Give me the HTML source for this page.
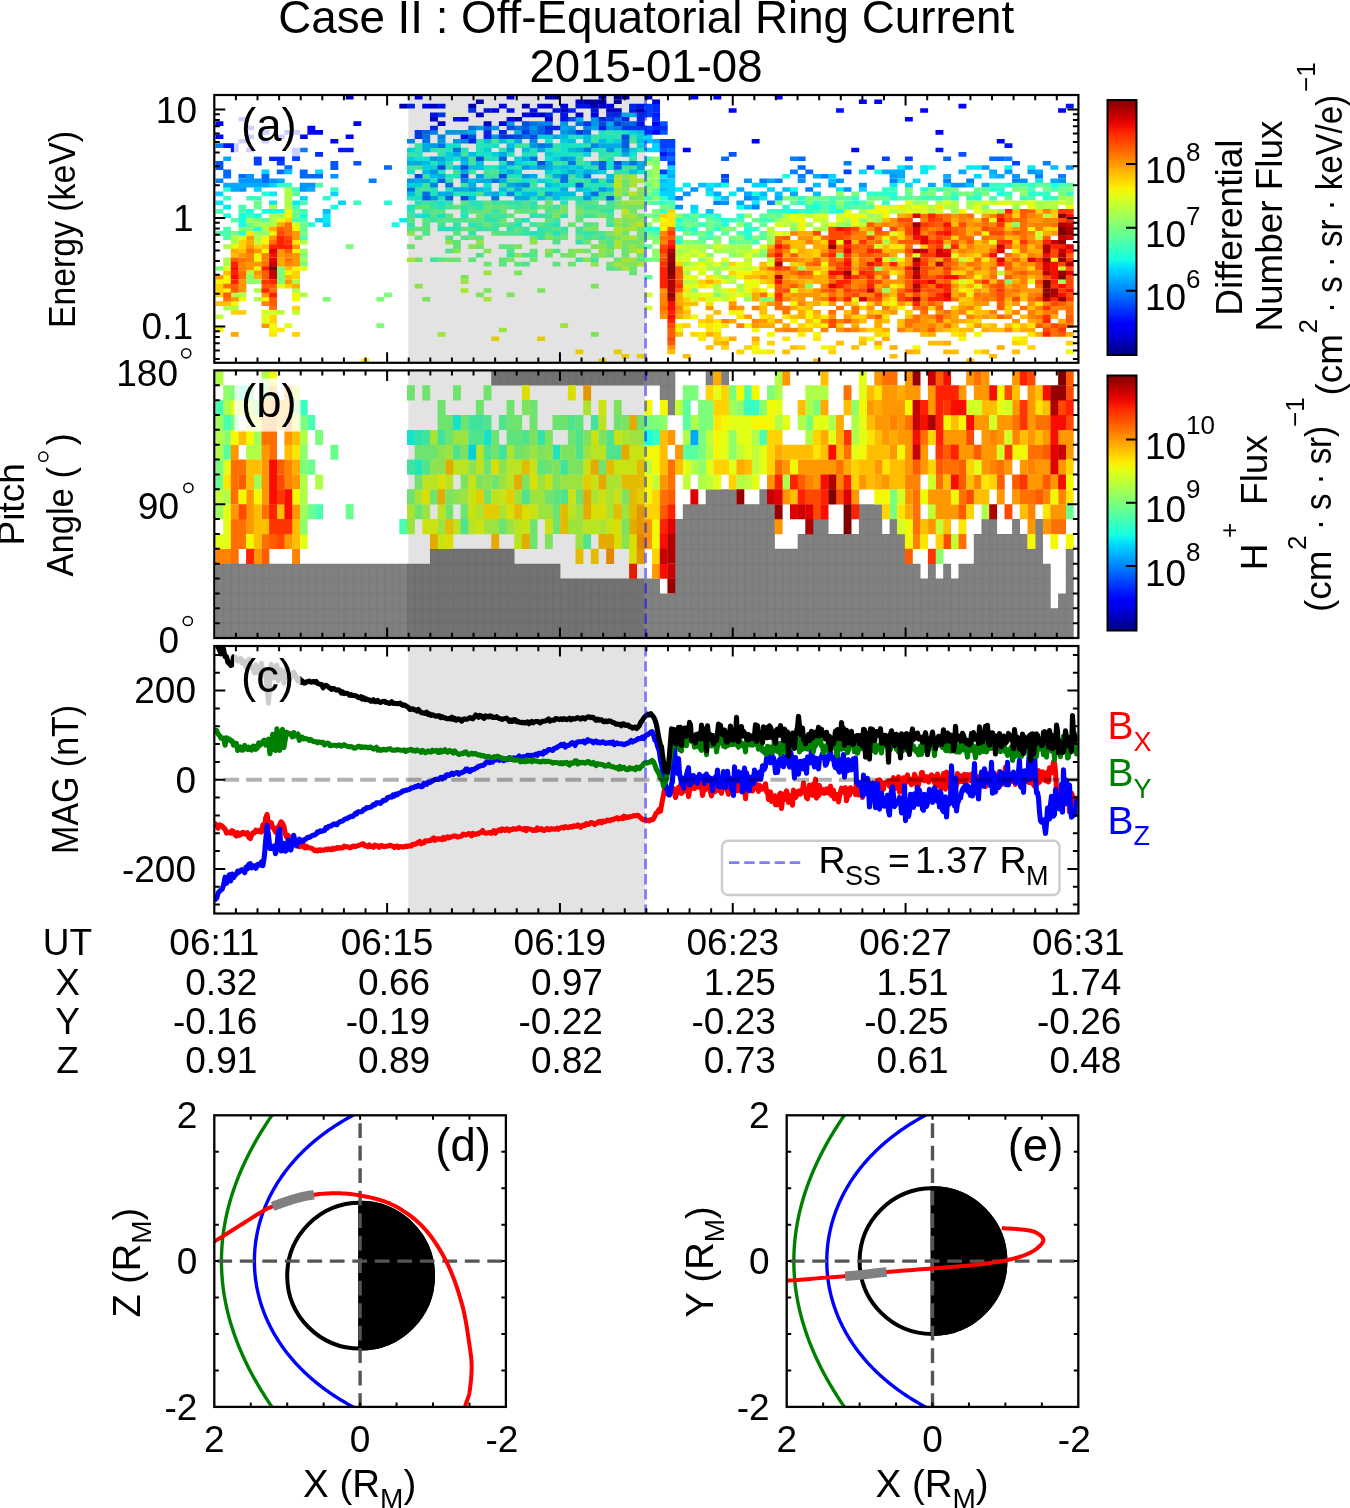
<!DOCTYPE html><html><head><meta charset="utf-8"><style>html,body{margin:0;padding:0;background:#fff;overflow:hidden}svg{display:block;will-change:transform}</style></head><body><svg width="1350" height="1508" viewBox="0 0 1350 1508" font-family="'Liberation Sans', sans-serif"><rect width="1350" height="1508" fill="#fff"/><defs><linearGradient id="jet" x1="0" y1="1" x2="0" y2="0"><stop offset="0.000" stop-color="#000080"/><stop offset="0.031" stop-color="#0000a4"/><stop offset="0.062" stop-color="#0000c8"/><stop offset="0.094" stop-color="#0000ec"/><stop offset="0.125" stop-color="#0000ff"/><stop offset="0.156" stop-color="#0020ff"/><stop offset="0.188" stop-color="#0040ff"/><stop offset="0.219" stop-color="#0060ff"/><stop offset="0.250" stop-color="#0080ff"/><stop offset="0.281" stop-color="#009fff"/><stop offset="0.312" stop-color="#00bfff"/><stop offset="0.344" stop-color="#00dffc"/><stop offset="0.375" stop-color="#15ffe2"/><stop offset="0.406" stop-color="#2effc9"/><stop offset="0.438" stop-color="#48ffaf"/><stop offset="0.469" stop-color="#62ff95"/><stop offset="0.500" stop-color="#7bff7b"/><stop offset="0.531" stop-color="#95ff62"/><stop offset="0.562" stop-color="#afff48"/><stop offset="0.594" stop-color="#c9ff2e"/><stop offset="0.625" stop-color="#e2ff15"/><stop offset="0.656" stop-color="#fcf000"/><stop offset="0.688" stop-color="#ffd200"/><stop offset="0.719" stop-color="#ffb500"/><stop offset="0.750" stop-color="#ff9700"/><stop offset="0.781" stop-color="#ff7a00"/><stop offset="0.812" stop-color="#ff5c00"/><stop offset="0.844" stop-color="#ff3f00"/><stop offset="0.875" stop-color="#ff2100"/><stop offset="0.906" stop-color="#ec0400"/><stop offset="0.938" stop-color="#c80000"/><stop offset="0.969" stop-color="#a40000"/><stop offset="1.000" stop-color="#800000"/></linearGradient></defs><text x="646.2" y="33.3" font-size="46" text-anchor="middle" fill="#000" textLength="736" lengthAdjust="spacingAndGlyphs">Case II : Off-Equatorial Ring Current</text><text x="646.0" y="82.3" font-size="46" text-anchor="middle" fill="#000" textLength="233" lengthAdjust="spacingAndGlyphs">2015-01-08</text><rect x="408.3" y="95.0" width="236.99999999999994" height="267.8" fill="#e3e3e3"/><path fill="#f3f903" d="M215.5 327.7h7.9v4.6h-7.9zM215.5 279.4h7.9v4.6h-7.9zM223.2 288.2h7.9v4.6h-7.9zM223.2 275.0h7.9v9.0h-7.9zM230.8 301.3h7.9v4.6h-7.9zM230.8 244.3h7.9v4.6h-7.9zM238.5 296.9h7.9v4.6h-7.9zM253.8 266.2h7.9v4.6h-7.9zM253.8 253.0h7.9v9.0h-7.9zM261.5 296.9h7.9v4.6h-7.9zM261.5 248.7h7.9v4.6h-7.9zM261.5 235.5h7.9v9.0h-7.9zM269.1 323.3h7.9v9.0h-7.9zM269.1 231.1h7.9v4.6h-7.9zM284.4 270.6h7.9v4.6h-7.9zM284.4 209.1h7.9v9.0h-7.9zM292.1 292.6h7.9v9.0h-7.9zM292.1 266.2h7.9v4.6h-7.9zM292.1 248.7h7.9v4.6h-7.9zM292.1 226.7h7.9v4.6h-7.9zM659.8 226.7h7.9v4.6h-7.9zM659.8 217.9h7.9v4.6h-7.9zM675.1 327.7h7.9v4.6h-7.9zM682.8 275.0h7.9v4.6h-7.9zM690.4 314.5h7.9v4.6h-7.9zM698.1 323.3h7.9v4.6h-7.9zM698.1 261.8h7.9v4.6h-7.9zM705.7 292.6h7.9v4.6h-7.9zM705.7 283.8h7.9v4.6h-7.9zM713.4 323.3h7.9v9.0h-7.9zM728.7 310.1h7.9v4.6h-7.9zM728.7 296.9h7.9v4.6h-7.9zM736.4 310.1h7.9v4.6h-7.9zM736.4 270.6h7.9v9.0h-7.9zM744.0 323.3h7.9v4.6h-7.9zM744.0 288.2h7.9v4.6h-7.9zM744.0 279.4h7.9v4.6h-7.9zM744.0 270.6h7.9v4.6h-7.9zM751.7 345.2h7.9v9.0h-7.9zM751.7 327.7h7.9v4.6h-7.9zM751.7 283.8h7.9v4.6h-7.9zM759.4 349.6h7.9v4.6h-7.9zM759.4 288.2h7.9v4.6h-7.9zM767.0 332.1h7.9v4.6h-7.9zM767.0 292.6h7.9v4.6h-7.9zM767.0 283.8h7.9v4.6h-7.9zM790.0 318.9h7.9v4.6h-7.9zM790.0 301.3h7.9v4.6h-7.9zM797.7 217.9h7.9v13.4h-7.9zM805.3 323.3h7.9v4.6h-7.9zM805.3 310.1h7.9v9.0h-7.9zM813.0 332.1h7.9v4.6h-7.9zM813.0 318.9h7.9v4.6h-7.9zM813.0 270.6h7.9v4.6h-7.9zM820.6 345.2h7.9v4.6h-7.9zM820.6 323.3h7.9v4.6h-7.9zM820.6 261.8h7.9v4.6h-7.9zM843.6 213.5h7.9v4.6h-7.9zM851.3 213.5h7.9v9.0h-7.9zM858.9 213.5h7.9v4.6h-7.9zM866.6 336.5h7.9v4.6h-7.9zM874.3 345.2h7.9v4.6h-7.9zM874.3 204.8h7.9v9.0h-7.9zM881.9 235.5h7.9v4.6h-7.9zM881.9 209.1h7.9v9.0h-7.9zM889.6 301.3h7.9v4.6h-7.9zM889.6 283.8h7.9v4.6h-7.9zM897.2 305.7h7.9v4.6h-7.9zM897.2 257.4h7.9v4.6h-7.9zM904.9 209.1h7.9v4.6h-7.9zM904.9 200.4h7.9v4.6h-7.9zM912.6 345.2h7.9v4.6h-7.9zM912.6 204.8h7.9v4.6h-7.9zM958.5 336.5h7.9v4.6h-7.9zM958.5 288.2h7.9v4.6h-7.9zM958.5 209.1h7.9v4.6h-7.9zM966.2 310.1h7.9v4.6h-7.9zM966.2 292.6h7.9v4.6h-7.9zM973.8 332.1h7.9v4.6h-7.9zM973.8 275.0h7.9v4.6h-7.9zM981.5 231.1h7.9v4.6h-7.9zM1012.1 336.5h7.9v4.6h-7.9zM1012.1 323.3h7.9v4.6h-7.9zM1027.5 226.7h7.9v4.6h-7.9zM1050.4 257.4h7.9v4.6h-7.9zM1065.8 349.6h7.9v4.6h-7.9zM1065.8 204.8h7.9v4.6h-7.9z"/><path fill="#c0ff37" d="M215.5 314.5h7.9v4.6h-7.9zM253.8 239.9h7.9v4.6h-7.9zM276.8 310.1h7.9v4.6h-7.9zM292.1 310.1h7.9v4.6h-7.9zM675.1 253.0h7.9v4.6h-7.9zM690.4 279.4h7.9v4.6h-7.9zM690.4 261.8h7.9v4.6h-7.9zM721.1 292.6h7.9v9.0h-7.9zM721.1 266.2h7.9v4.6h-7.9zM721.1 244.3h7.9v4.6h-7.9zM728.7 275.0h7.9v4.6h-7.9zM736.4 248.7h7.9v4.6h-7.9zM744.0 292.6h7.9v4.6h-7.9zM744.0 266.2h7.9v4.6h-7.9zM744.0 257.4h7.9v4.6h-7.9zM767.0 257.4h7.9v4.6h-7.9zM767.0 226.7h7.9v4.6h-7.9zM782.3 213.5h7.9v13.4h-7.9zM805.3 213.5h7.9v4.6h-7.9zM820.6 217.9h7.9v4.6h-7.9zM858.9 222.3h7.9v4.6h-7.9zM866.6 231.1h7.9v4.6h-7.9zM866.6 217.9h7.9v4.6h-7.9zM897.2 209.1h7.9v4.6h-7.9zM904.9 204.8h7.9v4.6h-7.9zM958.5 257.4h7.9v4.6h-7.9zM973.8 200.4h7.9v4.6h-7.9zM981.5 209.1h7.9v4.6h-7.9zM989.2 200.4h7.9v4.6h-7.9zM996.8 270.6h7.9v4.6h-7.9zM1012.1 200.4h7.9v4.6h-7.9zM1035.1 235.5h7.9v4.6h-7.9zM1050.4 200.4h7.9v4.6h-7.9z"/><path fill="#ffbe00" d="M215.5 301.3h7.9v4.6h-7.9zM223.2 301.3h7.9v4.6h-7.9zM223.2 270.6h7.9v4.6h-7.9zM230.8 253.0h7.9v4.6h-7.9zM238.5 248.7h7.9v4.6h-7.9zM261.5 244.3h7.9v4.6h-7.9zM284.4 275.0h7.9v4.6h-7.9zM284.4 266.2h7.9v4.6h-7.9zM667.4 349.6h7.9v4.6h-7.9zM675.1 332.1h7.9v4.6h-7.9zM682.8 354.0h7.9v4.6h-7.9zM682.8 310.1h7.9v4.6h-7.9zM682.8 301.3h7.9v4.6h-7.9zM690.4 301.3h7.9v4.6h-7.9zM705.7 345.2h7.9v4.6h-7.9zM705.7 318.9h7.9v4.6h-7.9zM713.4 340.8h7.9v4.6h-7.9zM713.4 310.1h7.9v4.6h-7.9zM744.0 275.0h7.9v4.6h-7.9zM751.7 275.0h7.9v4.6h-7.9zM759.4 305.7h7.9v9.0h-7.9zM759.4 261.8h7.9v4.6h-7.9zM767.0 270.6h7.9v13.4h-7.9zM782.3 349.6h7.9v4.6h-7.9zM790.0 345.2h7.9v4.6h-7.9zM790.0 314.5h7.9v4.6h-7.9zM790.0 239.9h7.9v9.0h-7.9zM797.7 327.7h7.9v4.6h-7.9zM797.7 261.8h7.9v4.6h-7.9zM797.7 253.0h7.9v4.6h-7.9zM797.7 239.9h7.9v9.0h-7.9zM805.3 327.7h7.9v4.6h-7.9zM805.3 318.9h7.9v4.6h-7.9zM805.3 301.3h7.9v9.0h-7.9zM805.3 288.2h7.9v4.6h-7.9zM805.3 279.4h7.9v4.6h-7.9zM805.3 248.7h7.9v9.0h-7.9zM813.0 358.4h7.9v4.6h-7.9zM813.0 314.5h7.9v4.6h-7.9zM820.6 292.6h7.9v4.6h-7.9zM820.6 270.6h7.9v4.6h-7.9zM836.0 340.8h7.9v4.6h-7.9zM843.6 310.1h7.9v4.6h-7.9zM851.3 345.2h7.9v4.6h-7.9zM851.3 270.6h7.9v4.6h-7.9zM851.3 257.4h7.9v4.6h-7.9zM851.3 239.9h7.9v4.6h-7.9zM858.9 340.8h7.9v4.6h-7.9zM858.9 318.9h7.9v4.6h-7.9zM858.9 226.7h7.9v4.6h-7.9zM866.6 310.1h7.9v4.6h-7.9zM874.3 275.0h7.9v4.6h-7.9zM881.9 318.9h7.9v4.6h-7.9zM881.9 296.9h7.9v4.6h-7.9zM881.9 244.3h7.9v9.0h-7.9zM881.9 217.9h7.9v4.6h-7.9zM889.6 354.0h7.9v4.6h-7.9zM889.6 305.7h7.9v4.6h-7.9zM889.6 288.2h7.9v9.0h-7.9zM897.2 318.9h7.9v9.0h-7.9zM897.2 270.6h7.9v4.6h-7.9zM897.2 261.8h7.9v4.6h-7.9zM904.9 314.5h7.9v4.6h-7.9zM912.6 349.6h7.9v4.6h-7.9zM920.2 332.1h7.9v4.6h-7.9zM927.9 340.8h7.9v4.6h-7.9zM935.5 340.8h7.9v4.6h-7.9zM943.2 349.6h7.9v4.6h-7.9zM943.2 327.7h7.9v4.6h-7.9zM943.2 318.9h7.9v4.6h-7.9zM950.9 349.6h7.9v4.6h-7.9zM950.9 323.3h7.9v4.6h-7.9zM950.9 222.3h7.9v4.6h-7.9zM958.5 327.7h7.9v4.6h-7.9zM958.5 301.3h7.9v4.6h-7.9zM958.5 244.3h7.9v4.6h-7.9zM966.2 358.4h7.9v4.6h-7.9zM966.2 327.7h7.9v4.6h-7.9zM966.2 318.9h7.9v4.6h-7.9zM966.2 296.9h7.9v9.0h-7.9zM966.2 266.2h7.9v4.6h-7.9zM966.2 253.0h7.9v4.6h-7.9zM973.8 310.1h7.9v4.6h-7.9zM973.8 270.6h7.9v4.6h-7.9zM973.8 239.9h7.9v4.6h-7.9zM973.8 217.9h7.9v4.6h-7.9zM981.5 349.6h7.9v4.6h-7.9zM981.5 310.1h7.9v4.6h-7.9zM981.5 288.2h7.9v4.6h-7.9zM981.5 270.6h7.9v4.6h-7.9zM989.2 354.0h7.9v4.6h-7.9zM989.2 323.3h7.9v9.0h-7.9zM989.2 279.4h7.9v4.6h-7.9zM996.8 327.7h7.9v4.6h-7.9zM1004.5 323.3h7.9v4.6h-7.9zM1004.5 301.3h7.9v4.6h-7.9zM1004.5 235.5h7.9v4.6h-7.9zM1004.5 226.7h7.9v4.6h-7.9zM1012.1 349.6h7.9v4.6h-7.9zM1012.1 209.1h7.9v4.6h-7.9zM1019.8 323.3h7.9v4.6h-7.9zM1019.8 314.5h7.9v4.6h-7.9zM1019.8 292.6h7.9v9.0h-7.9zM1027.5 305.7h7.9v4.6h-7.9zM1027.5 275.0h7.9v4.6h-7.9zM1027.5 244.3h7.9v4.6h-7.9zM1050.4 209.1h7.9v4.6h-7.9z"/><path fill="#ffd200" d="M215.5 283.8h7.9v13.4h-7.9zM230.8 310.1h7.9v4.6h-7.9zM238.5 310.1h7.9v4.6h-7.9zM238.5 239.9h7.9v9.0h-7.9zM253.8 244.3h7.9v4.6h-7.9zM269.1 314.5h7.9v9.0h-7.9zM284.4 283.8h7.9v4.6h-7.9zM284.4 217.9h7.9v4.6h-7.9zM292.1 332.1h7.9v4.6h-7.9zM292.1 305.7h7.9v4.6h-7.9zM292.1 270.6h7.9v9.0h-7.9zM659.8 213.5h7.9v4.6h-7.9zM667.4 209.1h7.9v4.6h-7.9zM675.1 261.8h7.9v4.6h-7.9zM682.8 323.3h7.9v4.6h-7.9zM682.8 314.5h7.9v4.6h-7.9zM682.8 296.9h7.9v4.6h-7.9zM690.4 332.1h7.9v4.6h-7.9zM698.1 318.9h7.9v4.6h-7.9zM698.1 296.9h7.9v4.6h-7.9zM698.1 279.4h7.9v4.6h-7.9zM705.7 314.5h7.9v4.6h-7.9zM713.4 332.1h7.9v9.0h-7.9zM713.4 279.4h7.9v4.6h-7.9zM721.1 345.2h7.9v4.6h-7.9zM728.7 270.6h7.9v4.6h-7.9zM728.7 261.8h7.9v4.6h-7.9zM736.4 349.6h7.9v4.6h-7.9zM744.0 345.2h7.9v4.6h-7.9zM751.7 340.8h7.9v4.6h-7.9zM751.7 288.2h7.9v4.6h-7.9zM751.7 270.6h7.9v4.6h-7.9zM759.4 301.3h7.9v4.6h-7.9zM759.4 279.4h7.9v4.6h-7.9zM759.4 270.6h7.9v4.6h-7.9zM767.0 340.8h7.9v4.6h-7.9zM767.0 314.5h7.9v9.0h-7.9zM790.0 261.8h7.9v4.6h-7.9zM797.7 345.2h7.9v4.6h-7.9zM797.7 323.3h7.9v4.6h-7.9zM797.7 305.7h7.9v4.6h-7.9zM813.0 323.3h7.9v4.6h-7.9zM813.0 248.7h7.9v9.0h-7.9zM820.6 266.2h7.9v4.6h-7.9zM820.6 239.9h7.9v4.6h-7.9zM828.3 349.6h7.9v4.6h-7.9zM836.0 323.3h7.9v4.6h-7.9zM851.3 314.5h7.9v4.6h-7.9zM851.3 301.3h7.9v4.6h-7.9zM858.9 336.5h7.9v4.6h-7.9zM858.9 314.5h7.9v4.6h-7.9zM858.9 305.7h7.9v4.6h-7.9zM866.6 327.7h7.9v4.6h-7.9zM866.6 301.3h7.9v4.6h-7.9zM874.3 327.7h7.9v9.0h-7.9zM874.3 310.1h7.9v4.6h-7.9zM897.2 283.8h7.9v4.6h-7.9zM897.2 231.1h7.9v9.0h-7.9zM904.9 310.1h7.9v4.6h-7.9zM904.9 301.3h7.9v4.6h-7.9zM920.2 244.3h7.9v4.6h-7.9zM927.9 305.7h7.9v4.6h-7.9zM950.9 327.7h7.9v4.6h-7.9zM950.9 305.7h7.9v4.6h-7.9zM950.9 279.4h7.9v4.6h-7.9zM950.9 270.6h7.9v4.6h-7.9zM950.9 235.5h7.9v4.6h-7.9zM958.5 332.1h7.9v4.6h-7.9zM958.5 296.9h7.9v4.6h-7.9zM958.5 283.8h7.9v4.6h-7.9zM958.5 270.6h7.9v4.6h-7.9zM973.8 318.9h7.9v4.6h-7.9zM973.8 305.7h7.9v4.6h-7.9zM973.8 253.0h7.9v4.6h-7.9zM981.5 323.3h7.9v4.6h-7.9zM1004.5 305.7h7.9v9.0h-7.9zM1004.5 222.3h7.9v4.6h-7.9zM1012.1 340.8h7.9v4.6h-7.9zM1012.1 327.7h7.9v4.6h-7.9zM1012.1 239.9h7.9v4.6h-7.9zM1012.1 213.5h7.9v4.6h-7.9zM1019.8 253.0h7.9v4.6h-7.9zM1027.5 345.2h7.9v4.6h-7.9zM1027.5 266.2h7.9v4.6h-7.9zM1035.1 209.1h7.9v4.6h-7.9zM1042.8 226.7h7.9v4.6h-7.9zM1050.4 226.7h7.9v4.6h-7.9zM1050.4 213.5h7.9v4.6h-7.9zM1065.8 340.8h7.9v4.6h-7.9z"/><path fill="#ff9700" d="M215.5 275.0h7.9v4.6h-7.9zM230.8 296.9h7.9v4.6h-7.9zM238.5 279.4h7.9v13.4h-7.9zM238.5 253.0h7.9v4.6h-7.9zM246.1 261.8h7.9v9.0h-7.9zM246.1 244.3h7.9v4.6h-7.9zM246.1 235.5h7.9v4.6h-7.9zM253.8 270.6h7.9v4.6h-7.9zM253.8 261.8h7.9v4.6h-7.9zM253.8 248.7h7.9v4.6h-7.9zM261.5 323.3h7.9v4.6h-7.9zM261.5 292.6h7.9v4.6h-7.9zM269.1 235.5h7.9v4.6h-7.9zM276.8 248.7h7.9v9.0h-7.9zM284.4 279.4h7.9v4.6h-7.9zM292.1 253.0h7.9v13.4h-7.9zM292.1 244.3h7.9v4.6h-7.9zM292.1 231.1h7.9v9.0h-7.9zM659.8 314.5h7.9v4.6h-7.9zM659.8 288.2h7.9v4.6h-7.9zM667.4 345.2h7.9v4.6h-7.9zM675.1 310.1h7.9v4.6h-7.9zM705.7 305.7h7.9v4.6h-7.9zM728.7 301.3h7.9v4.6h-7.9zM736.4 305.7h7.9v4.6h-7.9zM744.0 314.5h7.9v4.6h-7.9zM751.7 323.3h7.9v4.6h-7.9zM759.4 318.9h7.9v4.6h-7.9zM759.4 275.0h7.9v4.6h-7.9zM767.0 301.3h7.9v4.6h-7.9zM774.7 327.7h7.9v4.6h-7.9zM774.7 318.9h7.9v4.6h-7.9zM782.3 270.6h7.9v9.0h-7.9zM790.0 292.6h7.9v4.6h-7.9zM790.0 279.4h7.9v4.6h-7.9zM790.0 266.2h7.9v4.6h-7.9zM797.7 292.6h7.9v9.0h-7.9zM797.7 283.8h7.9v4.6h-7.9zM797.7 257.4h7.9v4.6h-7.9zM797.7 235.5h7.9v4.6h-7.9zM805.3 292.6h7.9v4.6h-7.9zM805.3 235.5h7.9v4.6h-7.9zM813.0 288.2h7.9v13.4h-7.9zM820.6 248.7h7.9v4.6h-7.9zM828.3 314.5h7.9v4.6h-7.9zM828.3 301.3h7.9v4.6h-7.9zM828.3 266.2h7.9v4.6h-7.9zM836.0 327.7h7.9v4.6h-7.9zM836.0 288.2h7.9v9.0h-7.9zM843.6 314.5h7.9v4.6h-7.9zM851.3 318.9h7.9v4.6h-7.9zM851.3 266.2h7.9v4.6h-7.9zM851.3 253.0h7.9v4.6h-7.9zM866.6 305.7h7.9v4.6h-7.9zM866.6 226.7h7.9v4.6h-7.9zM874.3 235.5h7.9v4.6h-7.9zM874.3 222.3h7.9v4.6h-7.9zM881.9 292.6h7.9v4.6h-7.9zM881.9 279.4h7.9v4.6h-7.9zM881.9 261.8h7.9v4.6h-7.9zM889.6 310.1h7.9v4.6h-7.9zM889.6 279.4h7.9v4.6h-7.9zM889.6 266.2h7.9v4.6h-7.9zM889.6 235.5h7.9v4.6h-7.9zM889.6 217.9h7.9v9.0h-7.9zM897.2 301.3h7.9v4.6h-7.9zM897.2 275.0h7.9v9.0h-7.9zM897.2 266.2h7.9v4.6h-7.9zM897.2 226.7h7.9v4.6h-7.9zM904.9 292.6h7.9v4.6h-7.9zM904.9 257.4h7.9v9.0h-7.9zM904.9 213.5h7.9v4.6h-7.9zM912.6 323.3h7.9v4.6h-7.9zM920.2 314.5h7.9v17.8h-7.9zM927.9 261.8h7.9v4.6h-7.9zM935.5 310.1h7.9v4.6h-7.9zM950.9 318.9h7.9v4.6h-7.9zM950.9 283.8h7.9v4.6h-7.9zM950.9 257.4h7.9v4.6h-7.9zM950.9 213.5h7.9v4.6h-7.9zM958.5 305.7h7.9v4.6h-7.9zM958.5 266.2h7.9v4.6h-7.9zM958.5 239.9h7.9v4.6h-7.9zM966.2 275.0h7.9v4.6h-7.9zM966.2 248.7h7.9v4.6h-7.9zM966.2 217.9h7.9v9.0h-7.9zM973.8 323.3h7.9v4.6h-7.9zM973.8 301.3h7.9v4.6h-7.9zM973.8 288.2h7.9v4.6h-7.9zM981.5 314.5h7.9v4.6h-7.9zM981.5 301.3h7.9v4.6h-7.9zM981.5 283.8h7.9v4.6h-7.9zM981.5 239.9h7.9v4.6h-7.9zM989.2 257.4h7.9v9.0h-7.9zM989.2 244.3h7.9v4.6h-7.9zM1004.5 270.6h7.9v4.6h-7.9zM1004.5 257.4h7.9v4.6h-7.9zM1012.1 318.9h7.9v4.6h-7.9zM1012.1 301.3h7.9v4.6h-7.9zM1012.1 292.6h7.9v4.6h-7.9zM1012.1 275.0h7.9v4.6h-7.9zM1012.1 266.2h7.9v4.6h-7.9zM1012.1 253.0h7.9v4.6h-7.9zM1012.1 226.7h7.9v4.6h-7.9zM1019.8 283.8h7.9v9.0h-7.9zM1019.8 266.2h7.9v4.6h-7.9zM1027.5 301.3h7.9v4.6h-7.9zM1027.5 288.2h7.9v4.6h-7.9zM1027.5 261.8h7.9v4.6h-7.9zM1027.5 235.5h7.9v4.6h-7.9zM1027.5 217.9h7.9v4.6h-7.9zM1035.1 318.9h7.9v4.6h-7.9zM1035.1 288.2h7.9v4.6h-7.9zM1035.1 275.0h7.9v4.6h-7.9zM1035.1 253.0h7.9v4.6h-7.9zM1035.1 239.9h7.9v4.6h-7.9zM1035.1 213.5h7.9v9.0h-7.9zM1050.4 231.1h7.9v4.6h-7.9z"/><path fill="#7bff7b" d="M215.5 266.2h7.9v4.6h-7.9zM230.8 231.1h7.9v4.6h-7.9zM238.5 226.7h7.9v4.6h-7.9zM246.1 226.7h7.9v4.6h-7.9zM253.8 217.9h7.9v4.6h-7.9zM276.8 266.2h7.9v17.8h-7.9zM299.8 261.8h7.9v4.6h-7.9zM299.8 253.0h7.9v4.6h-7.9zM299.8 231.1h7.9v4.6h-7.9zM322.7 296.9h7.9v4.6h-7.9zM345.7 244.3h7.9v4.6h-7.9zM376.4 323.3h7.9v4.6h-7.9zM376.4 296.9h7.9v4.6h-7.9zM384.0 292.6h7.9v4.6h-7.9zM644.5 213.5h7.9v4.6h-7.9zM644.5 191.6h7.9v4.6h-7.9zM644.5 169.6h7.9v9.0h-7.9zM652.1 257.4h7.9v4.6h-7.9zM652.1 235.5h7.9v4.6h-7.9zM652.1 209.1h7.9v4.6h-7.9zM652.1 160.9h7.9v4.6h-7.9zM659.8 204.8h7.9v4.6h-7.9zM682.8 231.1h7.9v4.6h-7.9zM682.8 222.3h7.9v4.6h-7.9zM690.4 239.9h7.9v4.6h-7.9zM690.4 213.5h7.9v4.6h-7.9zM698.1 231.1h7.9v4.6h-7.9zM713.4 292.6h7.9v4.6h-7.9zM713.4 235.5h7.9v4.6h-7.9zM728.7 235.5h7.9v4.6h-7.9zM728.7 226.7h7.9v4.6h-7.9zM751.7 235.5h7.9v4.6h-7.9zM759.4 296.9h7.9v4.6h-7.9zM759.4 253.0h7.9v4.6h-7.9zM767.0 213.5h7.9v4.6h-7.9zM774.7 200.4h7.9v4.6h-7.9zM782.3 196.0h7.9v4.6h-7.9zM790.0 196.0h7.9v4.6h-7.9zM805.3 196.0h7.9v9.0h-7.9zM813.0 196.0h7.9v4.6h-7.9zM851.3 191.6h7.9v4.6h-7.9zM904.9 187.2h7.9v4.6h-7.9zM927.9 191.6h7.9v4.6h-7.9zM943.2 191.6h7.9v4.6h-7.9zM950.9 187.2h7.9v4.6h-7.9zM958.5 191.6h7.9v4.6h-7.9zM966.2 191.6h7.9v4.6h-7.9zM981.5 191.6h7.9v4.6h-7.9zM1004.5 279.4h7.9v4.6h-7.9zM1012.1 187.2h7.9v4.6h-7.9zM1019.8 187.2h7.9v4.6h-7.9zM1058.1 191.6h7.9v4.6h-7.9zM1065.8 187.2h7.9v4.6h-7.9z"/><path fill="#48ffaf" d="M215.5 231.1h7.9v4.6h-7.9zM215.5 209.1h7.9v4.6h-7.9zM223.2 226.7h7.9v13.4h-7.9zM238.5 204.8h7.9v9.0h-7.9zM246.1 213.5h7.9v4.6h-7.9zM292.1 217.9h7.9v4.6h-7.9zM292.1 204.8h7.9v4.6h-7.9zM299.8 235.5h7.9v4.6h-7.9zM299.8 217.9h7.9v4.6h-7.9zM299.8 209.1h7.9v4.6h-7.9zM299.8 200.4h7.9v4.6h-7.9zM315.1 182.8h7.9v4.6h-7.9zM644.5 156.5h7.9v4.6h-7.9zM652.1 231.1h7.9v4.6h-7.9zM652.1 200.4h7.9v4.6h-7.9zM652.1 191.6h7.9v4.6h-7.9zM667.4 200.4h7.9v4.6h-7.9zM675.1 235.5h7.9v4.6h-7.9zM675.1 222.3h7.9v4.6h-7.9zM682.8 226.7h7.9v4.6h-7.9zM690.4 231.1h7.9v4.6h-7.9zM690.4 217.9h7.9v4.6h-7.9zM705.7 235.5h7.9v4.6h-7.9zM705.7 213.5h7.9v4.6h-7.9zM713.4 217.9h7.9v4.6h-7.9zM736.4 231.1h7.9v4.6h-7.9zM736.4 217.9h7.9v4.6h-7.9zM751.7 239.9h7.9v4.6h-7.9zM767.0 217.9h7.9v4.6h-7.9zM813.0 209.1h7.9v4.6h-7.9zM820.6 204.8h7.9v4.6h-7.9zM828.3 196.0h7.9v9.0h-7.9zM843.6 200.4h7.9v4.6h-7.9zM858.9 200.4h7.9v4.6h-7.9zM866.6 204.8h7.9v4.6h-7.9zM927.9 196.0h7.9v4.6h-7.9zM950.9 191.6h7.9v4.6h-7.9zM973.8 191.6h7.9v4.6h-7.9zM989.2 196.0h7.9v4.6h-7.9zM1027.5 196.0h7.9v4.6h-7.9zM1027.5 187.2h7.9v4.6h-7.9zM1050.4 187.2h7.9v4.6h-7.9zM1058.1 182.8h7.9v4.6h-7.9z"/><path fill="#03eaf3" d="M215.5 200.4h7.9v4.6h-7.9zM223.2 204.8h7.9v4.6h-7.9zM269.1 200.4h7.9v4.6h-7.9zM269.1 191.6h7.9v4.6h-7.9zM292.1 200.4h7.9v4.6h-7.9zM322.7 213.5h7.9v9.0h-7.9zM399.3 217.9h7.9v4.6h-7.9zM659.8 174.0h7.9v4.6h-7.9zM675.1 187.2h7.9v4.6h-7.9zM682.8 182.8h7.9v4.6h-7.9zM690.4 209.1h7.9v4.6h-7.9zM705.7 191.6h7.9v4.6h-7.9zM705.7 182.8h7.9v4.6h-7.9zM728.7 191.6h7.9v4.6h-7.9zM751.7 200.4h7.9v4.6h-7.9zM759.4 196.0h7.9v4.6h-7.9zM836.0 187.2h7.9v4.6h-7.9zM889.6 182.8h7.9v4.6h-7.9zM897.2 178.4h7.9v4.6h-7.9zM897.2 165.2h7.9v4.6h-7.9zM920.2 165.2h7.9v9.0h-7.9zM966.2 165.2h7.9v4.6h-7.9zM973.8 165.2h7.9v4.6h-7.9zM1027.5 165.2h7.9v4.6h-7.9zM1035.1 178.4h7.9v4.6h-7.9z"/><path fill="#00d4ff" d="M215.5 191.6h7.9v4.6h-7.9zM253.8 187.2h7.9v4.6h-7.9zM261.5 169.6h7.9v4.6h-7.9zM269.1 182.8h7.9v4.6h-7.9zM299.8 196.0h7.9v4.6h-7.9zM315.1 217.9h7.9v4.6h-7.9zM315.1 169.6h7.9v4.6h-7.9zM322.7 222.3h7.9v4.6h-7.9zM330.4 191.6h7.9v4.6h-7.9zM338.1 200.4h7.9v4.6h-7.9zM644.5 147.7h7.9v4.6h-7.9zM644.5 134.5h7.9v4.6h-7.9zM652.1 143.3h7.9v9.0h-7.9zM659.8 191.6h7.9v4.6h-7.9zM659.8 182.8h7.9v4.6h-7.9zM667.4 178.4h7.9v22.2h-7.9zM667.4 165.2h7.9v4.6h-7.9zM690.4 204.8h7.9v4.6h-7.9zM705.7 187.2h7.9v4.6h-7.9zM713.4 182.8h7.9v4.6h-7.9zM751.7 182.8h7.9v4.6h-7.9zM759.4 182.8h7.9v4.6h-7.9zM767.0 187.2h7.9v4.6h-7.9zM828.3 174.0h7.9v4.6h-7.9zM858.9 187.2h7.9v4.6h-7.9zM858.9 169.6h7.9v4.6h-7.9zM904.9 182.8h7.9v4.6h-7.9zM912.6 178.4h7.9v4.6h-7.9zM943.2 182.8h7.9v4.6h-7.9zM973.8 174.0h7.9v4.6h-7.9z"/><path fill="#0080ff" d="M215.5 178.4h7.9v4.6h-7.9zM215.5 143.3h7.9v4.6h-7.9zM299.8 147.7h7.9v4.6h-7.9zM368.7 178.4h7.9v4.6h-7.9zM675.1 196.0h7.9v4.6h-7.9zM713.4 200.4h7.9v4.6h-7.9zM744.0 196.0h7.9v4.6h-7.9zM751.7 204.8h7.9v4.6h-7.9zM759.4 178.4h7.9v4.6h-7.9zM767.0 200.4h7.9v4.6h-7.9zM774.7 178.4h7.9v4.6h-7.9zM790.0 169.6h7.9v4.6h-7.9zM790.0 156.5h7.9v4.6h-7.9zM797.7 174.0h7.9v4.6h-7.9zM805.3 187.2h7.9v4.6h-7.9zM820.6 174.0h7.9v4.6h-7.9zM843.6 160.9h7.9v4.6h-7.9zM889.6 178.4h7.9v4.6h-7.9zM943.2 178.4h7.9v4.6h-7.9zM966.2 178.4h7.9v4.6h-7.9zM1004.5 156.5h7.9v4.6h-7.9zM1012.1 178.4h7.9v4.6h-7.9zM1035.1 174.0h7.9v4.6h-7.9zM1042.8 160.9h7.9v4.6h-7.9zM1058.1 174.0h7.9v4.6h-7.9z"/><path fill="#0055ff" d="M215.5 160.9h7.9v9.0h-7.9zM330.4 160.9h7.9v9.0h-7.9zM353.4 160.9h7.9v4.6h-7.9zM659.8 156.5h7.9v4.6h-7.9zM659.8 147.7h7.9v4.6h-7.9zM659.8 130.1h7.9v4.6h-7.9zM659.8 121.3h7.9v4.6h-7.9zM721.1 178.4h7.9v4.6h-7.9zM728.7 152.1h7.9v4.6h-7.9zM958.5 152.1h7.9v4.6h-7.9z"/><path fill="#0000ff" d="M215.5 134.5h7.9v4.6h-7.9zM215.5 121.3h7.9v4.6h-7.9zM299.8 134.5h7.9v4.6h-7.9zM307.4 125.7h7.9v9.0h-7.9zM315.1 130.1h7.9v4.6h-7.9zM330.4 138.9h7.9v4.6h-7.9zM345.7 134.5h7.9v4.6h-7.9zM652.1 130.1h7.9v4.6h-7.9zM652.1 121.3h7.9v4.6h-7.9zM682.8 147.7h7.9v4.6h-7.9zM690.4 95.0h7.9v4.6h-7.9zM713.4 95.0h7.9v4.6h-7.9zM728.7 108.2h7.9v4.6h-7.9zM851.3 147.7h7.9v4.6h-7.9zM858.9 99.4h7.9v4.6h-7.9zM874.3 99.4h7.9v4.6h-7.9zM904.9 117.0h7.9v4.6h-7.9zM920.2 108.2h7.9v4.6h-7.9zM935.5 130.1h7.9v4.6h-7.9zM958.5 103.8h7.9v4.6h-7.9zM1058.1 108.2h7.9v4.6h-7.9z"/><path fill="#afff48" d="M223.2 305.7h7.9v4.6h-7.9zM223.2 257.4h7.9v9.0h-7.9zM223.2 244.3h7.9v4.6h-7.9zM230.8 305.7h7.9v4.6h-7.9zM230.8 292.6h7.9v4.6h-7.9zM230.8 235.5h7.9v9.0h-7.9zM238.5 292.6h7.9v4.6h-7.9zM246.1 270.6h7.9v4.6h-7.9zM253.8 296.9h7.9v4.6h-7.9zM253.8 288.2h7.9v4.6h-7.9zM253.8 235.5h7.9v4.6h-7.9zM261.5 222.3h7.9v9.0h-7.9zM269.1 213.5h7.9v13.4h-7.9zM269.1 204.8h7.9v4.6h-7.9zM284.4 187.2h7.9v22.2h-7.9zM292.1 288.2h7.9v4.6h-7.9zM292.1 279.4h7.9v4.6h-7.9zM299.8 292.6h7.9v4.6h-7.9zM299.8 239.9h7.9v4.6h-7.9zM682.8 279.4h7.9v4.6h-7.9zM682.8 270.6h7.9v4.6h-7.9zM682.8 244.3h7.9v9.0h-7.9zM690.4 253.0h7.9v4.6h-7.9zM690.4 244.3h7.9v4.6h-7.9zM698.1 244.3h7.9v9.0h-7.9zM705.7 261.8h7.9v9.0h-7.9zM713.4 283.8h7.9v9.0h-7.9zM713.4 248.7h7.9v4.6h-7.9zM728.7 279.4h7.9v4.6h-7.9zM728.7 244.3h7.9v4.6h-7.9zM736.4 283.8h7.9v9.0h-7.9zM744.0 248.7h7.9v4.6h-7.9zM767.0 231.1h7.9v4.6h-7.9zM805.3 222.3h7.9v4.6h-7.9zM813.0 226.7h7.9v4.6h-7.9zM820.6 222.3h7.9v9.0h-7.9zM843.6 217.9h7.9v4.6h-7.9zM874.3 213.5h7.9v4.6h-7.9zM881.9 239.9h7.9v4.6h-7.9zM889.6 209.1h7.9v4.6h-7.9zM927.9 204.8h7.9v9.0h-7.9zM935.5 200.4h7.9v4.6h-7.9zM943.2 244.3h7.9v4.6h-7.9zM943.2 204.8h7.9v4.6h-7.9zM950.9 200.4h7.9v9.0h-7.9zM966.2 204.8h7.9v4.6h-7.9zM1035.1 204.8h7.9v4.6h-7.9zM1042.8 213.5h7.9v4.6h-7.9zM1042.8 200.4h7.9v9.0h-7.9zM1050.4 204.8h7.9v4.6h-7.9zM1065.8 196.0h7.9v9.0h-7.9z"/><path fill="#ff7000" d="M223.2 296.9h7.9v4.6h-7.9zM223.2 283.8h7.9v4.6h-7.9zM238.5 270.6h7.9v9.0h-7.9zM238.5 257.4h7.9v4.6h-7.9zM246.1 248.7h7.9v4.6h-7.9zM261.5 261.8h7.9v4.6h-7.9zM269.1 305.7h7.9v4.6h-7.9zM269.1 288.2h7.9v4.6h-7.9zM269.1 239.9h7.9v4.6h-7.9zM284.4 257.4h7.9v4.6h-7.9zM284.4 222.3h7.9v13.4h-7.9zM659.8 305.7h7.9v4.6h-7.9zM659.8 235.5h7.9v4.6h-7.9zM759.4 292.6h7.9v4.6h-7.9zM767.0 266.2h7.9v4.6h-7.9zM774.7 301.3h7.9v9.0h-7.9zM774.7 235.5h7.9v4.6h-7.9zM782.3 305.7h7.9v9.0h-7.9zM782.3 257.4h7.9v4.6h-7.9zM790.0 270.6h7.9v4.6h-7.9zM805.3 261.8h7.9v4.6h-7.9zM813.0 257.4h7.9v4.6h-7.9zM820.6 235.5h7.9v4.6h-7.9zM828.3 310.1h7.9v4.6h-7.9zM828.3 292.6h7.9v4.6h-7.9zM828.3 279.4h7.9v4.6h-7.9zM836.0 305.7h7.9v4.6h-7.9zM836.0 296.9h7.9v4.6h-7.9zM836.0 244.3h7.9v4.6h-7.9zM843.6 327.7h7.9v4.6h-7.9zM851.3 305.7h7.9v9.0h-7.9zM851.3 248.7h7.9v4.6h-7.9zM851.3 231.1h7.9v4.6h-7.9zM858.9 283.8h7.9v4.6h-7.9zM858.9 257.4h7.9v9.0h-7.9zM858.9 244.3h7.9v9.0h-7.9zM874.3 270.6h7.9v4.6h-7.9zM874.3 253.0h7.9v4.6h-7.9zM874.3 239.9h7.9v4.6h-7.9zM881.9 253.0h7.9v4.6h-7.9zM881.9 231.1h7.9v4.6h-7.9zM897.2 288.2h7.9v4.6h-7.9zM897.2 222.3h7.9v4.6h-7.9zM904.9 318.9h7.9v9.0h-7.9zM904.9 253.0h7.9v4.6h-7.9zM904.9 244.3h7.9v4.6h-7.9zM912.6 314.5h7.9v9.0h-7.9zM912.6 305.7h7.9v4.6h-7.9zM920.2 310.1h7.9v4.6h-7.9zM920.2 296.9h7.9v4.6h-7.9zM920.2 213.5h7.9v4.6h-7.9zM927.9 283.8h7.9v4.6h-7.9zM927.9 235.5h7.9v4.6h-7.9zM935.5 279.4h7.9v4.6h-7.9zM935.5 226.7h7.9v4.6h-7.9zM943.2 323.3h7.9v4.6h-7.9zM943.2 310.1h7.9v4.6h-7.9zM943.2 213.5h7.9v9.0h-7.9zM950.9 296.9h7.9v4.6h-7.9zM950.9 261.8h7.9v4.6h-7.9zM958.5 275.0h7.9v4.6h-7.9zM958.5 226.7h7.9v13.4h-7.9zM966.2 261.8h7.9v4.6h-7.9zM966.2 235.5h7.9v4.6h-7.9zM966.2 213.5h7.9v4.6h-7.9zM973.8 292.6h7.9v4.6h-7.9zM973.8 279.4h7.9v4.6h-7.9zM973.8 266.2h7.9v4.6h-7.9zM973.8 257.4h7.9v4.6h-7.9zM973.8 231.1h7.9v4.6h-7.9zM981.5 296.9h7.9v4.6h-7.9zM981.5 253.0h7.9v4.6h-7.9zM981.5 235.5h7.9v4.6h-7.9zM981.5 222.3h7.9v4.6h-7.9zM989.2 288.2h7.9v9.0h-7.9zM989.2 275.0h7.9v4.6h-7.9zM989.2 266.2h7.9v4.6h-7.9zM996.8 235.5h7.9v4.6h-7.9zM996.8 226.7h7.9v4.6h-7.9zM1004.5 253.0h7.9v4.6h-7.9zM1004.5 213.5h7.9v4.6h-7.9zM1012.1 288.2h7.9v4.6h-7.9zM1012.1 270.6h7.9v4.6h-7.9zM1012.1 217.9h7.9v4.6h-7.9zM1019.8 305.7h7.9v4.6h-7.9zM1019.8 244.3h7.9v9.0h-7.9zM1019.8 217.9h7.9v22.2h-7.9zM1027.5 296.9h7.9v4.6h-7.9zM1035.1 314.5h7.9v4.6h-7.9zM1035.1 292.6h7.9v4.6h-7.9zM1035.1 283.8h7.9v4.6h-7.9zM1050.4 327.7h7.9v9.0h-7.9zM1050.4 310.1h7.9v4.6h-7.9zM1050.4 222.3h7.9v4.6h-7.9zM1065.8 323.3h7.9v4.6h-7.9zM1065.8 305.7h7.9v9.0h-7.9z"/><path fill="#ff5c00" d="M223.2 292.6h7.9v4.6h-7.9zM230.8 283.8h7.9v9.0h-7.9zM230.8 257.4h7.9v4.6h-7.9zM261.5 283.8h7.9v4.6h-7.9zM261.5 270.6h7.9v9.0h-7.9zM269.1 296.9h7.9v9.0h-7.9zM269.1 283.8h7.9v4.6h-7.9zM276.8 226.7h7.9v4.6h-7.9zM284.4 248.7h7.9v4.6h-7.9zM659.8 253.0h7.9v4.6h-7.9zM667.4 340.8h7.9v4.6h-7.9zM667.4 327.7h7.9v9.0h-7.9zM667.4 235.5h7.9v4.6h-7.9zM667.4 226.7h7.9v4.6h-7.9zM675.1 288.2h7.9v4.6h-7.9zM675.1 266.2h7.9v13.4h-7.9zM767.0 253.0h7.9v4.6h-7.9zM774.7 283.8h7.9v9.0h-7.9zM774.7 239.9h7.9v4.6h-7.9zM782.3 235.5h7.9v4.6h-7.9zM790.0 283.8h7.9v4.6h-7.9zM790.0 253.0h7.9v4.6h-7.9zM805.3 270.6h7.9v4.6h-7.9zM813.0 261.8h7.9v4.6h-7.9zM820.6 288.2h7.9v4.6h-7.9zM820.6 253.0h7.9v4.6h-7.9zM828.3 257.4h7.9v9.0h-7.9zM843.6 318.9h7.9v4.6h-7.9zM843.6 292.6h7.9v4.6h-7.9zM843.6 283.8h7.9v4.6h-7.9zM843.6 235.5h7.9v4.6h-7.9zM851.3 288.2h7.9v4.6h-7.9zM851.3 244.3h7.9v4.6h-7.9zM858.9 275.0h7.9v4.6h-7.9zM858.9 266.2h7.9v4.6h-7.9zM858.9 253.0h7.9v4.6h-7.9zM866.6 296.9h7.9v4.6h-7.9zM866.6 253.0h7.9v4.6h-7.9zM866.6 244.3h7.9v4.6h-7.9zM866.6 222.3h7.9v4.6h-7.9zM874.3 314.5h7.9v4.6h-7.9zM874.3 231.1h7.9v4.6h-7.9zM881.9 275.0h7.9v4.6h-7.9zM897.2 239.9h7.9v4.6h-7.9zM904.9 279.4h7.9v9.0h-7.9zM904.9 239.9h7.9v4.6h-7.9zM904.9 222.3h7.9v4.6h-7.9zM912.6 239.9h7.9v4.6h-7.9zM920.2 305.7h7.9v4.6h-7.9zM920.2 288.2h7.9v4.6h-7.9zM920.2 226.7h7.9v4.6h-7.9zM927.9 327.7h7.9v4.6h-7.9zM927.9 301.3h7.9v4.6h-7.9zM927.9 292.6h7.9v4.6h-7.9zM927.9 275.0h7.9v4.6h-7.9zM927.9 266.2h7.9v4.6h-7.9zM927.9 244.3h7.9v4.6h-7.9zM927.9 231.1h7.9v4.6h-7.9zM935.5 318.9h7.9v4.6h-7.9zM935.5 305.7h7.9v4.6h-7.9zM935.5 288.2h7.9v4.6h-7.9zM935.5 222.3h7.9v4.6h-7.9zM935.5 213.5h7.9v4.6h-7.9zM943.2 279.4h7.9v4.6h-7.9zM943.2 261.8h7.9v4.6h-7.9zM943.2 235.5h7.9v4.6h-7.9zM950.9 239.9h7.9v4.6h-7.9zM950.9 226.7h7.9v9.0h-7.9zM966.2 239.9h7.9v4.6h-7.9zM981.5 217.9h7.9v4.6h-7.9zM989.2 283.8h7.9v4.6h-7.9zM989.2 248.7h7.9v4.6h-7.9zM989.2 226.7h7.9v4.6h-7.9zM996.8 314.5h7.9v4.6h-7.9zM996.8 301.3h7.9v9.0h-7.9zM996.8 279.4h7.9v4.6h-7.9zM1004.5 275.0h7.9v4.6h-7.9zM1004.5 261.8h7.9v9.0h-7.9zM1004.5 244.3h7.9v4.6h-7.9zM1004.5 217.9h7.9v4.6h-7.9zM1012.1 257.4h7.9v4.6h-7.9zM1012.1 231.1h7.9v4.6h-7.9zM1019.8 270.6h7.9v4.6h-7.9zM1019.8 209.1h7.9v9.0h-7.9zM1027.5 209.1h7.9v4.6h-7.9zM1035.1 323.3h7.9v4.6h-7.9zM1035.1 261.8h7.9v9.0h-7.9zM1042.8 235.5h7.9v4.6h-7.9zM1058.1 332.1h7.9v4.6h-7.9zM1058.1 323.3h7.9v4.6h-7.9zM1058.1 301.3h7.9v4.6h-7.9zM1065.8 314.5h7.9v9.0h-7.9zM1065.8 253.0h7.9v4.6h-7.9z"/><path fill="#e2ff15" d="M223.2 266.2h7.9v4.6h-7.9zM238.5 235.5h7.9v4.6h-7.9zM261.5 314.5h7.9v9.0h-7.9zM276.8 283.8h7.9v4.6h-7.9zM276.8 217.9h7.9v4.6h-7.9zM284.4 323.3h7.9v4.6h-7.9zM292.1 222.3h7.9v4.6h-7.9zM299.8 266.2h7.9v4.6h-7.9zM675.1 244.3h7.9v4.6h-7.9zM682.8 283.8h7.9v4.6h-7.9zM690.4 283.8h7.9v4.6h-7.9zM690.4 275.0h7.9v4.6h-7.9zM690.4 266.2h7.9v4.6h-7.9zM698.1 292.6h7.9v4.6h-7.9zM698.1 266.2h7.9v4.6h-7.9zM698.1 253.0h7.9v4.6h-7.9zM713.4 296.9h7.9v4.6h-7.9zM713.4 261.8h7.9v4.6h-7.9zM721.1 279.4h7.9v4.6h-7.9zM721.1 257.4h7.9v4.6h-7.9zM736.4 292.6h7.9v4.6h-7.9zM736.4 261.8h7.9v4.6h-7.9zM744.0 283.8h7.9v4.6h-7.9zM744.0 253.0h7.9v4.6h-7.9zM751.7 279.4h7.9v4.6h-7.9zM751.7 266.2h7.9v4.6h-7.9zM751.7 248.7h7.9v4.6h-7.9zM767.0 261.8h7.9v4.6h-7.9zM774.7 231.1h7.9v4.6h-7.9zM790.0 288.2h7.9v4.6h-7.9zM790.0 248.7h7.9v4.6h-7.9zM790.0 213.5h7.9v9.0h-7.9zM820.6 213.5h7.9v4.6h-7.9zM828.3 222.3h7.9v4.6h-7.9zM836.0 239.9h7.9v4.6h-7.9zM836.0 217.9h7.9v4.6h-7.9zM843.6 209.1h7.9v4.6h-7.9zM851.3 296.9h7.9v4.6h-7.9zM851.3 222.3h7.9v4.6h-7.9zM866.6 209.1h7.9v4.6h-7.9zM881.9 257.4h7.9v4.6h-7.9zM881.9 204.8h7.9v4.6h-7.9zM889.6 231.1h7.9v4.6h-7.9zM912.6 253.0h7.9v4.6h-7.9zM920.2 209.1h7.9v4.6h-7.9zM950.9 253.0h7.9v4.6h-7.9zM973.8 283.8h7.9v4.6h-7.9zM973.8 204.8h7.9v9.0h-7.9zM989.2 239.9h7.9v4.6h-7.9zM989.2 217.9h7.9v4.6h-7.9zM1004.5 200.4h7.9v4.6h-7.9zM1027.5 279.4h7.9v4.6h-7.9zM1027.5 200.4h7.9v9.0h-7.9z"/><path fill="#15ffe2" d="M223.2 213.5h7.9v4.6h-7.9zM238.5 213.5h7.9v13.4h-7.9zM246.1 209.1h7.9v4.6h-7.9zM253.8 213.5h7.9v4.6h-7.9zM261.5 209.1h7.9v4.6h-7.9zM269.1 209.1h7.9v4.6h-7.9zM276.8 209.1h7.9v4.6h-7.9zM299.8 213.5h7.9v4.6h-7.9zM330.4 204.8h7.9v4.6h-7.9zM391.7 222.3h7.9v4.6h-7.9zM675.1 226.7h7.9v4.6h-7.9zM713.4 196.0h7.9v4.6h-7.9zM721.1 217.9h7.9v4.6h-7.9zM721.1 182.8h7.9v4.6h-7.9zM736.4 204.8h7.9v4.6h-7.9zM751.7 191.6h7.9v4.6h-7.9zM782.3 174.0h7.9v4.6h-7.9zM790.0 209.1h7.9v4.6h-7.9zM790.0 187.2h7.9v4.6h-7.9zM813.0 204.8h7.9v4.6h-7.9zM836.0 209.1h7.9v4.6h-7.9zM874.3 169.6h7.9v4.6h-7.9zM927.9 165.2h7.9v4.6h-7.9zM996.8 191.6h7.9v4.6h-7.9zM1004.5 165.2h7.9v4.6h-7.9zM1050.4 182.8h7.9v4.6h-7.9z"/><path fill="#37ffc0" d="M223.2 196.0h7.9v4.6h-7.9zM246.1 196.0h7.9v4.6h-7.9zM253.8 196.0h7.9v4.6h-7.9zM276.8 182.8h7.9v4.6h-7.9zM284.4 182.8h7.9v4.6h-7.9zM292.1 187.2h7.9v4.6h-7.9zM330.4 187.2h7.9v4.6h-7.9zM353.4 200.4h7.9v4.6h-7.9zM644.5 196.0h7.9v4.6h-7.9zM659.8 209.1h7.9v4.6h-7.9zM659.8 200.4h7.9v4.6h-7.9zM682.8 213.5h7.9v4.6h-7.9zM698.1 222.3h7.9v4.6h-7.9zM705.7 231.1h7.9v4.6h-7.9zM728.7 217.9h7.9v4.6h-7.9zM744.0 222.3h7.9v4.6h-7.9zM751.7 226.7h7.9v4.6h-7.9zM759.4 217.9h7.9v4.6h-7.9zM767.0 209.1h7.9v4.6h-7.9zM774.7 209.1h7.9v4.6h-7.9zM797.7 209.1h7.9v4.6h-7.9zM797.7 196.0h7.9v4.6h-7.9zM813.0 200.4h7.9v4.6h-7.9zM843.6 204.8h7.9v4.6h-7.9zM851.3 196.0h7.9v4.6h-7.9zM874.3 191.6h7.9v4.6h-7.9zM881.9 200.4h7.9v4.6h-7.9zM881.9 187.2h7.9v4.6h-7.9zM889.6 187.2h7.9v4.6h-7.9zM920.2 196.0h7.9v4.6h-7.9zM935.5 196.0h7.9v4.6h-7.9zM935.5 187.2h7.9v4.6h-7.9zM966.2 196.0h7.9v4.6h-7.9zM989.2 182.8h7.9v4.6h-7.9zM996.8 182.8h7.9v4.6h-7.9zM1004.5 191.6h7.9v4.6h-7.9zM1019.8 196.0h7.9v4.6h-7.9zM1035.1 191.6h7.9v4.6h-7.9zM1042.8 191.6h7.9v4.6h-7.9zM1050.4 196.0h7.9v4.6h-7.9zM1065.8 191.6h7.9v4.6h-7.9z"/><path fill="#26ffd1" d="M223.2 187.2h7.9v4.6h-7.9zM238.5 231.1h7.9v4.6h-7.9zM253.8 226.7h7.9v4.6h-7.9zM261.5 191.6h7.9v4.6h-7.9zM307.4 222.3h7.9v4.6h-7.9zM322.7 196.0h7.9v4.6h-7.9zM384.0 200.4h7.9v4.6h-7.9zM644.5 226.7h7.9v4.6h-7.9zM652.1 226.7h7.9v4.6h-7.9zM659.8 196.0h7.9v4.6h-7.9zM675.1 239.9h7.9v4.6h-7.9zM675.1 217.9h7.9v4.6h-7.9zM690.4 226.7h7.9v4.6h-7.9zM698.1 213.5h7.9v4.6h-7.9zM713.4 226.7h7.9v4.6h-7.9zM713.4 213.5h7.9v4.6h-7.9zM721.1 222.3h7.9v4.6h-7.9zM736.4 213.5h7.9v4.6h-7.9zM744.0 226.7h7.9v13.4h-7.9zM782.3 204.8h7.9v9.0h-7.9zM797.7 200.4h7.9v4.6h-7.9zM805.3 204.8h7.9v9.0h-7.9zM828.3 204.8h7.9v9.0h-7.9zM851.3 200.4h7.9v4.6h-7.9zM866.6 191.6h7.9v4.6h-7.9zM881.9 191.6h7.9v4.6h-7.9zM889.6 191.6h7.9v9.0h-7.9zM920.2 187.2h7.9v4.6h-7.9zM950.9 196.0h7.9v4.6h-7.9zM973.8 196.0h7.9v4.6h-7.9zM989.2 187.2h7.9v4.6h-7.9zM996.8 187.2h7.9v4.6h-7.9zM1004.5 182.8h7.9v4.6h-7.9zM1027.5 191.6h7.9v4.6h-7.9zM1027.5 182.8h7.9v4.6h-7.9zM1042.8 196.0h7.9v4.6h-7.9z"/><path fill="#00aaff" d="M223.2 182.8h7.9v4.6h-7.9zM223.2 156.5h7.9v4.6h-7.9zM230.8 182.8h7.9v9.0h-7.9zM238.5 182.8h7.9v4.6h-7.9zM246.1 182.8h7.9v4.6h-7.9zM253.8 182.8h7.9v4.6h-7.9zM261.5 182.8h7.9v4.6h-7.9zM276.8 178.4h7.9v4.6h-7.9zM307.4 187.2h7.9v4.6h-7.9zM652.1 138.9h7.9v4.6h-7.9zM667.4 174.0h7.9v4.6h-7.9zM713.4 191.6h7.9v4.6h-7.9zM736.4 200.4h7.9v4.6h-7.9zM736.4 187.2h7.9v4.6h-7.9zM744.0 191.6h7.9v4.6h-7.9zM751.7 196.0h7.9v4.6h-7.9zM767.0 178.4h7.9v4.6h-7.9zM774.7 196.0h7.9v4.6h-7.9zM790.0 191.6h7.9v4.6h-7.9zM813.0 174.0h7.9v4.6h-7.9zM881.9 169.6h7.9v4.6h-7.9zM889.6 169.6h7.9v4.6h-7.9zM897.2 169.6h7.9v9.0h-7.9zM904.9 165.2h7.9v4.6h-7.9zM927.9 182.8h7.9v4.6h-7.9zM943.2 174.0h7.9v4.6h-7.9zM958.5 169.6h7.9v4.6h-7.9zM981.5 182.8h7.9v4.6h-7.9zM989.2 169.6h7.9v4.6h-7.9zM996.8 174.0h7.9v4.6h-7.9zM1035.1 169.6h7.9v4.6h-7.9zM1050.4 178.4h7.9v4.6h-7.9z"/><path fill="#006aff" d="M223.2 169.6h7.9v9.0h-7.9zM238.5 174.0h7.9v4.6h-7.9zM261.5 174.0h7.9v9.0h-7.9zM276.8 169.6h7.9v4.6h-7.9zM284.4 165.2h7.9v4.6h-7.9zM299.8 169.6h7.9v9.0h-7.9zM307.4 174.0h7.9v4.6h-7.9zM315.1 174.0h7.9v4.6h-7.9zM384.0 165.2h7.9v4.6h-7.9zM667.4 156.5h7.9v4.6h-7.9zM667.4 147.7h7.9v4.6h-7.9zM721.1 156.5h7.9v4.6h-7.9zM797.7 165.2h7.9v4.6h-7.9zM797.7 156.5h7.9v4.6h-7.9zM805.3 169.6h7.9v4.6h-7.9zM943.2 156.5h7.9v4.6h-7.9zM989.2 156.5h7.9v4.6h-7.9zM996.8 156.5h7.9v4.6h-7.9z"/><path fill="#0015ff" d="M223.2 143.3h7.9v4.6h-7.9zM230.8 143.3h7.9v9.0h-7.9zM238.5 138.9h7.9v4.6h-7.9zM238.5 117.0h7.9v4.6h-7.9zM246.1 147.7h7.9v4.6h-7.9zM246.1 134.5h7.9v4.6h-7.9zM246.1 125.7h7.9v4.6h-7.9zM261.5 138.9h7.9v4.6h-7.9zM261.5 130.1h7.9v4.6h-7.9zM276.8 134.5h7.9v4.6h-7.9zM284.4 130.1h7.9v4.6h-7.9zM292.1 147.7h7.9v9.0h-7.9zM292.1 130.1h7.9v4.6h-7.9zM338.1 147.7h7.9v4.6h-7.9zM345.7 147.7h7.9v4.6h-7.9zM652.1 112.6h7.9v4.6h-7.9zM659.8 152.1h7.9v4.6h-7.9zM836.0 108.2h7.9v4.6h-7.9zM935.5 147.7h7.9v4.6h-7.9zM1004.5 143.3h7.9v4.6h-7.9zM1065.8 103.8h7.9v4.6h-7.9z"/><path fill="#ffab00" d="M230.8 332.1h7.9v4.6h-7.9zM230.8 248.7h7.9v4.6h-7.9zM246.1 239.9h7.9v4.6h-7.9zM253.8 275.0h7.9v4.6h-7.9zM269.1 226.7h7.9v4.6h-7.9zM276.8 257.4h7.9v9.0h-7.9zM276.8 222.3h7.9v4.6h-7.9zM292.1 283.8h7.9v4.6h-7.9zM675.1 314.5h7.9v4.6h-7.9zM675.1 292.6h7.9v13.4h-7.9zM705.7 332.1h7.9v4.6h-7.9zM705.7 279.4h7.9v4.6h-7.9zM721.1 340.8h7.9v4.6h-7.9zM728.7 336.5h7.9v4.6h-7.9zM728.7 318.9h7.9v4.6h-7.9zM751.7 336.5h7.9v4.6h-7.9zM751.7 292.6h7.9v9.0h-7.9zM759.4 323.3h7.9v4.6h-7.9zM759.4 266.2h7.9v4.6h-7.9zM767.0 323.3h7.9v4.6h-7.9zM767.0 244.3h7.9v4.6h-7.9zM782.3 323.3h7.9v4.6h-7.9zM782.3 292.6h7.9v4.6h-7.9zM782.3 253.0h7.9v4.6h-7.9zM782.3 239.9h7.9v4.6h-7.9zM790.0 305.7h7.9v4.6h-7.9zM790.0 296.9h7.9v4.6h-7.9zM790.0 275.0h7.9v4.6h-7.9zM797.7 310.1h7.9v9.0h-7.9zM797.7 288.2h7.9v4.6h-7.9zM797.7 279.4h7.9v4.6h-7.9zM797.7 248.7h7.9v4.6h-7.9zM797.7 231.1h7.9v4.6h-7.9zM805.3 266.2h7.9v4.6h-7.9zM805.3 257.4h7.9v4.6h-7.9zM805.3 231.1h7.9v4.6h-7.9zM813.0 310.1h7.9v4.6h-7.9zM813.0 301.3h7.9v4.6h-7.9zM813.0 275.0h7.9v9.0h-7.9zM813.0 266.2h7.9v4.6h-7.9zM813.0 239.9h7.9v9.0h-7.9zM820.6 275.0h7.9v9.0h-7.9zM820.6 257.4h7.9v4.6h-7.9zM820.6 244.3h7.9v4.6h-7.9zM843.6 301.3h7.9v4.6h-7.9zM851.3 323.3h7.9v4.6h-7.9zM851.3 261.8h7.9v4.6h-7.9zM858.9 327.7h7.9v4.6h-7.9zM874.3 340.8h7.9v4.6h-7.9zM874.3 318.9h7.9v9.0h-7.9zM874.3 283.8h7.9v4.6h-7.9zM881.9 336.5h7.9v4.6h-7.9zM881.9 327.7h7.9v4.6h-7.9zM881.9 310.1h7.9v4.6h-7.9zM881.9 266.2h7.9v4.6h-7.9zM889.6 345.2h7.9v4.6h-7.9zM889.6 248.7h7.9v9.0h-7.9zM889.6 239.9h7.9v4.6h-7.9zM897.2 248.7h7.9v4.6h-7.9zM897.2 213.5h7.9v4.6h-7.9zM904.9 349.6h7.9v4.6h-7.9zM904.9 327.7h7.9v4.6h-7.9zM927.9 332.1h7.9v4.6h-7.9zM927.9 318.9h7.9v4.6h-7.9zM935.5 323.3h7.9v9.0h-7.9zM935.5 257.4h7.9v4.6h-7.9zM943.2 340.8h7.9v4.6h-7.9zM943.2 239.9h7.9v4.6h-7.9zM950.9 310.1h7.9v9.0h-7.9zM950.9 288.2h7.9v9.0h-7.9zM950.9 248.7h7.9v4.6h-7.9zM950.9 217.9h7.9v4.6h-7.9zM958.5 318.9h7.9v4.6h-7.9zM958.5 261.8h7.9v4.6h-7.9zM958.5 253.0h7.9v4.6h-7.9zM966.2 283.8h7.9v4.6h-7.9zM966.2 226.7h7.9v9.0h-7.9zM973.8 314.5h7.9v4.6h-7.9zM973.8 244.3h7.9v9.0h-7.9zM973.8 226.7h7.9v4.6h-7.9zM981.5 327.7h7.9v4.6h-7.9zM981.5 275.0h7.9v4.6h-7.9zM981.5 261.8h7.9v9.0h-7.9zM981.5 244.3h7.9v9.0h-7.9zM981.5 213.5h7.9v4.6h-7.9zM989.2 314.5h7.9v4.6h-7.9zM996.8 345.2h7.9v4.6h-7.9zM1004.5 296.9h7.9v4.6h-7.9zM1004.5 283.8h7.9v4.6h-7.9zM1012.1 279.4h7.9v4.6h-7.9zM1012.1 261.8h7.9v4.6h-7.9zM1012.1 244.3h7.9v4.6h-7.9zM1012.1 235.5h7.9v4.6h-7.9zM1019.8 327.7h7.9v4.6h-7.9zM1019.8 257.4h7.9v4.6h-7.9zM1027.5 327.7h7.9v4.6h-7.9zM1027.5 318.9h7.9v4.6h-7.9zM1027.5 248.7h7.9v4.6h-7.9zM1035.1 332.1h7.9v4.6h-7.9zM1035.1 310.1h7.9v4.6h-7.9zM1035.1 248.7h7.9v4.6h-7.9zM1042.8 231.1h7.9v4.6h-7.9zM1050.4 314.5h7.9v4.6h-7.9zM1058.1 318.9h7.9v4.6h-7.9zM1065.8 332.1h7.9v4.6h-7.9z"/><path fill="#ff2100" d="M230.8 279.4h7.9v4.6h-7.9zM230.8 270.6h7.9v4.6h-7.9zM230.8 261.8h7.9v4.6h-7.9zM261.5 288.2h7.9v4.6h-7.9zM261.5 266.2h7.9v4.6h-7.9zM269.1 292.6h7.9v4.6h-7.9zM269.1 279.4h7.9v4.6h-7.9zM269.1 244.3h7.9v4.6h-7.9zM276.8 235.5h7.9v13.4h-7.9zM284.4 244.3h7.9v4.6h-7.9zM659.8 266.2h7.9v22.2h-7.9zM667.4 318.9h7.9v4.6h-7.9zM667.4 310.1h7.9v4.6h-7.9zM667.4 239.9h7.9v4.6h-7.9zM774.7 292.6h7.9v4.6h-7.9zM828.3 296.9h7.9v4.6h-7.9zM828.3 253.0h7.9v4.6h-7.9zM836.0 279.4h7.9v9.0h-7.9zM843.6 296.9h7.9v4.6h-7.9zM843.6 279.4h7.9v4.6h-7.9zM843.6 266.2h7.9v4.6h-7.9zM843.6 257.4h7.9v4.6h-7.9zM843.6 244.3h7.9v4.6h-7.9zM843.6 226.7h7.9v4.6h-7.9zM858.9 270.6h7.9v4.6h-7.9zM866.6 283.8h7.9v4.6h-7.9zM866.6 275.0h7.9v4.6h-7.9zM866.6 248.7h7.9v4.6h-7.9zM889.6 261.8h7.9v4.6h-7.9zM904.9 296.9h7.9v4.6h-7.9zM904.9 266.2h7.9v4.6h-7.9zM912.6 301.3h7.9v4.6h-7.9zM920.2 279.4h7.9v4.6h-7.9zM927.9 296.9h7.9v4.6h-7.9zM927.9 213.5h7.9v4.6h-7.9zM935.5 292.6h7.9v9.0h-7.9zM935.5 239.9h7.9v4.6h-7.9zM935.5 231.1h7.9v4.6h-7.9zM943.2 283.8h7.9v9.0h-7.9zM950.9 244.3h7.9v4.6h-7.9zM996.8 261.8h7.9v4.6h-7.9zM1004.5 209.1h7.9v4.6h-7.9zM1042.8 332.1h7.9v4.6h-7.9zM1042.8 318.9h7.9v4.6h-7.9zM1042.8 239.9h7.9v4.6h-7.9zM1050.4 296.9h7.9v4.6h-7.9zM1050.4 279.4h7.9v4.6h-7.9zM1050.4 244.3h7.9v4.6h-7.9zM1058.1 244.3h7.9v4.6h-7.9zM1065.8 248.7h7.9v4.6h-7.9zM1065.8 217.9h7.9v4.6h-7.9z"/><path fill="#f80d00" d="M230.8 275.0h7.9v4.6h-7.9zM230.8 266.2h7.9v4.6h-7.9zM269.1 253.0h7.9v4.6h-7.9zM667.4 314.5h7.9v4.6h-7.9zM667.4 301.3h7.9v9.0h-7.9zM667.4 244.3h7.9v4.6h-7.9zM774.7 279.4h7.9v4.6h-7.9zM774.7 253.0h7.9v4.6h-7.9zM774.7 244.3h7.9v4.6h-7.9zM828.3 270.6h7.9v4.6h-7.9zM836.0 270.6h7.9v4.6h-7.9zM836.0 226.7h7.9v4.6h-7.9zM843.6 261.8h7.9v4.6h-7.9zM866.6 261.8h7.9v4.6h-7.9zM874.3 257.4h7.9v4.6h-7.9zM912.6 279.4h7.9v4.6h-7.9zM912.6 235.5h7.9v4.6h-7.9zM935.5 283.8h7.9v4.6h-7.9zM943.2 296.9h7.9v4.6h-7.9zM943.2 275.0h7.9v4.6h-7.9zM943.2 248.7h7.9v4.6h-7.9zM943.2 231.1h7.9v4.6h-7.9zM943.2 222.3h7.9v4.6h-7.9zM950.9 275.0h7.9v4.6h-7.9zM989.2 253.0h7.9v4.6h-7.9zM996.8 217.9h7.9v4.6h-7.9zM1042.8 253.0h7.9v4.6h-7.9zM1050.4 261.8h7.9v17.8h-7.9zM1058.1 292.6h7.9v4.6h-7.9zM1058.1 283.8h7.9v4.6h-7.9zM1065.8 288.2h7.9v4.6h-7.9zM1065.8 213.5h7.9v4.6h-7.9z"/><path fill="#59ff9e" d="M230.8 217.9h7.9v4.6h-7.9zM261.5 217.9h7.9v4.6h-7.9zM292.1 191.6h7.9v4.6h-7.9zM644.5 275.0h7.9v4.6h-7.9zM644.5 244.3h7.9v4.6h-7.9zM652.1 187.2h7.9v4.6h-7.9zM667.4 204.8h7.9v4.6h-7.9zM682.8 217.9h7.9v4.6h-7.9zM698.1 235.5h7.9v4.6h-7.9zM713.4 222.3h7.9v4.6h-7.9zM721.1 231.1h7.9v4.6h-7.9zM728.7 239.9h7.9v4.6h-7.9zM759.4 231.1h7.9v9.0h-7.9zM759.4 213.5h7.9v4.6h-7.9zM774.7 213.5h7.9v4.6h-7.9zM790.0 200.4h7.9v4.6h-7.9zM820.6 200.4h7.9v4.6h-7.9zM836.0 196.0h7.9v4.6h-7.9zM843.6 196.0h7.9v4.6h-7.9zM851.3 204.8h7.9v4.6h-7.9zM858.9 204.8h7.9v4.6h-7.9zM897.2 196.0h7.9v4.6h-7.9zM904.9 196.0h7.9v4.6h-7.9zM943.2 196.0h7.9v4.6h-7.9zM981.5 187.2h7.9v4.6h-7.9zM1012.1 182.8h7.9v4.6h-7.9zM1019.8 182.8h7.9v4.6h-7.9zM1042.8 182.8h7.9v4.6h-7.9zM1065.8 182.8h7.9v4.6h-7.9z"/><path fill="#ff8300" d="M238.5 261.8h7.9v9.0h-7.9zM246.1 253.0h7.9v9.0h-7.9zM261.5 301.3h7.9v4.6h-7.9zM261.5 253.0h7.9v9.0h-7.9zM284.4 261.8h7.9v4.6h-7.9zM284.4 253.0h7.9v4.6h-7.9zM659.8 310.1h7.9v4.6h-7.9zM659.8 292.6h7.9v13.4h-7.9zM659.8 239.9h7.9v4.6h-7.9zM659.8 231.1h7.9v4.6h-7.9zM675.1 305.7h7.9v4.6h-7.9zM721.1 318.9h7.9v4.6h-7.9zM728.7 305.7h7.9v4.6h-7.9zM736.4 323.3h7.9v4.6h-7.9zM751.7 318.9h7.9v4.6h-7.9zM751.7 305.7h7.9v4.6h-7.9zM767.0 248.7h7.9v4.6h-7.9zM774.7 270.6h7.9v4.6h-7.9zM782.3 327.7h7.9v4.6h-7.9zM782.3 296.9h7.9v4.6h-7.9zM782.3 279.4h7.9v9.0h-7.9zM782.3 248.7h7.9v4.6h-7.9zM790.0 327.7h7.9v4.6h-7.9zM790.0 257.4h7.9v4.6h-7.9zM790.0 231.1h7.9v4.6h-7.9zM797.7 301.3h7.9v4.6h-7.9zM797.7 275.0h7.9v4.6h-7.9zM805.3 275.0h7.9v4.6h-7.9zM805.3 239.9h7.9v4.6h-7.9zM820.6 327.7h7.9v4.6h-7.9zM820.6 318.9h7.9v4.6h-7.9zM820.6 296.9h7.9v4.6h-7.9zM820.6 283.8h7.9v4.6h-7.9zM836.0 318.9h7.9v4.6h-7.9zM836.0 275.0h7.9v4.6h-7.9zM836.0 257.4h7.9v4.6h-7.9zM836.0 248.7h7.9v4.6h-7.9zM851.3 327.7h7.9v4.6h-7.9zM851.3 279.4h7.9v9.0h-7.9zM851.3 235.5h7.9v4.6h-7.9zM858.9 292.6h7.9v4.6h-7.9zM858.9 279.4h7.9v4.6h-7.9zM858.9 231.1h7.9v9.0h-7.9zM866.6 314.5h7.9v4.6h-7.9zM866.6 292.6h7.9v4.6h-7.9zM866.6 257.4h7.9v4.6h-7.9zM866.6 239.9h7.9v4.6h-7.9zM874.3 301.3h7.9v4.6h-7.9zM874.3 288.2h7.9v4.6h-7.9zM881.9 305.7h7.9v4.6h-7.9zM881.9 283.8h7.9v4.6h-7.9zM881.9 270.6h7.9v4.6h-7.9zM881.9 222.3h7.9v4.6h-7.9zM897.2 327.7h7.9v4.6h-7.9zM904.9 235.5h7.9v4.6h-7.9zM912.6 327.7h7.9v4.6h-7.9zM920.2 301.3h7.9v4.6h-7.9zM920.2 292.6h7.9v4.6h-7.9zM920.2 231.1h7.9v4.6h-7.9zM920.2 217.9h7.9v4.6h-7.9zM927.9 323.3h7.9v4.6h-7.9zM927.9 314.5h7.9v4.6h-7.9zM927.9 270.6h7.9v4.6h-7.9zM927.9 257.4h7.9v4.6h-7.9zM927.9 226.7h7.9v4.6h-7.9zM935.5 301.3h7.9v4.6h-7.9zM935.5 266.2h7.9v9.0h-7.9zM943.2 314.5h7.9v4.6h-7.9zM950.9 266.2h7.9v4.6h-7.9zM958.5 310.1h7.9v4.6h-7.9zM958.5 292.6h7.9v4.6h-7.9zM958.5 248.7h7.9v4.6h-7.9zM958.5 213.5h7.9v9.0h-7.9zM966.2 314.5h7.9v4.6h-7.9zM966.2 305.7h7.9v4.6h-7.9zM966.2 270.6h7.9v4.6h-7.9zM966.2 244.3h7.9v4.6h-7.9zM973.8 296.9h7.9v4.6h-7.9zM973.8 261.8h7.9v4.6h-7.9zM973.8 222.3h7.9v4.6h-7.9zM981.5 292.6h7.9v4.6h-7.9zM989.2 310.1h7.9v4.6h-7.9zM989.2 296.9h7.9v4.6h-7.9zM989.2 270.6h7.9v4.6h-7.9zM989.2 235.5h7.9v4.6h-7.9zM989.2 222.3h7.9v4.6h-7.9zM989.2 213.5h7.9v4.6h-7.9zM1004.5 327.7h7.9v4.6h-7.9zM1004.5 314.5h7.9v4.6h-7.9zM1004.5 288.2h7.9v9.0h-7.9zM1004.5 231.1h7.9v4.6h-7.9zM1012.1 310.1h7.9v4.6h-7.9zM1012.1 283.8h7.9v4.6h-7.9zM1019.8 275.0h7.9v9.0h-7.9zM1019.8 261.8h7.9v4.6h-7.9zM1027.5 310.1h7.9v9.0h-7.9zM1027.5 292.6h7.9v4.6h-7.9zM1027.5 270.6h7.9v4.6h-7.9zM1027.5 253.0h7.9v4.6h-7.9zM1027.5 239.9h7.9v4.6h-7.9zM1027.5 231.1h7.9v4.6h-7.9zM1027.5 222.3h7.9v4.6h-7.9zM1027.5 213.5h7.9v4.6h-7.9zM1035.1 305.7h7.9v4.6h-7.9zM1035.1 270.6h7.9v4.6h-7.9zM1035.1 244.3h7.9v4.6h-7.9zM1035.1 222.3h7.9v9.0h-7.9zM1042.8 323.3h7.9v4.6h-7.9zM1042.8 310.1h7.9v4.6h-7.9zM1042.8 301.3h7.9v4.6h-7.9zM1042.8 217.9h7.9v9.0h-7.9zM1042.8 209.1h7.9v4.6h-7.9zM1050.4 305.7h7.9v4.6h-7.9zM1050.4 217.9h7.9v4.6h-7.9zM1058.1 305.7h7.9v4.6h-7.9zM1065.8 301.3h7.9v4.6h-7.9z"/><path fill="#0095ff" d="M238.5 187.2h7.9v4.6h-7.9zM238.5 178.4h7.9v4.6h-7.9zM246.1 174.0h7.9v9.0h-7.9zM253.8 178.4h7.9v4.6h-7.9zM269.1 178.4h7.9v4.6h-7.9zM299.8 182.8h7.9v9.0h-7.9zM307.4 182.8h7.9v4.6h-7.9zM330.4 174.0h7.9v4.6h-7.9zM675.1 204.8h7.9v4.6h-7.9zM682.8 191.6h7.9v4.6h-7.9zM690.4 187.2h7.9v4.6h-7.9zM721.1 200.4h7.9v4.6h-7.9zM744.0 178.4h7.9v4.6h-7.9zM797.7 178.4h7.9v4.6h-7.9zM828.3 182.8h7.9v4.6h-7.9zM836.0 178.4h7.9v4.6h-7.9zM843.6 187.2h7.9v4.6h-7.9zM858.9 182.8h7.9v4.6h-7.9zM889.6 174.0h7.9v4.6h-7.9zM950.9 182.8h7.9v4.6h-7.9zM958.5 182.8h7.9v4.6h-7.9zM981.5 165.2h7.9v4.6h-7.9zM1004.5 169.6h7.9v4.6h-7.9zM1012.1 174.0h7.9v4.6h-7.9zM1019.8 178.4h7.9v4.6h-7.9zM1027.5 169.6h7.9v4.6h-7.9zM1058.1 178.4h7.9v4.6h-7.9zM1065.8 165.2h7.9v4.6h-7.9z"/><path fill="#8dff6a" d="M246.1 275.0h7.9v9.0h-7.9zM253.8 279.4h7.9v4.6h-7.9zM261.5 231.1h7.9v4.6h-7.9zM644.5 235.5h7.9v4.6h-7.9zM644.5 222.3h7.9v4.6h-7.9zM644.5 187.2h7.9v4.6h-7.9zM644.5 178.4h7.9v4.6h-7.9zM652.1 248.7h7.9v9.0h-7.9zM652.1 239.9h7.9v4.6h-7.9zM652.1 196.0h7.9v4.6h-7.9zM652.1 178.4h7.9v4.6h-7.9zM652.1 156.5h7.9v4.6h-7.9zM675.1 213.5h7.9v4.6h-7.9zM682.8 239.9h7.9v4.6h-7.9zM690.4 288.2h7.9v4.6h-7.9zM698.1 257.4h7.9v4.6h-7.9zM705.7 253.0h7.9v4.6h-7.9zM705.7 244.3h7.9v4.6h-7.9zM713.4 270.6h7.9v4.6h-7.9zM713.4 239.9h7.9v4.6h-7.9zM721.1 261.8h7.9v4.6h-7.9zM721.1 226.7h7.9v4.6h-7.9zM728.7 253.0h7.9v4.6h-7.9zM736.4 235.5h7.9v4.6h-7.9zM736.4 222.3h7.9v4.6h-7.9zM744.0 213.5h7.9v4.6h-7.9zM759.4 248.7h7.9v4.6h-7.9zM767.0 296.9h7.9v4.6h-7.9zM790.0 226.7h7.9v4.6h-7.9zM805.3 283.8h7.9v4.6h-7.9zM836.0 253.0h7.9v4.6h-7.9zM836.0 200.4h7.9v4.6h-7.9zM836.0 191.6h7.9v4.6h-7.9zM843.6 222.3h7.9v4.6h-7.9zM858.9 217.9h7.9v4.6h-7.9zM866.6 200.4h7.9v4.6h-7.9zM874.3 266.2h7.9v4.6h-7.9zM912.6 200.4h7.9v4.6h-7.9zM981.5 204.8h7.9v4.6h-7.9zM1012.1 222.3h7.9v4.6h-7.9zM1019.8 191.6h7.9v4.6h-7.9z"/><path fill="#ffe600" d="M246.1 231.1h7.9v4.6h-7.9zM269.1 332.1h7.9v4.6h-7.9zM276.8 327.7h7.9v4.6h-7.9zM292.1 239.9h7.9v4.6h-7.9zM361.0 358.4h7.9v4.6h-7.9zM659.8 222.3h7.9v4.6h-7.9zM667.4 213.5h7.9v13.4h-7.9zM675.1 323.3h7.9v4.6h-7.9zM682.8 305.7h7.9v4.6h-7.9zM682.8 288.2h7.9v4.6h-7.9zM698.1 332.1h7.9v9.0h-7.9zM698.1 283.8h7.9v4.6h-7.9zM705.7 323.3h7.9v9.0h-7.9zM705.7 301.3h7.9v4.6h-7.9zM705.7 275.0h7.9v4.6h-7.9zM713.4 318.9h7.9v4.6h-7.9zM721.1 336.5h7.9v4.6h-7.9zM721.1 323.3h7.9v4.6h-7.9zM728.7 288.2h7.9v4.6h-7.9zM736.4 314.5h7.9v4.6h-7.9zM759.4 314.5h7.9v4.6h-7.9zM767.0 349.6h7.9v4.6h-7.9zM782.3 336.5h7.9v4.6h-7.9zM782.3 314.5h7.9v4.6h-7.9zM797.7 332.1h7.9v4.6h-7.9zM813.0 336.5h7.9v4.6h-7.9zM813.0 235.5h7.9v4.6h-7.9zM820.6 314.5h7.9v4.6h-7.9zM820.6 301.3h7.9v4.6h-7.9zM828.3 345.2h7.9v4.6h-7.9zM881.9 332.1h7.9v4.6h-7.9zM881.9 314.5h7.9v4.6h-7.9zM881.9 301.3h7.9v4.6h-7.9zM889.6 296.9h7.9v4.6h-7.9zM889.6 270.6h7.9v4.6h-7.9zM889.6 244.3h7.9v4.6h-7.9zM897.2 244.3h7.9v4.6h-7.9zM897.2 204.8h7.9v4.6h-7.9zM935.5 204.8h7.9v4.6h-7.9zM950.9 332.1h7.9v4.6h-7.9zM966.2 323.3h7.9v4.6h-7.9zM966.2 288.2h7.9v4.6h-7.9zM966.2 279.4h7.9v4.6h-7.9zM966.2 257.4h7.9v4.6h-7.9zM973.8 349.6h7.9v4.6h-7.9zM981.5 257.4h7.9v4.6h-7.9zM1012.1 248.7h7.9v4.6h-7.9zM1019.8 336.5h7.9v9.0h-7.9zM1027.5 332.1h7.9v4.6h-7.9zM1027.5 323.3h7.9v4.6h-7.9zM1035.1 301.3h7.9v4.6h-7.9z"/><path fill="#6aff8d" d="M246.1 222.3h7.9v4.6h-7.9zM253.8 200.4h7.9v9.0h-7.9zM292.1 209.1h7.9v9.0h-7.9zM299.8 222.3h7.9v9.0h-7.9zM644.5 257.4h7.9v4.6h-7.9zM644.5 231.1h7.9v4.6h-7.9zM644.5 200.4h7.9v4.6h-7.9zM644.5 182.8h7.9v4.6h-7.9zM652.1 213.5h7.9v4.6h-7.9zM690.4 222.3h7.9v4.6h-7.9zM698.1 239.9h7.9v4.6h-7.9zM705.7 217.9h7.9v13.4h-7.9zM736.4 239.9h7.9v4.6h-7.9zM744.0 239.9h7.9v4.6h-7.9zM751.7 217.9h7.9v4.6h-7.9zM759.4 222.3h7.9v4.6h-7.9zM820.6 209.1h7.9v4.6h-7.9zM820.6 196.0h7.9v4.6h-7.9zM836.0 204.8h7.9v4.6h-7.9zM866.6 196.0h7.9v4.6h-7.9zM874.3 196.0h7.9v4.6h-7.9zM881.9 196.0h7.9v4.6h-7.9zM904.9 191.6h7.9v4.6h-7.9zM912.6 196.0h7.9v4.6h-7.9zM920.2 191.6h7.9v4.6h-7.9zM927.9 187.2h7.9v4.6h-7.9zM943.2 187.2h7.9v4.6h-7.9zM973.8 187.2h7.9v4.6h-7.9zM1004.5 196.0h7.9v4.6h-7.9zM1035.1 182.8h7.9v4.6h-7.9zM1042.8 187.2h7.9v4.6h-7.9zM1058.1 187.2h7.9v4.6h-7.9z"/><path fill="#9eff59" d="M246.1 217.9h7.9v4.6h-7.9zM253.8 231.1h7.9v4.6h-7.9zM253.8 222.3h7.9v4.6h-7.9zM276.8 213.5h7.9v4.6h-7.9zM299.8 257.4h7.9v4.6h-7.9zM299.8 248.7h7.9v4.6h-7.9zM644.5 160.9h7.9v4.6h-7.9zM652.1 217.9h7.9v4.6h-7.9zM652.1 182.8h7.9v4.6h-7.9zM652.1 165.2h7.9v13.4h-7.9zM675.1 248.7h7.9v4.6h-7.9zM682.8 261.8h7.9v4.6h-7.9zM713.4 266.2h7.9v4.6h-7.9zM721.1 275.0h7.9v4.6h-7.9zM721.1 248.7h7.9v4.6h-7.9zM728.7 248.7h7.9v4.6h-7.9zM736.4 253.0h7.9v4.6h-7.9zM736.4 244.3h7.9v4.6h-7.9zM744.0 296.9h7.9v4.6h-7.9zM744.0 244.3h7.9v4.6h-7.9zM751.7 253.0h7.9v4.6h-7.9zM767.0 235.5h7.9v9.0h-7.9zM774.7 217.9h7.9v4.6h-7.9zM790.0 222.3h7.9v4.6h-7.9zM797.7 266.2h7.9v4.6h-7.9zM836.0 222.3h7.9v4.6h-7.9zM858.9 209.1h7.9v4.6h-7.9zM866.6 213.5h7.9v4.6h-7.9zM874.3 217.9h7.9v4.6h-7.9zM881.9 288.2h7.9v4.6h-7.9zM889.6 257.4h7.9v4.6h-7.9zM920.2 200.4h7.9v4.6h-7.9zM950.9 209.1h7.9v4.6h-7.9zM966.2 200.4h7.9v4.6h-7.9zM996.8 209.1h7.9v4.6h-7.9zM1012.1 204.8h7.9v4.6h-7.9zM1035.1 200.4h7.9v4.6h-7.9zM1058.1 279.4h7.9v4.6h-7.9zM1058.1 196.0h7.9v4.6h-7.9z"/><path fill="#0040ff" d="M253.8 156.5h7.9v9.0h-7.9zM276.8 160.9h7.9v4.6h-7.9zM292.1 156.5h7.9v4.6h-7.9zM644.5 125.7h7.9v4.6h-7.9zM644.5 103.8h7.9v13.4h-7.9zM659.8 169.6h7.9v4.6h-7.9zM659.8 138.9h7.9v9.0h-7.9zM667.4 160.9h7.9v4.6h-7.9zM667.4 152.1h7.9v4.6h-7.9zM667.4 138.9h7.9v9.0h-7.9zM721.1 174.0h7.9v4.6h-7.9zM843.6 169.6h7.9v4.6h-7.9zM866.6 165.2h7.9v4.6h-7.9zM881.9 156.5h7.9v4.6h-7.9zM904.9 156.5h7.9v4.6h-7.9zM1012.1 160.9h7.9v4.6h-7.9z"/><path fill="#d1ff26" d="M261.5 310.1h7.9v4.6h-7.9zM269.1 310.1h7.9v4.6h-7.9zM644.5 305.7h7.9v4.6h-7.9zM644.5 292.6h7.9v4.6h-7.9zM675.1 257.4h7.9v4.6h-7.9zM682.8 292.6h7.9v4.6h-7.9zM682.8 266.2h7.9v4.6h-7.9zM682.8 253.0h7.9v9.0h-7.9zM690.4 292.6h7.9v9.0h-7.9zM690.4 248.7h7.9v4.6h-7.9zM698.1 270.6h7.9v4.6h-7.9zM705.7 296.9h7.9v4.6h-7.9zM705.7 257.4h7.9v4.6h-7.9zM713.4 275.0h7.9v4.6h-7.9zM713.4 244.3h7.9v4.6h-7.9zM721.1 288.2h7.9v4.6h-7.9zM728.7 292.6h7.9v4.6h-7.9zM728.7 266.2h7.9v4.6h-7.9zM736.4 266.2h7.9v4.6h-7.9zM744.0 261.8h7.9v4.6h-7.9zM759.4 244.3h7.9v4.6h-7.9zM774.7 222.3h7.9v4.6h-7.9zM782.3 231.1h7.9v4.6h-7.9zM797.7 213.5h7.9v4.6h-7.9zM813.0 213.5h7.9v9.0h-7.9zM836.0 213.5h7.9v4.6h-7.9zM874.3 244.3h7.9v4.6h-7.9zM889.6 204.8h7.9v4.6h-7.9zM912.6 209.1h7.9v4.6h-7.9zM920.2 204.8h7.9v4.6h-7.9zM935.5 209.1h7.9v4.6h-7.9zM943.2 200.4h7.9v4.6h-7.9zM958.5 279.4h7.9v4.6h-7.9zM981.5 200.4h7.9v4.6h-7.9zM989.2 209.1h7.9v4.6h-7.9zM996.8 200.4h7.9v4.6h-7.9zM1019.8 200.4h7.9v4.6h-7.9zM1035.1 231.1h7.9v4.6h-7.9zM1058.1 266.2h7.9v4.6h-7.9zM1058.1 200.4h7.9v4.6h-7.9z"/><path fill="#ff3500" d="M261.5 279.4h7.9v4.6h-7.9zM284.4 239.9h7.9v4.6h-7.9zM659.8 261.8h7.9v4.6h-7.9zM659.8 248.7h7.9v4.6h-7.9zM667.4 231.1h7.9v4.6h-7.9zM675.1 283.8h7.9v4.6h-7.9zM774.7 296.9h7.9v4.6h-7.9zM774.7 266.2h7.9v4.6h-7.9zM774.7 257.4h7.9v4.6h-7.9zM836.0 266.2h7.9v4.6h-7.9zM843.6 288.2h7.9v4.6h-7.9zM843.6 253.0h7.9v4.6h-7.9zM843.6 231.1h7.9v4.6h-7.9zM851.3 275.0h7.9v4.6h-7.9zM858.9 239.9h7.9v4.6h-7.9zM866.6 279.4h7.9v4.6h-7.9zM866.6 270.6h7.9v4.6h-7.9zM866.6 235.5h7.9v4.6h-7.9zM874.3 292.6h7.9v4.6h-7.9zM874.3 261.8h7.9v4.6h-7.9zM874.3 248.7h7.9v4.6h-7.9zM904.9 288.2h7.9v4.6h-7.9zM920.2 261.8h7.9v4.6h-7.9zM920.2 253.0h7.9v4.6h-7.9zM920.2 222.3h7.9v4.6h-7.9zM927.9 253.0h7.9v4.6h-7.9zM927.9 239.9h7.9v4.6h-7.9zM927.9 217.9h7.9v4.6h-7.9zM935.5 275.0h7.9v4.6h-7.9zM935.5 244.3h7.9v4.6h-7.9zM943.2 266.2h7.9v4.6h-7.9zM943.2 257.4h7.9v4.6h-7.9zM943.2 226.7h7.9v4.6h-7.9zM981.5 279.4h7.9v4.6h-7.9zM996.8 288.2h7.9v4.6h-7.9zM996.8 239.9h7.9v4.6h-7.9zM996.8 222.3h7.9v4.6h-7.9zM996.8 213.5h7.9v4.6h-7.9zM1004.5 239.9h7.9v4.6h-7.9zM1019.8 239.9h7.9v4.6h-7.9zM1035.1 257.4h7.9v4.6h-7.9zM1042.8 314.5h7.9v4.6h-7.9zM1042.8 305.7h7.9v4.6h-7.9zM1050.4 283.8h7.9v4.6h-7.9zM1058.1 327.7h7.9v4.6h-7.9zM1058.1 288.2h7.9v4.6h-7.9zM1058.1 209.1h7.9v4.6h-7.9zM1065.8 296.9h7.9v4.6h-7.9zM1065.8 257.4h7.9v4.6h-7.9zM1065.8 209.1h7.9v4.6h-7.9z"/><path fill="#c80000" d="M269.1 270.6h7.9v9.0h-7.9zM269.1 261.8h7.9v4.6h-7.9zM858.9 296.9h7.9v4.6h-7.9zM866.6 288.2h7.9v4.6h-7.9zM912.6 288.2h7.9v4.6h-7.9zM912.6 270.6h7.9v4.6h-7.9zM920.2 248.7h7.9v4.6h-7.9zM935.5 248.7h7.9v4.6h-7.9zM996.8 244.3h7.9v4.6h-7.9zM1050.4 239.9h7.9v4.6h-7.9zM1058.1 248.7h7.9v4.6h-7.9zM1058.1 235.5h7.9v4.6h-7.9zM1065.8 222.3h7.9v4.6h-7.9z"/><path fill="#800000" d="M269.1 266.2h7.9v4.6h-7.9zM667.4 261.8h7.9v13.4h-7.9zM912.6 266.2h7.9v4.6h-7.9zM1042.8 292.6h7.9v4.6h-7.9zM1042.8 279.4h7.9v9.0h-7.9zM1058.1 275.0h7.9v4.6h-7.9zM1058.1 226.7h7.9v9.0h-7.9zM1058.1 213.5h7.9v4.6h-7.9z"/><path fill="#e00000" d="M269.1 257.4h7.9v4.6h-7.9zM269.1 248.7h7.9v4.6h-7.9zM828.3 283.8h7.9v4.6h-7.9zM828.3 239.9h7.9v4.6h-7.9zM843.6 275.0h7.9v4.6h-7.9zM843.6 248.7h7.9v4.6h-7.9zM843.6 239.9h7.9v4.6h-7.9zM912.6 261.8h7.9v4.6h-7.9zM912.6 226.7h7.9v9.0h-7.9zM912.6 213.5h7.9v4.6h-7.9zM920.2 235.5h7.9v9.0h-7.9zM927.9 279.4h7.9v4.6h-7.9zM935.5 253.0h7.9v4.6h-7.9zM943.2 292.6h7.9v4.6h-7.9zM943.2 253.0h7.9v4.6h-7.9zM996.8 257.4h7.9v4.6h-7.9zM996.8 248.7h7.9v4.6h-7.9zM1027.5 257.4h7.9v4.6h-7.9zM1042.8 261.8h7.9v9.0h-7.9zM1065.8 270.6h7.9v4.6h-7.9zM1065.8 244.3h7.9v4.6h-7.9zM1065.8 235.5h7.9v4.6h-7.9z"/><path fill="#002aff" d="M269.1 156.5h7.9v4.6h-7.9zM276.8 156.5h7.9v4.6h-7.9zM315.1 152.1h7.9v4.6h-7.9zM644.5 130.1h7.9v4.6h-7.9zM652.1 125.7h7.9v4.6h-7.9zM652.1 117.0h7.9v4.6h-7.9zM652.1 103.8h7.9v9.0h-7.9zM659.8 125.7h7.9v4.6h-7.9z"/><path fill="#ff4800" d="M276.8 231.1h7.9v4.6h-7.9zM284.4 235.5h7.9v4.6h-7.9zM659.8 257.4h7.9v4.6h-7.9zM659.8 244.3h7.9v4.6h-7.9zM667.4 336.5h7.9v4.6h-7.9zM667.4 323.3h7.9v4.6h-7.9zM675.1 279.4h7.9v4.6h-7.9zM774.7 248.7h7.9v4.6h-7.9zM782.3 288.2h7.9v4.6h-7.9zM782.3 266.2h7.9v4.6h-7.9zM782.3 244.3h7.9v4.6h-7.9zM797.7 270.6h7.9v4.6h-7.9zM813.0 231.1h7.9v4.6h-7.9zM828.3 318.9h7.9v9.0h-7.9zM828.3 288.2h7.9v4.6h-7.9zM828.3 275.0h7.9v4.6h-7.9zM828.3 248.7h7.9v4.6h-7.9zM828.3 226.7h7.9v13.4h-7.9zM836.0 261.8h7.9v4.6h-7.9zM836.0 231.1h7.9v9.0h-7.9zM851.3 292.6h7.9v4.6h-7.9zM851.3 226.7h7.9v4.6h-7.9zM858.9 288.2h7.9v4.6h-7.9zM866.6 266.2h7.9v4.6h-7.9zM874.3 296.9h7.9v4.6h-7.9zM874.3 279.4h7.9v4.6h-7.9zM874.3 226.7h7.9v4.6h-7.9zM889.6 226.7h7.9v4.6h-7.9zM897.2 292.6h7.9v9.0h-7.9zM897.2 217.9h7.9v4.6h-7.9zM904.9 270.6h7.9v9.0h-7.9zM904.9 248.7h7.9v4.6h-7.9zM904.9 226.7h7.9v9.0h-7.9zM904.9 217.9h7.9v4.6h-7.9zM912.6 292.6h7.9v4.6h-7.9zM920.2 283.8h7.9v4.6h-7.9zM920.2 266.2h7.9v13.4h-7.9zM920.2 257.4h7.9v4.6h-7.9zM927.9 288.2h7.9v4.6h-7.9zM927.9 248.7h7.9v4.6h-7.9zM927.9 222.3h7.9v4.6h-7.9zM935.5 314.5h7.9v4.6h-7.9zM935.5 235.5h7.9v4.6h-7.9zM935.5 217.9h7.9v4.6h-7.9zM943.2 270.6h7.9v4.6h-7.9zM958.5 222.3h7.9v4.6h-7.9zM981.5 226.7h7.9v4.6h-7.9zM989.2 231.1h7.9v4.6h-7.9zM996.8 292.6h7.9v9.0h-7.9zM996.8 283.8h7.9v4.6h-7.9zM996.8 231.1h7.9v4.6h-7.9zM1012.1 296.9h7.9v4.6h-7.9zM1035.1 296.9h7.9v4.6h-7.9zM1035.1 279.4h7.9v4.6h-7.9zM1042.8 327.7h7.9v4.6h-7.9zM1042.8 275.0h7.9v4.6h-7.9zM1050.4 323.3h7.9v4.6h-7.9zM1050.4 301.3h7.9v4.6h-7.9zM1050.4 248.7h7.9v9.0h-7.9zM1058.1 261.8h7.9v4.6h-7.9zM1058.1 217.9h7.9v4.6h-7.9zM1065.8 292.6h7.9v4.6h-7.9zM1065.8 275.0h7.9v13.4h-7.9zM1065.8 266.2h7.9v4.6h-7.9z"/><path fill="#00bfff" d="M284.4 169.6h7.9v4.6h-7.9zM322.7 209.1h7.9v4.6h-7.9zM644.5 138.9h7.9v4.6h-7.9zM659.8 187.2h7.9v4.6h-7.9zM659.8 178.4h7.9v4.6h-7.9zM667.4 169.6h7.9v4.6h-7.9zM698.1 182.8h7.9v4.6h-7.9zM705.7 209.1h7.9v4.6h-7.9zM721.1 196.0h7.9v4.6h-7.9zM744.0 204.8h7.9v4.6h-7.9zM759.4 191.6h7.9v4.6h-7.9zM774.7 191.6h7.9v4.6h-7.9zM782.3 187.2h7.9v4.6h-7.9zM813.0 191.6h7.9v4.6h-7.9zM813.0 182.8h7.9v4.6h-7.9zM828.3 178.4h7.9v4.6h-7.9zM966.2 182.8h7.9v4.6h-7.9zM989.2 174.0h7.9v4.6h-7.9zM1050.4 165.2h7.9v4.6h-7.9z"/><path fill="#0000b0" d="M345.7 95.0h7.9v4.6h-7.9zM399.3 103.8h7.9v4.6h-7.9zM644.5 95.0h7.9v4.6h-7.9z"/><path fill="#0000f8" d="M353.4 121.3h7.9v4.6h-7.9zM751.7 138.9h7.9v4.6h-7.9zM774.7 95.0h7.9v4.6h-7.9zM996.8 138.9h7.9v4.6h-7.9z"/><path fill="#abe331" d="M407.0 257.4h7.9v4.6h-7.9zM460.6 288.2h7.9v4.6h-7.9zM483.6 296.9h7.9v4.6h-7.9zM613.8 261.8h7.9v4.6h-7.9zM613.8 239.9h7.9v9.0h-7.9zM613.8 226.7h7.9v9.0h-7.9zM613.8 174.0h7.9v4.6h-7.9zM621.5 266.2h7.9v4.6h-7.9zM621.5 257.4h7.9v4.6h-7.9zM629.1 235.5h7.9v4.6h-7.9zM629.1 226.7h7.9v4.6h-7.9zM629.1 213.5h7.9v4.6h-7.9zM629.1 200.4h7.9v4.6h-7.9zM629.1 174.0h7.9v13.4h-7.9zM636.8 261.8h7.9v4.6h-7.9zM636.8 178.4h7.9v4.6h-7.9z"/><path fill="#6ee36e" d="M407.0 244.3h7.9v4.6h-7.9zM414.7 257.4h7.9v4.6h-7.9zM414.7 235.5h7.9v4.6h-7.9zM445.3 257.4h7.9v4.6h-7.9zM453.0 257.4h7.9v4.6h-7.9zM468.3 235.5h7.9v4.6h-7.9zM475.9 244.3h7.9v4.6h-7.9zM475.9 213.5h7.9v4.6h-7.9zM483.6 261.8h7.9v4.6h-7.9zM483.6 222.3h7.9v4.6h-7.9zM483.6 204.8h7.9v9.0h-7.9zM498.9 217.9h7.9v4.6h-7.9zM498.9 204.8h7.9v9.0h-7.9zM514.2 209.1h7.9v4.6h-7.9zM529.6 257.4h7.9v4.6h-7.9zM529.6 235.5h7.9v4.6h-7.9zM529.6 209.1h7.9v4.6h-7.9zM537.2 204.8h7.9v4.6h-7.9zM544.9 253.0h7.9v4.6h-7.9zM544.9 200.4h7.9v4.6h-7.9zM552.5 209.1h7.9v4.6h-7.9zM560.2 253.0h7.9v4.6h-7.9zM560.2 235.5h7.9v4.6h-7.9zM567.9 261.8h7.9v4.6h-7.9zM567.9 222.3h7.9v4.6h-7.9zM575.5 235.5h7.9v4.6h-7.9zM583.2 248.7h7.9v4.6h-7.9zM583.2 239.9h7.9v4.6h-7.9zM590.8 253.0h7.9v4.6h-7.9zM598.5 239.9h7.9v4.6h-7.9zM606.2 261.8h7.9v4.6h-7.9zM613.8 266.2h7.9v4.6h-7.9zM613.8 257.4h7.9v4.6h-7.9zM613.8 200.4h7.9v9.0h-7.9zM621.5 244.3h7.9v13.4h-7.9zM621.5 231.1h7.9v4.6h-7.9zM621.5 222.3h7.9v4.6h-7.9zM621.5 191.6h7.9v4.6h-7.9zM621.5 178.4h7.9v9.0h-7.9zM629.1 266.2h7.9v4.6h-7.9zM629.1 239.9h7.9v4.6h-7.9zM629.1 204.8h7.9v9.0h-7.9zM629.1 196.0h7.9v4.6h-7.9zM636.8 253.0h7.9v4.6h-7.9zM636.8 244.3h7.9v4.6h-7.9zM636.8 226.7h7.9v13.4h-7.9zM636.8 213.5h7.9v4.6h-7.9z"/><path fill="#8ce34f" d="M407.0 231.1h7.9v4.6h-7.9zM414.7 283.8h7.9v4.6h-7.9zM445.3 239.9h7.9v4.6h-7.9zM453.0 248.7h7.9v4.6h-7.9zM468.3 244.3h7.9v4.6h-7.9zM475.9 239.9h7.9v4.6h-7.9zM483.6 248.7h7.9v4.6h-7.9zM514.2 253.0h7.9v4.6h-7.9zM529.6 239.9h7.9v4.6h-7.9zM544.9 248.7h7.9v4.6h-7.9zM575.5 248.7h7.9v4.6h-7.9zM583.2 257.4h7.9v4.6h-7.9zM590.8 261.8h7.9v4.6h-7.9zM598.5 244.3h7.9v13.4h-7.9zM613.8 222.3h7.9v4.6h-7.9zM621.5 261.8h7.9v4.6h-7.9zM621.5 174.0h7.9v4.6h-7.9zM629.1 217.9h7.9v4.6h-7.9zM636.8 217.9h7.9v4.6h-7.9zM636.8 196.0h7.9v4.6h-7.9zM636.8 187.2h7.9v4.6h-7.9z"/><path fill="#4fe38c" d="M407.0 226.7h7.9v4.6h-7.9zM414.7 165.2h7.9v4.6h-7.9zM422.3 231.1h7.9v4.6h-7.9zM422.3 222.3h7.9v4.6h-7.9zM430.0 213.5h7.9v4.6h-7.9zM445.3 248.7h7.9v4.6h-7.9zM445.3 235.5h7.9v4.6h-7.9zM445.3 217.9h7.9v4.6h-7.9zM445.3 204.8h7.9v4.6h-7.9zM453.0 217.9h7.9v4.6h-7.9zM460.6 235.5h7.9v4.6h-7.9zM460.6 217.9h7.9v4.6h-7.9zM475.9 253.0h7.9v4.6h-7.9zM475.9 191.6h7.9v4.6h-7.9zM491.3 213.5h7.9v4.6h-7.9zM491.3 169.6h7.9v4.6h-7.9zM491.3 138.9h7.9v4.6h-7.9zM498.9 231.1h7.9v4.6h-7.9zM506.6 248.7h7.9v4.6h-7.9zM506.6 231.1h7.9v4.6h-7.9zM506.6 222.3h7.9v4.6h-7.9zM506.6 204.8h7.9v4.6h-7.9zM514.2 231.1h7.9v4.6h-7.9zM514.2 217.9h7.9v4.6h-7.9zM521.9 261.8h7.9v4.6h-7.9zM521.9 253.0h7.9v4.6h-7.9zM521.9 200.4h7.9v9.0h-7.9zM529.6 253.0h7.9v4.6h-7.9zM544.9 209.1h7.9v4.6h-7.9zM552.5 248.7h7.9v4.6h-7.9zM552.5 239.9h7.9v4.6h-7.9zM560.2 231.1h7.9v4.6h-7.9zM583.2 222.3h7.9v4.6h-7.9zM583.2 200.4h7.9v4.6h-7.9zM590.8 213.5h7.9v4.6h-7.9zM598.5 231.1h7.9v4.6h-7.9zM598.5 204.8h7.9v4.6h-7.9zM598.5 156.5h7.9v4.6h-7.9zM606.2 266.2h7.9v4.6h-7.9zM606.2 239.9h7.9v9.0h-7.9zM606.2 213.5h7.9v9.0h-7.9zM606.2 204.8h7.9v4.6h-7.9zM629.1 138.9h7.9v4.6h-7.9z"/><path fill="#31e3ab" d="M407.0 222.3h7.9v4.6h-7.9zM407.0 209.1h7.9v4.6h-7.9zM414.7 187.2h7.9v9.0h-7.9zM414.7 143.3h7.9v9.0h-7.9zM430.0 200.4h7.9v9.0h-7.9zM430.0 147.7h7.9v4.6h-7.9zM437.6 152.1h7.9v4.6h-7.9zM445.3 200.4h7.9v4.6h-7.9zM445.3 178.4h7.9v4.6h-7.9zM445.3 165.2h7.9v4.6h-7.9zM453.0 222.3h7.9v9.0h-7.9zM460.6 204.8h7.9v9.0h-7.9zM468.3 231.1h7.9v4.6h-7.9zM475.9 226.7h7.9v4.6h-7.9zM475.9 200.4h7.9v4.6h-7.9zM475.9 138.9h7.9v4.6h-7.9zM483.6 213.5h7.9v9.0h-7.9zM491.3 217.9h7.9v4.6h-7.9zM491.3 209.1h7.9v4.6h-7.9zM498.9 213.5h7.9v4.6h-7.9zM498.9 147.7h7.9v4.6h-7.9zM506.6 226.7h7.9v4.6h-7.9zM506.6 200.4h7.9v4.6h-7.9zM506.6 187.2h7.9v4.6h-7.9zM506.6 174.0h7.9v4.6h-7.9zM514.2 200.4h7.9v4.6h-7.9zM514.2 178.4h7.9v4.6h-7.9zM514.2 165.2h7.9v4.6h-7.9zM521.9 231.1h7.9v4.6h-7.9zM521.9 187.2h7.9v4.6h-7.9zM529.6 200.4h7.9v9.0h-7.9zM529.6 178.4h7.9v4.6h-7.9zM537.2 226.7h7.9v13.4h-7.9zM537.2 213.5h7.9v4.6h-7.9zM544.9 196.0h7.9v4.6h-7.9zM552.5 143.3h7.9v9.0h-7.9zM560.2 226.7h7.9v4.6h-7.9zM560.2 160.9h7.9v4.6h-7.9zM567.9 196.0h7.9v4.6h-7.9zM567.9 178.4h7.9v4.6h-7.9zM575.5 239.9h7.9v4.6h-7.9zM575.5 196.0h7.9v9.0h-7.9zM583.2 231.1h7.9v4.6h-7.9zM583.2 178.4h7.9v9.0h-7.9zM583.2 143.3h7.9v4.6h-7.9zM590.8 165.2h7.9v4.6h-7.9zM590.8 134.5h7.9v4.6h-7.9zM598.5 191.6h7.9v4.6h-7.9zM598.5 147.7h7.9v4.6h-7.9zM606.2 209.1h7.9v4.6h-7.9zM606.2 130.1h7.9v4.6h-7.9zM613.8 169.6h7.9v4.6h-7.9zM613.8 134.5h7.9v4.6h-7.9zM621.5 169.6h7.9v4.6h-7.9zM629.1 156.5h7.9v4.6h-7.9zM629.1 134.5h7.9v4.6h-7.9z"/><path fill="#5fe37d" d="M407.0 217.9h7.9v4.6h-7.9zM414.7 226.7h7.9v4.6h-7.9zM414.7 204.8h7.9v4.6h-7.9zM422.3 226.7h7.9v4.6h-7.9zM422.3 217.9h7.9v4.6h-7.9zM422.3 204.8h7.9v4.6h-7.9zM430.0 209.1h7.9v4.6h-7.9zM437.6 257.4h7.9v4.6h-7.9zM437.6 217.9h7.9v4.6h-7.9zM437.6 209.1h7.9v4.6h-7.9zM445.3 213.5h7.9v4.6h-7.9zM453.0 239.9h7.9v9.0h-7.9zM453.0 231.1h7.9v4.6h-7.9zM453.0 204.8h7.9v4.6h-7.9zM460.6 226.7h7.9v4.6h-7.9zM460.6 200.4h7.9v4.6h-7.9zM468.3 257.4h7.9v4.6h-7.9zM468.3 226.7h7.9v4.6h-7.9zM468.3 217.9h7.9v4.6h-7.9zM468.3 209.1h7.9v4.6h-7.9zM475.9 235.5h7.9v4.6h-7.9zM475.9 217.9h7.9v4.6h-7.9zM475.9 209.1h7.9v4.6h-7.9zM483.6 200.4h7.9v4.6h-7.9zM491.3 231.1h7.9v4.6h-7.9zM491.3 204.8h7.9v4.6h-7.9zM498.9 257.4h7.9v9.0h-7.9zM498.9 244.3h7.9v4.6h-7.9zM498.9 222.3h7.9v4.6h-7.9zM506.6 244.3h7.9v4.6h-7.9zM506.6 213.5h7.9v4.6h-7.9zM514.2 261.8h7.9v4.6h-7.9zM514.2 226.7h7.9v4.6h-7.9zM521.9 209.1h7.9v4.6h-7.9zM529.6 248.7h7.9v4.6h-7.9zM537.2 222.3h7.9v4.6h-7.9zM544.9 231.1h7.9v4.6h-7.9zM544.9 217.9h7.9v4.6h-7.9zM544.9 204.8h7.9v4.6h-7.9zM552.5 261.8h7.9v4.6h-7.9zM552.5 235.5h7.9v4.6h-7.9zM552.5 226.7h7.9v4.6h-7.9zM575.5 213.5h7.9v9.0h-7.9zM575.5 204.8h7.9v4.6h-7.9zM583.2 209.1h7.9v4.6h-7.9zM590.8 235.5h7.9v4.6h-7.9zM590.8 222.3h7.9v4.6h-7.9zM590.8 209.1h7.9v4.6h-7.9zM590.8 200.4h7.9v4.6h-7.9zM606.2 253.0h7.9v4.6h-7.9zM606.2 235.5h7.9v4.6h-7.9zM613.8 196.0h7.9v4.6h-7.9zM629.1 270.6h7.9v4.6h-7.9zM636.8 257.4h7.9v4.6h-7.9z"/><path fill="#40e39c" d="M407.0 213.5h7.9v4.6h-7.9zM407.0 165.2h7.9v4.6h-7.9zM407.0 152.1h7.9v4.6h-7.9zM422.3 209.1h7.9v4.6h-7.9zM422.3 200.4h7.9v4.6h-7.9zM422.3 182.8h7.9v9.0h-7.9zM422.3 174.0h7.9v4.6h-7.9zM430.0 257.4h7.9v4.6h-7.9zM430.0 217.9h7.9v4.6h-7.9zM437.6 222.3h7.9v4.6h-7.9zM437.6 147.7h7.9v4.6h-7.9zM453.0 169.6h7.9v4.6h-7.9zM460.6 182.8h7.9v4.6h-7.9zM460.6 152.1h7.9v4.6h-7.9zM468.3 204.8h7.9v4.6h-7.9zM468.3 169.6h7.9v4.6h-7.9zM468.3 156.5h7.9v9.0h-7.9zM475.9 222.3h7.9v4.6h-7.9zM483.6 226.7h7.9v4.6h-7.9zM483.6 169.6h7.9v9.0h-7.9zM491.3 222.3h7.9v9.0h-7.9zM491.3 200.4h7.9v4.6h-7.9zM491.3 174.0h7.9v4.6h-7.9zM498.9 200.4h7.9v4.6h-7.9zM498.9 182.8h7.9v4.6h-7.9zM506.6 253.0h7.9v4.6h-7.9zM506.6 178.4h7.9v4.6h-7.9zM514.2 204.8h7.9v4.6h-7.9zM514.2 143.3h7.9v4.6h-7.9zM521.9 226.7h7.9v4.6h-7.9zM521.9 143.3h7.9v4.6h-7.9zM529.6 222.3h7.9v4.6h-7.9zM529.6 182.8h7.9v4.6h-7.9zM537.2 191.6h7.9v4.6h-7.9zM544.9 222.3h7.9v9.0h-7.9zM544.9 213.5h7.9v4.6h-7.9zM544.9 174.0h7.9v4.6h-7.9zM552.5 217.9h7.9v4.6h-7.9zM552.5 204.8h7.9v4.6h-7.9zM552.5 178.4h7.9v4.6h-7.9zM552.5 160.9h7.9v4.6h-7.9zM567.9 174.0h7.9v4.6h-7.9zM575.5 257.4h7.9v4.6h-7.9zM575.5 226.7h7.9v9.0h-7.9zM575.5 178.4h7.9v4.6h-7.9zM575.5 156.5h7.9v9.0h-7.9zM583.2 235.5h7.9v4.6h-7.9zM583.2 213.5h7.9v4.6h-7.9zM583.2 204.8h7.9v4.6h-7.9zM590.8 257.4h7.9v4.6h-7.9zM590.8 231.1h7.9v4.6h-7.9zM590.8 204.8h7.9v4.6h-7.9zM590.8 138.9h7.9v4.6h-7.9zM598.5 235.5h7.9v4.6h-7.9zM598.5 209.1h7.9v4.6h-7.9zM598.5 196.0h7.9v4.6h-7.9zM598.5 178.4h7.9v4.6h-7.9zM606.2 222.3h7.9v4.6h-7.9zM606.2 200.4h7.9v4.6h-7.9zM606.2 191.6h7.9v4.6h-7.9zM606.2 182.8h7.9v4.6h-7.9zM606.2 152.1h7.9v4.6h-7.9zM621.5 165.2h7.9v4.6h-7.9zM629.1 165.2h7.9v4.6h-7.9z"/><path fill="#12e3c9" d="M407.0 204.8h7.9v4.6h-7.9zM407.0 169.6h7.9v4.6h-7.9zM414.7 213.5h7.9v4.6h-7.9zM414.7 196.0h7.9v4.6h-7.9zM414.7 156.5h7.9v4.6h-7.9zM422.3 213.5h7.9v4.6h-7.9zM422.3 156.5h7.9v4.6h-7.9zM430.0 178.4h7.9v4.6h-7.9zM437.6 213.5h7.9v4.6h-7.9zM437.6 200.4h7.9v4.6h-7.9zM445.3 143.3h7.9v4.6h-7.9zM453.0 156.5h7.9v4.6h-7.9zM453.0 143.3h7.9v4.6h-7.9zM468.3 191.6h7.9v4.6h-7.9zM475.9 152.1h7.9v4.6h-7.9zM483.6 182.8h7.9v4.6h-7.9zM483.6 152.1h7.9v4.6h-7.9zM491.3 143.3h7.9v4.6h-7.9zM498.9 191.6h7.9v4.6h-7.9zM506.6 165.2h7.9v4.6h-7.9zM514.2 191.6h7.9v4.6h-7.9zM521.9 178.4h7.9v4.6h-7.9zM521.9 160.9h7.9v4.6h-7.9zM544.9 187.2h7.9v4.6h-7.9zM544.9 178.4h7.9v4.6h-7.9zM544.9 156.5h7.9v4.6h-7.9zM544.9 147.7h7.9v4.6h-7.9zM544.9 138.9h7.9v4.6h-7.9zM552.5 187.2h7.9v4.6h-7.9zM552.5 169.6h7.9v4.6h-7.9zM552.5 152.1h7.9v4.6h-7.9zM560.2 196.0h7.9v4.6h-7.9zM560.2 182.8h7.9v4.6h-7.9zM560.2 143.3h7.9v13.4h-7.9zM575.5 143.3h7.9v4.6h-7.9zM575.5 134.5h7.9v4.6h-7.9zM606.2 160.9h7.9v9.0h-7.9zM606.2 138.9h7.9v4.6h-7.9zM613.8 147.7h7.9v4.6h-7.9zM621.5 130.1h7.9v4.6h-7.9zM629.1 152.1h7.9v4.6h-7.9zM636.8 169.6h7.9v4.6h-7.9z"/><path fill="#22e3ba" d="M407.0 196.0h7.9v4.6h-7.9zM414.7 200.4h7.9v4.6h-7.9zM414.7 152.1h7.9v4.6h-7.9zM430.0 187.2h7.9v9.0h-7.9zM430.0 160.9h7.9v4.6h-7.9zM437.6 226.7h7.9v4.6h-7.9zM437.6 204.8h7.9v4.6h-7.9zM437.6 196.0h7.9v4.6h-7.9zM437.6 169.6h7.9v4.6h-7.9zM445.3 226.7h7.9v4.6h-7.9zM445.3 187.2h7.9v4.6h-7.9zM445.3 174.0h7.9v4.6h-7.9zM445.3 160.9h7.9v4.6h-7.9zM445.3 147.7h7.9v4.6h-7.9zM453.0 191.6h7.9v4.6h-7.9zM453.0 174.0h7.9v4.6h-7.9zM460.6 213.5h7.9v4.6h-7.9zM460.6 191.6h7.9v4.6h-7.9zM460.6 147.7h7.9v4.6h-7.9zM468.3 222.3h7.9v4.6h-7.9zM468.3 200.4h7.9v4.6h-7.9zM475.9 204.8h7.9v4.6h-7.9zM475.9 143.3h7.9v9.0h-7.9zM483.6 165.2h7.9v4.6h-7.9zM483.6 156.5h7.9v4.6h-7.9zM483.6 143.3h7.9v4.6h-7.9zM491.3 165.2h7.9v4.6h-7.9zM491.3 156.5h7.9v4.6h-7.9zM498.9 160.9h7.9v4.6h-7.9zM506.6 152.1h7.9v4.6h-7.9zM506.6 138.9h7.9v4.6h-7.9zM514.2 222.3h7.9v4.6h-7.9zM514.2 174.0h7.9v4.6h-7.9zM521.9 217.9h7.9v4.6h-7.9zM521.9 152.1h7.9v4.6h-7.9zM529.6 231.1h7.9v4.6h-7.9zM529.6 213.5h7.9v4.6h-7.9zM529.6 196.0h7.9v4.6h-7.9zM529.6 187.2h7.9v4.6h-7.9zM529.6 160.9h7.9v4.6h-7.9zM529.6 147.7h7.9v9.0h-7.9zM537.2 187.2h7.9v4.6h-7.9zM552.5 231.1h7.9v4.6h-7.9zM552.5 222.3h7.9v4.6h-7.9zM560.2 213.5h7.9v4.6h-7.9zM560.2 200.4h7.9v4.6h-7.9zM567.9 182.8h7.9v4.6h-7.9zM567.9 152.1h7.9v4.6h-7.9zM567.9 143.3h7.9v4.6h-7.9zM567.9 134.5h7.9v4.6h-7.9zM575.5 152.1h7.9v4.6h-7.9zM583.2 160.9h7.9v9.0h-7.9zM590.8 196.0h7.9v4.6h-7.9zM590.8 182.8h7.9v9.0h-7.9zM590.8 147.7h7.9v4.6h-7.9zM598.5 182.8h7.9v4.6h-7.9zM598.5 152.1h7.9v4.6h-7.9zM598.5 130.1h7.9v9.0h-7.9zM606.2 156.5h7.9v4.6h-7.9zM606.2 134.5h7.9v4.6h-7.9zM613.8 152.1h7.9v4.6h-7.9zM613.8 130.1h7.9v4.6h-7.9zM636.8 147.7h7.9v4.6h-7.9z"/><path fill="#00bde3" d="M407.0 191.6h7.9v4.6h-7.9zM422.3 169.6h7.9v4.6h-7.9zM422.3 160.9h7.9v4.6h-7.9zM430.0 174.0h7.9v4.6h-7.9zM437.6 160.9h7.9v4.6h-7.9zM453.0 165.2h7.9v4.6h-7.9zM460.6 160.9h7.9v4.6h-7.9zM468.3 196.0h7.9v4.6h-7.9zM468.3 178.4h7.9v4.6h-7.9zM468.3 165.2h7.9v4.6h-7.9zM468.3 152.1h7.9v4.6h-7.9zM475.9 187.2h7.9v4.6h-7.9zM475.9 160.9h7.9v9.0h-7.9zM483.6 191.6h7.9v4.6h-7.9zM483.6 138.9h7.9v4.6h-7.9zM498.9 187.2h7.9v4.6h-7.9zM498.9 165.2h7.9v4.6h-7.9zM498.9 138.9h7.9v4.6h-7.9zM506.6 143.3h7.9v4.6h-7.9zM521.9 191.6h7.9v4.6h-7.9zM521.9 147.7h7.9v4.6h-7.9zM529.6 191.6h7.9v4.6h-7.9zM529.6 165.2h7.9v4.6h-7.9zM537.2 196.0h7.9v4.6h-7.9zM544.9 182.8h7.9v4.6h-7.9zM552.5 191.6h7.9v9.0h-7.9zM560.2 191.6h7.9v4.6h-7.9zM560.2 165.2h7.9v4.6h-7.9zM560.2 134.5h7.9v4.6h-7.9zM567.9 191.6h7.9v4.6h-7.9zM567.9 147.7h7.9v4.6h-7.9zM567.9 138.9h7.9v4.6h-7.9zM575.5 187.2h7.9v4.6h-7.9zM575.5 165.2h7.9v4.6h-7.9zM583.2 191.6h7.9v4.6h-7.9zM583.2 134.5h7.9v9.0h-7.9zM590.8 169.6h7.9v4.6h-7.9zM598.5 138.9h7.9v4.6h-7.9zM606.2 187.2h7.9v4.6h-7.9zM606.2 174.0h7.9v4.6h-7.9zM629.1 169.6h7.9v4.6h-7.9zM636.8 138.9h7.9v4.6h-7.9zM636.8 130.1h7.9v4.6h-7.9z"/><path fill="#0071e3" d="M407.0 187.2h7.9v4.6h-7.9zM422.3 191.6h7.9v4.6h-7.9zM422.3 134.5h7.9v9.0h-7.9zM437.6 143.3h7.9v4.6h-7.9zM445.3 182.8h7.9v4.6h-7.9zM453.0 147.7h7.9v4.6h-7.9zM468.3 125.7h7.9v4.6h-7.9zM491.3 196.0h7.9v4.6h-7.9zM491.3 178.4h7.9v4.6h-7.9zM514.2 125.7h7.9v4.6h-7.9zM521.9 134.5h7.9v4.6h-7.9zM529.6 156.5h7.9v4.6h-7.9zM529.6 121.3h7.9v4.6h-7.9zM537.2 143.3h7.9v4.6h-7.9zM560.2 174.0h7.9v9.0h-7.9zM567.9 160.9h7.9v4.6h-7.9zM575.5 121.3h7.9v4.6h-7.9zM583.2 174.0h7.9v4.6h-7.9zM583.2 147.7h7.9v4.6h-7.9zM590.8 191.6h7.9v4.6h-7.9zM613.8 117.0h7.9v4.6h-7.9zM629.1 160.9h7.9v4.6h-7.9z"/><path fill="#03d0d9" d="M407.0 182.8h7.9v4.6h-7.9zM407.0 156.5h7.9v4.6h-7.9zM407.0 147.7h7.9v4.6h-7.9zM414.7 182.8h7.9v4.6h-7.9zM422.3 165.2h7.9v4.6h-7.9zM430.0 165.2h7.9v4.6h-7.9zM445.3 152.1h7.9v9.0h-7.9zM483.6 187.2h7.9v4.6h-7.9zM483.6 147.7h7.9v4.6h-7.9zM491.3 152.1h7.9v4.6h-7.9zM498.9 169.6h7.9v4.6h-7.9zM514.2 169.6h7.9v4.6h-7.9zM514.2 156.5h7.9v9.0h-7.9zM537.2 178.4h7.9v4.6h-7.9zM537.2 134.5h7.9v4.6h-7.9zM544.9 169.6h7.9v4.6h-7.9zM544.9 152.1h7.9v4.6h-7.9zM544.9 134.5h7.9v4.6h-7.9zM552.5 182.8h7.9v4.6h-7.9zM552.5 165.2h7.9v4.6h-7.9zM552.5 156.5h7.9v4.6h-7.9zM560.2 169.6h7.9v4.6h-7.9zM560.2 138.9h7.9v4.6h-7.9zM567.9 165.2h7.9v4.6h-7.9zM575.5 169.6h7.9v9.0h-7.9zM583.2 187.2h7.9v4.6h-7.9zM583.2 152.1h7.9v4.6h-7.9zM598.5 169.6h7.9v4.6h-7.9zM613.8 138.9h7.9v4.6h-7.9zM629.1 147.7h7.9v4.6h-7.9zM629.1 130.1h7.9v4.6h-7.9zM636.8 143.3h7.9v4.6h-7.9zM636.8 134.5h7.9v4.6h-7.9z"/><path fill="#0097e3" d="M407.0 178.4h7.9v4.6h-7.9zM430.0 196.0h7.9v4.6h-7.9zM430.0 169.6h7.9v4.6h-7.9zM430.0 156.5h7.9v4.6h-7.9zM430.0 143.3h7.9v4.6h-7.9zM437.6 138.9h7.9v4.6h-7.9zM445.3 130.1h7.9v4.6h-7.9zM453.0 138.9h7.9v4.6h-7.9zM453.0 130.1h7.9v4.6h-7.9zM460.6 130.1h7.9v4.6h-7.9zM468.3 187.2h7.9v4.6h-7.9zM475.9 174.0h7.9v4.6h-7.9zM475.9 125.7h7.9v4.6h-7.9zM491.3 134.5h7.9v4.6h-7.9zM491.3 125.7h7.9v4.6h-7.9zM506.6 121.3h7.9v4.6h-7.9zM514.2 182.8h7.9v4.6h-7.9zM521.9 174.0h7.9v4.6h-7.9zM521.9 165.2h7.9v4.6h-7.9zM529.6 143.3h7.9v4.6h-7.9zM529.6 125.7h7.9v4.6h-7.9zM537.2 165.2h7.9v4.6h-7.9zM544.9 191.6h7.9v4.6h-7.9zM560.2 156.5h7.9v4.6h-7.9zM560.2 130.1h7.9v4.6h-7.9zM560.2 121.3h7.9v4.6h-7.9zM567.9 125.7h7.9v4.6h-7.9zM583.2 196.0h7.9v4.6h-7.9zM590.8 160.9h7.9v4.6h-7.9zM590.8 117.0h7.9v9.0h-7.9zM598.5 187.2h7.9v4.6h-7.9zM606.2 147.7h7.9v4.6h-7.9zM606.2 125.7h7.9v4.6h-7.9z"/><path fill="#00aae3" d="M407.0 160.9h7.9v4.6h-7.9zM414.7 178.4h7.9v4.6h-7.9zM414.7 160.9h7.9v4.6h-7.9zM422.3 178.4h7.9v4.6h-7.9zM422.3 143.3h7.9v9.0h-7.9zM437.6 191.6h7.9v4.6h-7.9zM437.6 174.0h7.9v4.6h-7.9zM437.6 156.5h7.9v4.6h-7.9zM445.3 191.6h7.9v4.6h-7.9zM453.0 187.2h7.9v4.6h-7.9zM453.0 152.1h7.9v4.6h-7.9zM460.6 187.2h7.9v4.6h-7.9zM460.6 169.6h7.9v4.6h-7.9zM460.6 156.5h7.9v4.6h-7.9zM468.3 182.8h7.9v4.6h-7.9zM468.3 130.1h7.9v4.6h-7.9zM475.9 178.4h7.9v4.6h-7.9zM483.6 178.4h7.9v4.6h-7.9zM491.3 191.6h7.9v4.6h-7.9zM498.9 178.4h7.9v4.6h-7.9zM498.9 152.1h7.9v4.6h-7.9zM506.6 182.8h7.9v4.6h-7.9zM506.6 169.6h7.9v4.6h-7.9zM506.6 147.7h7.9v4.6h-7.9zM514.2 196.0h7.9v4.6h-7.9zM514.2 187.2h7.9v4.6h-7.9zM514.2 138.9h7.9v4.6h-7.9zM514.2 130.1h7.9v4.6h-7.9zM521.9 196.0h7.9v4.6h-7.9zM521.9 156.5h7.9v4.6h-7.9zM529.6 174.0h7.9v4.6h-7.9zM537.2 147.7h7.9v4.6h-7.9zM544.9 160.9h7.9v9.0h-7.9zM552.5 174.0h7.9v4.6h-7.9zM552.5 134.5h7.9v4.6h-7.9zM560.2 187.2h7.9v4.6h-7.9zM560.2 125.7h7.9v4.6h-7.9zM567.9 169.6h7.9v4.6h-7.9zM567.9 156.5h7.9v4.6h-7.9zM575.5 147.7h7.9v4.6h-7.9zM575.5 117.0h7.9v4.6h-7.9zM583.2 169.6h7.9v4.6h-7.9zM590.8 178.4h7.9v4.6h-7.9zM590.8 125.7h7.9v4.6h-7.9zM598.5 143.3h7.9v4.6h-7.9zM606.2 178.4h7.9v4.6h-7.9zM606.2 143.3h7.9v4.6h-7.9zM606.2 121.3h7.9v4.6h-7.9zM613.8 143.3h7.9v4.6h-7.9zM621.5 160.9h7.9v4.6h-7.9zM621.5 152.1h7.9v4.6h-7.9zM621.5 112.6h7.9v4.6h-7.9zM629.1 112.6h7.9v4.6h-7.9zM636.8 160.9h7.9v9.0h-7.9z"/><path fill="#0084e3" d="M407.0 138.9h7.9v4.6h-7.9zM430.0 182.8h7.9v4.6h-7.9zM430.0 130.1h7.9v4.6h-7.9zM437.6 134.5h7.9v4.6h-7.9zM460.6 178.4h7.9v4.6h-7.9zM460.6 138.9h7.9v4.6h-7.9zM506.6 191.6h7.9v4.6h-7.9zM506.6 160.9h7.9v4.6h-7.9zM521.9 182.8h7.9v4.6h-7.9zM529.6 138.9h7.9v4.6h-7.9zM529.6 130.1h7.9v4.6h-7.9zM537.2 121.3h7.9v4.6h-7.9zM544.9 143.3h7.9v4.6h-7.9zM544.9 121.3h7.9v4.6h-7.9zM567.9 130.1h7.9v4.6h-7.9zM583.2 125.7h7.9v4.6h-7.9zM590.8 143.3h7.9v4.6h-7.9zM613.8 125.7h7.9v4.6h-7.9zM621.5 147.7h7.9v4.6h-7.9z"/><path fill="#0026e3" d="M407.0 103.8h7.9v4.6h-7.9zM430.0 125.7h7.9v4.6h-7.9zM468.3 138.9h7.9v4.6h-7.9zM483.6 130.1h7.9v9.0h-7.9zM498.9 130.1h7.9v4.6h-7.9zM544.9 125.7h7.9v4.6h-7.9zM544.9 112.6h7.9v4.6h-7.9zM552.5 125.7h7.9v4.6h-7.9zM567.9 108.2h7.9v4.6h-7.9zM598.5 125.7h7.9v4.6h-7.9zM598.5 117.0h7.9v4.6h-7.9zM606.2 112.6h7.9v4.6h-7.9zM613.8 112.6h7.9v4.6h-7.9zM621.5 117.0h7.9v4.6h-7.9zM629.1 103.8h7.9v4.6h-7.9zM636.8 112.6h7.9v9.0h-7.9z"/><path fill="#004ce3" d="M414.7 174.0h7.9v4.6h-7.9zM437.6 165.2h7.9v4.6h-7.9zM460.6 196.0h7.9v4.6h-7.9zM460.6 174.0h7.9v4.6h-7.9zM460.6 165.2h7.9v4.6h-7.9zM468.3 134.5h7.9v4.6h-7.9zM475.9 156.5h7.9v4.6h-7.9zM498.9 174.0h7.9v4.6h-7.9zM506.6 125.7h7.9v4.6h-7.9zM514.2 134.5h7.9v4.6h-7.9zM521.9 121.3h7.9v4.6h-7.9zM529.6 134.5h7.9v4.6h-7.9zM537.2 160.9h7.9v4.6h-7.9zM567.9 117.0h7.9v4.6h-7.9zM598.5 121.3h7.9v4.6h-7.9zM613.8 160.9h7.9v4.6h-7.9zM621.5 134.5h7.9v4.6h-7.9z"/><path fill="#0039e3" d="M414.7 130.1h7.9v9.0h-7.9zM437.6 112.6h7.9v4.6h-7.9zM468.3 108.2h7.9v4.6h-7.9zM498.9 134.5h7.9v4.6h-7.9zM506.6 134.5h7.9v4.6h-7.9zM521.9 130.1h7.9v4.6h-7.9zM544.9 130.1h7.9v4.6h-7.9zM575.5 130.1h7.9v4.6h-7.9zM583.2 121.3h7.9v4.6h-7.9zM606.2 117.0h7.9v4.6h-7.9zM613.8 121.3h7.9v4.6h-7.9zM621.5 125.7h7.9v4.6h-7.9zM629.1 125.7h7.9v4.6h-7.9zM636.8 125.7h7.9v4.6h-7.9z"/><path fill="#0000dd" d="M414.7 95.0h7.9v4.6h-7.9zM491.3 108.2h7.9v4.6h-7.9zM521.9 112.6h7.9v4.6h-7.9zM537.2 103.8h7.9v4.6h-7.9zM544.9 117.0h7.9v4.6h-7.9zM560.2 103.8h7.9v4.6h-7.9zM606.2 103.8h7.9v4.6h-7.9z"/><path fill="#7de35f" d="M422.3 296.9h7.9v4.6h-7.9zM460.6 275.0h7.9v4.6h-7.9zM475.9 292.6h7.9v4.6h-7.9zM483.6 288.2h7.9v4.6h-7.9zM506.6 292.6h7.9v4.6h-7.9zM506.6 257.4h7.9v4.6h-7.9zM514.2 270.6h7.9v4.6h-7.9zM514.2 244.3h7.9v4.6h-7.9zM537.2 288.2h7.9v4.6h-7.9zM544.9 235.5h7.9v4.6h-7.9zM552.5 213.5h7.9v4.6h-7.9zM560.2 204.8h7.9v9.0h-7.9zM567.9 248.7h7.9v9.0h-7.9zM575.5 209.1h7.9v4.6h-7.9zM583.2 226.7h7.9v4.6h-7.9zM590.8 332.1h7.9v4.6h-7.9zM590.8 283.8h7.9v4.6h-7.9zM590.8 244.3h7.9v4.6h-7.9zM590.8 226.7h7.9v4.6h-7.9zM598.5 213.5h7.9v4.6h-7.9zM606.2 248.7h7.9v4.6h-7.9zM606.2 231.1h7.9v4.6h-7.9zM613.8 235.5h7.9v4.6h-7.9zM621.5 239.9h7.9v4.6h-7.9zM621.5 217.9h7.9v4.6h-7.9zM621.5 204.8h7.9v4.6h-7.9zM621.5 187.2h7.9v4.6h-7.9zM629.1 261.8h7.9v4.6h-7.9zM636.8 239.9h7.9v4.6h-7.9zM636.8 204.8h7.9v4.6h-7.9zM636.8 191.6h7.9v4.6h-7.9z"/><path fill="#005fe3" d="M422.3 196.0h7.9v4.6h-7.9zM422.3 130.1h7.9v4.6h-7.9zM437.6 178.4h7.9v4.6h-7.9zM445.3 196.0h7.9v4.6h-7.9zM483.6 125.7h7.9v4.6h-7.9zM498.9 156.5h7.9v4.6h-7.9zM521.9 125.7h7.9v4.6h-7.9zM537.2 125.7h7.9v9.0h-7.9zM575.5 182.8h7.9v4.6h-7.9zM583.2 130.1h7.9v4.6h-7.9zM598.5 160.9h7.9v9.0h-7.9zM606.2 196.0h7.9v4.6h-7.9zM613.8 165.2h7.9v4.6h-7.9zM621.5 138.9h7.9v9.0h-7.9zM621.5 121.3h7.9v4.6h-7.9zM629.1 121.3h7.9v4.6h-7.9z"/><path fill="#0000e3" d="M422.3 103.8h7.9v4.6h-7.9zM460.6 117.0h7.9v4.6h-7.9zM498.9 121.3h7.9v4.6h-7.9zM498.9 103.8h7.9v4.6h-7.9zM506.6 117.0h7.9v4.6h-7.9zM529.6 112.6h7.9v4.6h-7.9zM590.8 112.6h7.9v4.6h-7.9z"/><path fill="#0000c7" d="M430.0 117.0h7.9v4.6h-7.9zM430.0 103.8h7.9v4.6h-7.9zM437.6 121.3h7.9v4.6h-7.9zM475.9 112.6h7.9v4.6h-7.9zM483.6 121.3h7.9v4.6h-7.9zM506.6 95.0h7.9v4.6h-7.9zM537.2 112.6h7.9v4.6h-7.9zM544.9 103.8h7.9v4.6h-7.9zM560.2 108.2h7.9v4.6h-7.9zM575.5 112.6h7.9v4.6h-7.9zM575.5 99.4h7.9v4.6h-7.9zM598.5 103.8h7.9v4.6h-7.9zM598.5 95.0h7.9v4.6h-7.9zM606.2 108.2h7.9v4.6h-7.9zM613.8 108.2h7.9v4.6h-7.9z"/><path fill="#0013e3" d="M430.0 112.6h7.9v4.6h-7.9zM437.6 103.8h7.9v4.6h-7.9zM453.0 117.0h7.9v4.6h-7.9zM460.6 134.5h7.9v4.6h-7.9zM483.6 108.2h7.9v4.6h-7.9zM506.6 108.2h7.9v4.6h-7.9zM529.6 108.2h7.9v4.6h-7.9zM552.5 108.2h7.9v4.6h-7.9zM560.2 112.6h7.9v9.0h-7.9zM575.5 103.8h7.9v4.6h-7.9zM583.2 103.8h7.9v4.6h-7.9zM590.8 108.2h7.9v4.6h-7.9zM629.1 108.2h7.9v4.6h-7.9zM636.8 121.3h7.9v4.6h-7.9zM636.8 103.8h7.9v4.6h-7.9z"/><path fill="#9ce340" d="M437.6 332.1h7.9v4.6h-7.9zM460.6 279.4h7.9v4.6h-7.9zM483.6 270.6h7.9v4.6h-7.9zM498.9 327.7h7.9v4.6h-7.9zM560.2 323.3h7.9v4.6h-7.9zM613.8 217.9h7.9v4.6h-7.9zM613.8 187.2h7.9v9.0h-7.9zM621.5 235.5h7.9v4.6h-7.9zM621.5 226.7h7.9v4.6h-7.9zM621.5 213.5h7.9v4.6h-7.9zM621.5 200.4h7.9v4.6h-7.9zM629.1 257.4h7.9v4.6h-7.9zM629.1 244.3h7.9v9.0h-7.9zM629.1 222.3h7.9v4.6h-7.9zM636.8 200.4h7.9v4.6h-7.9z"/><path fill="#0000b2" d="M468.3 103.8h7.9v4.6h-7.9zM475.9 99.4h7.9v4.6h-7.9zM514.2 117.0h7.9v4.6h-7.9zM521.9 103.8h7.9v4.6h-7.9zM544.9 95.0h7.9v4.6h-7.9zM590.8 103.8h7.9v4.6h-7.9zM621.5 95.0h7.9v4.6h-7.9zM636.8 108.2h7.9v4.6h-7.9z"/><path fill="#e3cd00" d="M491.3 336.5h7.9v4.6h-7.9zM537.2 336.5h7.9v4.6h-7.9zM575.5 349.6h7.9v4.6h-7.9zM598.5 358.4h7.9v4.6h-7.9zM613.8 349.6h7.9v4.6h-7.9zM621.5 354.0h7.9v4.6h-7.9zM636.8 354.0h7.9v4.6h-7.9z"/><path fill="#00009c" d="M552.5 95.0h7.9v4.6h-7.9zM583.2 99.4h7.9v4.6h-7.9zM590.8 99.4h7.9v4.6h-7.9zM598.5 99.4h7.9v4.6h-7.9zM613.8 99.4h7.9v4.6h-7.9z"/><path fill="#bae322" d="M613.8 178.4h7.9v9.0h-7.9zM621.5 209.1h7.9v4.6h-7.9zM629.1 191.6h7.9v4.6h-7.9zM636.8 248.7h7.9v4.6h-7.9zM636.8 222.3h7.9v4.6h-7.9z"/><path fill="#000087" d="M613.8 95.0h7.9v4.6h-7.9z"/><path fill="#0000e0" d="M652.1 99.4h7.9v4.6h-7.9z"/><path fill="#b00000" d="M667.4 296.9h7.9v4.6h-7.9zM667.4 279.4h7.9v13.4h-7.9zM667.4 248.7h7.9v4.6h-7.9zM774.7 275.0h7.9v4.6h-7.9zM774.7 261.8h7.9v4.6h-7.9zM912.6 296.9h7.9v4.6h-7.9zM912.6 283.8h7.9v4.6h-7.9zM912.6 275.0h7.9v4.6h-7.9zM912.6 248.7h7.9v4.6h-7.9zM935.5 261.8h7.9v4.6h-7.9zM1042.8 296.9h7.9v4.6h-7.9zM1042.8 270.6h7.9v4.6h-7.9zM1042.8 244.3h7.9v9.0h-7.9zM1050.4 288.2h7.9v9.0h-7.9zM1058.1 253.0h7.9v4.6h-7.9zM1058.1 222.3h7.9v4.6h-7.9zM1065.8 261.8h7.9v4.6h-7.9zM1065.8 226.7h7.9v4.6h-7.9z"/><path fill="#980000" d="M667.4 292.6h7.9v4.6h-7.9zM667.4 275.0h7.9v4.6h-7.9zM667.4 253.0h7.9v9.0h-7.9zM828.3 244.3h7.9v4.6h-7.9zM843.6 270.6h7.9v4.6h-7.9zM912.6 257.4h7.9v4.6h-7.9zM912.6 222.3h7.9v4.6h-7.9zM1042.8 288.2h7.9v4.6h-7.9zM1042.8 257.4h7.9v4.6h-7.9zM1058.1 296.9h7.9v4.6h-7.9zM1058.1 270.6h7.9v4.6h-7.9zM1058.1 257.4h7.9v4.6h-7.9zM1058.1 239.9h7.9v4.6h-7.9zM1065.8 231.1h7.9v4.6h-7.9z"/><rect x="233.9" y="103.1" width="66.3" height="53.2" fill="#fff" fill-opacity="0.8"/><text x="241.0" y="141.1" font-size="45.5" text-anchor="start" fill="#000" >(a)</text><line x1="645.6" y1="95.0" x2="645.6" y2="362.8" stroke="#0000ff" stroke-opacity="0.5" stroke-width="2.7" stroke-dasharray="10.4,4.8"/><path d="M214.3,359.06h5.5M1078.4,359.06h-5.5 M214.3,350.47h5.5M1078.4,350.47h-5.5 M214.3,343.21h5.5M1078.4,343.21h-5.5 M214.3,336.91h5.5M1078.4,336.91h-5.5 M214.3,331.36h5.5M1078.4,331.36h-5.5 M214.3,326.40h11M1078.4,326.40h-11 M214.3,293.74h5.5M1078.4,293.74h-5.5 M214.3,274.63h5.5M1078.4,274.63h-5.5 M214.3,261.08h5.5M1078.4,261.08h-5.5 M214.3,250.56h5.5M1078.4,250.56h-5.5 M214.3,241.97h5.5M1078.4,241.97h-5.5 M214.3,234.71h5.5M1078.4,234.71h-5.5 M214.3,228.41h5.5M1078.4,228.41h-5.5 M214.3,222.86h5.5M1078.4,222.86h-5.5 M214.3,217.90h11M1078.4,217.90h-11 M214.3,185.24h5.5M1078.4,185.24h-5.5 M214.3,166.13h5.5M1078.4,166.13h-5.5 M214.3,152.58h5.5M1078.4,152.58h-5.5 M214.3,142.06h5.5M1078.4,142.06h-5.5 M214.3,133.47h5.5M1078.4,133.47h-5.5 M214.3,126.21h5.5M1078.4,126.21h-5.5 M214.3,119.91h5.5M1078.4,119.91h-5.5 M214.3,114.36h5.5M1078.4,114.36h-5.5 M214.3,109.40h11M1078.4,109.40h-11" stroke="#000" stroke-width="2" fill="none"/><path d="M235.90,362.80v-5.2 M235.90,95.00v5.2 M257.50,362.80v-5.2 M257.50,95.00v5.2 M279.11,362.80v-5.2 M279.11,95.00v5.2 M300.71,362.80v-5.2 M300.71,95.00v5.2 M322.31,362.80v-5.2 M322.31,95.00v5.2 M343.92,362.80v-5.2 M343.92,95.00v5.2 M365.52,362.80v-5.2 M365.52,95.00v5.2 M387.12,362.80v-10.5 M387.12,95.00v10.5 M408.72,362.80v-5.2 M408.72,95.00v5.2 M430.33,362.80v-5.2 M430.33,95.00v5.2 M451.93,362.80v-5.2 M451.93,95.00v5.2 M473.53,362.80v-5.2 M473.53,95.00v5.2 M495.13,362.80v-5.2 M495.13,95.00v5.2 M516.74,362.80v-5.2 M516.74,95.00v5.2 M538.34,362.80v-5.2 M538.34,95.00v5.2 M559.94,362.80v-10.5 M559.94,95.00v10.5 M581.54,362.80v-5.2 M581.54,95.00v5.2 M603.15,362.80v-5.2 M603.15,95.00v5.2 M624.75,362.80v-5.2 M624.75,95.00v5.2 M646.35,362.80v-5.2 M646.35,95.00v5.2 M667.95,362.80v-5.2 M667.95,95.00v5.2 M689.56,362.80v-5.2 M689.56,95.00v5.2 M711.16,362.80v-5.2 M711.16,95.00v5.2 M732.76,362.80v-10.5 M732.76,95.00v10.5 M754.36,362.80v-5.2 M754.36,95.00v5.2 M775.97,362.80v-5.2 M775.97,95.00v5.2 M797.57,362.80v-5.2 M797.57,95.00v5.2 M819.17,362.80v-5.2 M819.17,95.00v5.2 M840.77,362.80v-5.2 M840.77,95.00v5.2 M862.38,362.80v-5.2 M862.38,95.00v5.2 M883.98,362.80v-5.2 M883.98,95.00v5.2 M905.58,362.80v-10.5 M905.58,95.00v10.5 M927.18,362.80v-5.2 M927.18,95.00v5.2 M948.79,362.80v-5.2 M948.79,95.00v5.2 M970.39,362.80v-5.2 M970.39,95.00v5.2 M991.99,362.80v-5.2 M991.99,95.00v5.2 M1013.59,362.80v-5.2 M1013.59,95.00v5.2 M1035.20,362.80v-5.2 M1035.20,95.00v5.2 M1056.80,362.80v-5.2 M1056.80,95.00v5.2" stroke="#000" stroke-width="2" fill="none"/><rect x="214.3" y="95.0" width="864.10" height="267.80" fill="none" stroke="#000" stroke-width="2.2"/><text x="197.0" y="123.0" font-size="37" text-anchor="end" fill="#000" >10</text><text x="193.5" y="231.0" font-size="37" text-anchor="end" fill="#000" >1</text><text x="193.0" y="339.0" font-size="37" text-anchor="end" fill="#000" >0.1</text><text transform="translate(75.3,229.5) rotate(-90)" font-size="37" text-anchor="middle" textLength="197" lengthAdjust="spacingAndGlyphs">Energy (keV)</text><rect x="1107.5" y="100" width="29" height="255" fill="url(#jet)" stroke="#000" stroke-width="2"/><path d="M1137,164h-11M1137,227.7h-11M1137,290.7h-11" stroke="#000" stroke-width="2"/><text x="1145.0" y="183.0" font-size="37" text-anchor="start" fill="#000" >10</text><text x="1186.0" y="161.0" font-size="26" text-anchor="start" fill="#000" >8</text><text x="1145.0" y="246.7" font-size="37" text-anchor="start" fill="#000" >10</text><text x="1186.0" y="224.7" font-size="26" text-anchor="start" fill="#000" >7</text><text x="1145.0" y="309.7" font-size="37" text-anchor="start" fill="#000" >10</text><text x="1186.0" y="287.7" font-size="26" text-anchor="start" fill="#000" >6</text><text transform="translate(1242.0,227.6) rotate(-90)" font-size="37" text-anchor="middle" >Differential</text><text transform="translate(1282.0,226.0) rotate(-90)" font-size="37" text-anchor="middle" textLength="211" lengthAdjust="spacingAndGlyphs">Number Flux</text><text transform="translate(1342.0,395.5) rotate(-90)" font-size="37" text-anchor="start" >(cm</text><text transform="translate(1316.6,333.5) rotate(-90)" font-size="26" text-anchor="start" >2</text><text transform="translate(1342.0,313.0) rotate(-90)" font-size="37" text-anchor="start" textLength="218" lengthAdjust="spacingAndGlyphs">· s · sr · keV/e)</text><text transform="translate(1315.0,92.0) rotate(-90)" font-size="26" text-anchor="start" >−1</text><rect x="408.3" y="370.4" width="236.99999999999994" height="267.6" fill="#e3e3e3"/><defs><pattern id="gg" patternUnits="userSpaceOnUse" x="215.50" y="638.00" width="7.66" height="14.867"><rect width="7.66" height="14.867" fill="#808080"/><path d="M0,0V14.867M0,0H7.66" stroke="#737373" stroke-width="1"/></pattern><pattern id="gs" patternUnits="userSpaceOnUse" x="215.50" y="638.00" width="7.66" height="14.867"><rect width="7.66" height="14.867" fill="#727272"/><path d="M0,0V14.867M0,0H7.66" stroke="#666666" stroke-width="1"/></pattern></defs><path fill="url(#gg)" d="M215.5 563.7h7.9v74.5h-7.9zM223.2 563.7h7.9v74.5h-7.9zM230.8 563.7h7.9v74.5h-7.9zM238.5 563.7h7.9v74.5h-7.9zM246.1 563.7h7.9v74.5h-7.9zM253.8 563.7h7.9v74.5h-7.9zM261.5 563.7h7.9v74.5h-7.9zM269.1 563.7h7.9v74.5h-7.9zM276.8 563.7h7.9v74.5h-7.9zM284.4 563.7h7.9v74.5h-7.9zM292.1 563.7h7.9v74.5h-7.9zM299.8 563.7h7.9v74.5h-7.9zM307.4 563.7h7.9v74.5h-7.9zM315.1 563.7h7.9v74.5h-7.9zM322.7 563.7h7.9v74.5h-7.9zM330.4 563.7h7.9v74.5h-7.9zM338.1 563.7h7.9v74.5h-7.9zM345.7 563.7h7.9v74.5h-7.9zM353.4 563.7h7.9v74.5h-7.9zM361.0 563.7h7.9v74.5h-7.9zM368.7 563.7h7.9v74.5h-7.9zM376.4 563.7h7.9v74.5h-7.9zM384.0 563.7h7.9v74.5h-7.9zM391.7 563.7h7.9v74.5h-7.9zM399.3 563.7h7.9v74.5h-7.9zM644.5 578.5h7.9v59.7h-7.9zM644.5 370.4h7.9v15.1h-7.9zM652.1 578.5h7.9v59.7h-7.9zM652.1 370.4h7.9v15.1h-7.9zM659.8 593.4h7.9v44.8h-7.9zM659.8 370.4h7.9v29.9h-7.9zM667.4 593.4h7.9v44.8h-7.9zM667.4 370.4h7.9v44.8h-7.9zM675.1 519.1h7.9v119.1h-7.9zM682.8 504.2h7.9v134.0h-7.9zM690.4 504.2h7.9v134.0h-7.9zM698.1 504.2h7.9v134.0h-7.9zM705.7 489.3h7.9v148.9h-7.9zM705.7 370.4h7.9v15.1h-7.9zM713.4 489.3h7.9v148.9h-7.9zM721.1 489.3h7.9v148.9h-7.9zM721.1 370.4h7.9v15.1h-7.9zM728.7 489.3h7.9v148.9h-7.9zM736.4 504.2h7.9v134.0h-7.9zM744.0 504.2h7.9v134.0h-7.9zM751.7 504.2h7.9v134.0h-7.9zM759.4 489.3h7.9v148.9h-7.9zM767.0 504.2h7.9v134.0h-7.9zM774.7 548.8h7.9v89.4h-7.9zM782.3 548.8h7.9v89.4h-7.9zM790.0 548.8h7.9v89.4h-7.9zM797.7 533.9h7.9v104.3h-7.9zM805.3 533.9h7.9v104.3h-7.9zM813.0 519.1h7.9v119.1h-7.9zM820.6 519.1h7.9v119.1h-7.9zM828.3 533.9h7.9v104.3h-7.9zM836.0 533.9h7.9v104.3h-7.9zM843.6 533.9h7.9v104.3h-7.9zM851.3 533.9h7.9v104.3h-7.9zM858.9 504.2h7.9v134.0h-7.9zM866.6 504.2h7.9v134.0h-7.9zM874.3 504.2h7.9v134.0h-7.9zM881.9 533.9h7.9v104.3h-7.9zM889.6 519.1h7.9v119.1h-7.9zM897.2 533.9h7.9v104.3h-7.9zM904.9 563.7h7.9v74.5h-7.9zM912.6 563.7h7.9v74.5h-7.9zM920.2 578.5h7.9v59.7h-7.9zM927.9 563.7h7.9v74.5h-7.9zM935.5 578.5h7.9v59.7h-7.9zM943.2 563.7h7.9v74.5h-7.9zM950.9 578.5h7.9v59.7h-7.9zM958.5 563.7h7.9v74.5h-7.9zM966.2 563.7h7.9v74.5h-7.9zM973.8 533.9h7.9v104.3h-7.9zM981.5 519.1h7.9v119.1h-7.9zM989.2 519.1h7.9v119.1h-7.9zM996.8 533.9h7.9v104.3h-7.9zM1004.5 533.9h7.9v104.3h-7.9zM1012.1 519.1h7.9v119.1h-7.9zM1019.8 533.9h7.9v104.3h-7.9zM1027.5 548.8h7.9v89.4h-7.9zM1035.1 519.1h7.9v119.1h-7.9zM1042.8 563.7h7.9v74.5h-7.9zM1050.4 608.3h7.9v29.9h-7.9zM1058.1 593.4h7.9v44.8h-7.9zM1065.8 548.8h7.9v89.4h-7.9z"/><path fill="#ff8300" d="M215.5 548.8h7.9v15.1h-7.9zM223.2 548.8h7.9v15.1h-7.9zM269.1 415.0h7.9v15.1h-7.9zM284.4 459.6h7.9v29.9h-7.9zM292.1 548.8h7.9v15.1h-7.9zM805.3 474.5h7.9v15.1h-7.9zM836.0 474.5h7.9v15.1h-7.9zM889.6 415.0h7.9v15.1h-7.9zM904.9 474.5h7.9v15.1h-7.9zM912.6 533.9h7.9v15.1h-7.9zM912.6 474.5h7.9v15.1h-7.9zM973.8 474.5h7.9v15.1h-7.9zM989.2 459.6h7.9v15.1h-7.9zM989.2 429.9h7.9v15.1h-7.9zM1012.1 429.9h7.9v15.1h-7.9zM1027.5 504.2h7.9v15.1h-7.9zM1027.5 459.6h7.9v15.1h-7.9zM1042.8 489.3h7.9v15.1h-7.9zM1058.1 489.3h7.9v15.1h-7.9z"/><path fill="#e2ff15" d="M215.5 533.9h7.9v15.1h-7.9zM223.2 504.2h7.9v44.8h-7.9zM223.2 459.6h7.9v15.1h-7.9zM230.8 400.1h7.9v15.1h-7.9zM238.5 400.1h7.9v15.1h-7.9zM246.1 415.0h7.9v15.1h-7.9zM253.8 415.0h7.9v15.1h-7.9zM292.1 415.0h7.9v15.1h-7.9zM299.8 533.9h7.9v15.1h-7.9zM682.8 459.6h7.9v15.1h-7.9zM705.7 459.6h7.9v15.1h-7.9zM713.4 474.5h7.9v15.1h-7.9zM713.4 385.3h7.9v15.1h-7.9zM721.1 429.9h7.9v29.9h-7.9zM728.7 459.6h7.9v15.1h-7.9zM728.7 415.0h7.9v15.1h-7.9zM736.4 415.0h7.9v29.9h-7.9zM744.0 415.0h7.9v44.8h-7.9zM751.7 474.5h7.9v15.1h-7.9zM759.4 444.7h7.9v29.9h-7.9zM774.7 400.1h7.9v15.1h-7.9zM782.3 415.0h7.9v15.1h-7.9zM813.0 415.0h7.9v15.1h-7.9zM820.6 415.0h7.9v15.1h-7.9zM828.3 429.9h7.9v15.1h-7.9zM851.3 444.7h7.9v15.1h-7.9zM858.9 415.0h7.9v29.9h-7.9zM858.9 370.4h7.9v29.9h-7.9zM973.8 459.6h7.9v15.1h-7.9zM996.8 400.1h7.9v15.1h-7.9z"/><path fill="#9eff59" d="M215.5 504.2h7.9v15.1h-7.9zM215.5 415.0h7.9v15.1h-7.9zM253.8 474.5h7.9v15.1h-7.9zM253.8 429.9h7.9v15.1h-7.9zM299.8 504.2h7.9v15.1h-7.9zM728.7 400.1h7.9v15.1h-7.9z"/><path fill="#c0ff37" d="M215.5 489.3h7.9v15.1h-7.9zM644.5 459.6h7.9v15.1h-7.9zM652.1 474.5h7.9v15.1h-7.9zM675.1 400.1h7.9v15.1h-7.9zM682.8 474.5h7.9v15.1h-7.9zM705.7 474.5h7.9v15.1h-7.9zM705.7 429.9h7.9v15.1h-7.9zM736.4 444.7h7.9v15.1h-7.9zM744.0 474.5h7.9v15.1h-7.9zM751.7 444.7h7.9v29.9h-7.9zM927.9 504.2h7.9v15.1h-7.9zM935.5 519.1h7.9v15.1h-7.9zM950.9 533.9h7.9v15.1h-7.9z"/><path fill="#6aff8d" d="M215.5 474.5h7.9v15.1h-7.9zM307.4 504.2h7.9v15.1h-7.9zM307.4 459.6h7.9v15.1h-7.9zM330.4 444.7h7.9v15.1h-7.9zM345.7 504.2h7.9v15.1h-7.9zM1065.8 504.2h7.9v15.1h-7.9z"/><path fill="#7bff7b" d="M215.5 459.6h7.9v15.1h-7.9zM230.8 415.0h7.9v15.1h-7.9zM230.8 385.3h7.9v15.1h-7.9zM253.8 400.1h7.9v15.1h-7.9zM261.5 385.3h7.9v15.1h-7.9zM292.1 400.1h7.9v15.1h-7.9zM299.8 459.6h7.9v15.1h-7.9zM299.8 415.0h7.9v15.1h-7.9zM315.1 429.9h7.9v15.1h-7.9zM644.5 415.0h7.9v15.1h-7.9zM652.1 415.0h7.9v15.1h-7.9zM682.8 385.3h7.9v15.1h-7.9zM690.4 385.3h7.9v15.1h-7.9zM698.1 400.1h7.9v59.7h-7.9zM705.7 400.1h7.9v29.9h-7.9zM728.7 385.3h7.9v15.1h-7.9zM767.0 385.3h7.9v15.1h-7.9zM805.3 415.0h7.9v15.1h-7.9zM813.0 400.1h7.9v15.1h-7.9zM889.6 489.3h7.9v29.9h-7.9z"/><path fill="#afff48" d="M215.5 429.9h7.9v29.9h-7.9zM215.5 370.4h7.9v15.1h-7.9zM223.2 489.3h7.9v15.1h-7.9zM223.2 400.1h7.9v15.1h-7.9zM246.1 444.7h7.9v15.1h-7.9zM253.8 444.7h7.9v15.1h-7.9zM261.5 370.4h7.9v15.1h-7.9zM299.8 474.5h7.9v29.9h-7.9zM299.8 429.9h7.9v15.1h-7.9zM315.1 474.5h7.9v15.1h-7.9zM682.8 429.9h7.9v15.1h-7.9zM690.4 459.6h7.9v15.1h-7.9zM690.4 415.0h7.9v15.1h-7.9zM698.1 474.5h7.9v15.1h-7.9zM705.7 444.7h7.9v15.1h-7.9zM736.4 474.5h7.9v15.1h-7.9zM751.7 429.9h7.9v15.1h-7.9zM774.7 415.0h7.9v15.1h-7.9zM774.7 370.4h7.9v29.9h-7.9zM782.3 474.5h7.9v15.1h-7.9zM797.7 415.0h7.9v15.1h-7.9zM805.3 429.9h7.9v15.1h-7.9zM805.3 385.3h7.9v29.9h-7.9zM813.0 385.3h7.9v15.1h-7.9zM820.6 385.3h7.9v15.1h-7.9zM828.3 415.0h7.9v15.1h-7.9zM851.3 415.0h7.9v29.9h-7.9zM981.5 504.2h7.9v15.1h-7.9z"/><path fill="#48ffaf" d="M215.5 400.1h7.9v15.1h-7.9zM223.2 415.0h7.9v15.1h-7.9zM307.4 415.0h7.9v15.1h-7.9zM315.1 504.2h7.9v15.1h-7.9zM399.3 519.1h7.9v15.1h-7.9zM744.0 385.3h7.9v15.1h-7.9zM759.4 429.9h7.9v15.1h-7.9z"/><path fill="#ffe600" d="M223.2 474.5h7.9v15.1h-7.9zM292.1 444.7h7.9v15.1h-7.9zM713.4 415.0h7.9v15.1h-7.9zM813.0 444.7h7.9v15.1h-7.9zM866.6 429.9h7.9v15.1h-7.9zM874.3 385.3h7.9v15.1h-7.9zM881.9 459.6h7.9v15.1h-7.9zM897.2 504.2h7.9v15.1h-7.9zM920.2 533.9h7.9v15.1h-7.9zM958.5 519.1h7.9v15.1h-7.9zM981.5 474.5h7.9v15.1h-7.9zM1035.1 400.1h7.9v15.1h-7.9zM1042.8 504.2h7.9v15.1h-7.9zM1065.8 489.3h7.9v15.1h-7.9z"/><path fill="#59ff9e" d="M223.2 444.7h7.9v15.1h-7.9zM246.1 385.3h7.9v15.1h-7.9zM682.8 444.7h7.9v15.1h-7.9zM682.8 400.1h7.9v29.9h-7.9zM690.4 444.7h7.9v15.1h-7.9z"/><path fill="#8dff6a" d="M223.2 429.9h7.9v15.1h-7.9zM223.2 385.3h7.9v15.1h-7.9zM299.8 519.1h7.9v15.1h-7.9zM299.8 444.7h7.9v15.1h-7.9zM659.8 415.0h7.9v15.1h-7.9zM698.1 459.6h7.9v15.1h-7.9zM728.7 429.9h7.9v29.9h-7.9zM736.4 400.1h7.9v15.1h-7.9zM759.4 400.1h7.9v15.1h-7.9zM851.3 400.1h7.9v15.1h-7.9zM935.5 548.8h7.9v15.1h-7.9z"/><path fill="#ff7000" d="M230.8 519.1h7.9v44.8h-7.9zM230.8 459.6h7.9v44.8h-7.9zM238.5 519.1h7.9v29.9h-7.9zM238.5 459.6h7.9v15.1h-7.9zM261.5 533.9h7.9v15.1h-7.9zM261.5 504.2h7.9v15.1h-7.9zM261.5 429.9h7.9v15.1h-7.9zM269.1 429.9h7.9v29.9h-7.9zM284.4 415.0h7.9v15.1h-7.9zM659.8 489.3h7.9v15.1h-7.9zM667.4 459.6h7.9v29.9h-7.9zM774.7 459.6h7.9v15.1h-7.9zM836.0 459.6h7.9v15.1h-7.9zM843.6 444.7h7.9v15.1h-7.9zM843.6 385.3h7.9v15.1h-7.9zM881.9 370.4h7.9v15.1h-7.9zM889.6 370.4h7.9v15.1h-7.9zM904.9 415.0h7.9v15.1h-7.9zM912.6 489.3h7.9v44.8h-7.9zM920.2 429.9h7.9v15.1h-7.9zM935.5 474.5h7.9v15.1h-7.9zM943.2 459.6h7.9v15.1h-7.9zM950.9 459.6h7.9v15.1h-7.9zM958.5 533.9h7.9v15.1h-7.9zM958.5 489.3h7.9v15.1h-7.9zM973.8 370.4h7.9v15.1h-7.9zM996.8 459.6h7.9v15.1h-7.9zM1012.1 415.0h7.9v15.1h-7.9zM1019.8 489.3h7.9v15.1h-7.9zM1027.5 489.3h7.9v15.1h-7.9zM1027.5 444.7h7.9v15.1h-7.9zM1035.1 444.7h7.9v15.1h-7.9zM1035.1 415.0h7.9v15.1h-7.9zM1042.8 415.0h7.9v15.1h-7.9zM1050.4 519.1h7.9v15.1h-7.9zM1058.1 519.1h7.9v15.1h-7.9z"/><path fill="#ff9700" d="M230.8 504.2h7.9v15.1h-7.9zM230.8 444.7h7.9v15.1h-7.9zM246.1 489.3h7.9v44.8h-7.9zM253.8 548.8h7.9v15.1h-7.9zM261.5 444.7h7.9v59.7h-7.9zM261.5 415.0h7.9v15.1h-7.9zM269.1 385.3h7.9v29.9h-7.9zM284.4 533.9h7.9v15.1h-7.9zM284.4 429.9h7.9v15.1h-7.9zM284.4 385.3h7.9v15.1h-7.9zM292.1 504.2h7.9v15.1h-7.9zM292.1 474.5h7.9v15.1h-7.9zM644.5 519.1h7.9v29.9h-7.9zM652.1 563.7h7.9v15.1h-7.9zM659.8 474.5h7.9v15.1h-7.9zM667.4 429.9h7.9v15.1h-7.9zM675.1 444.7h7.9v15.1h-7.9zM767.0 474.5h7.9v15.1h-7.9zM774.7 519.1h7.9v15.1h-7.9zM782.3 489.3h7.9v15.1h-7.9zM782.3 459.6h7.9v15.1h-7.9zM782.3 370.4h7.9v15.1h-7.9zM797.7 459.6h7.9v15.1h-7.9zM805.3 459.6h7.9v15.1h-7.9zM813.0 459.6h7.9v29.9h-7.9zM820.6 459.6h7.9v15.1h-7.9zM828.3 459.6h7.9v15.1h-7.9zM851.3 489.3h7.9v15.1h-7.9zM858.9 474.5h7.9v15.1h-7.9zM866.6 400.1h7.9v15.1h-7.9zM874.3 459.6h7.9v15.1h-7.9zM874.3 415.0h7.9v15.1h-7.9zM874.3 370.4h7.9v15.1h-7.9zM881.9 474.5h7.9v15.1h-7.9zM881.9 385.3h7.9v59.7h-7.9zM889.6 444.7h7.9v15.1h-7.9zM889.6 385.3h7.9v29.9h-7.9zM897.2 400.1h7.9v44.8h-7.9zM904.9 489.3h7.9v15.1h-7.9zM904.9 429.9h7.9v44.8h-7.9zM904.9 370.4h7.9v29.9h-7.9zM912.6 385.3h7.9v15.1h-7.9zM920.2 444.7h7.9v29.9h-7.9zM927.9 519.1h7.9v15.1h-7.9zM927.9 489.3h7.9v15.1h-7.9zM927.9 385.3h7.9v29.9h-7.9zM935.5 489.3h7.9v29.9h-7.9zM943.2 489.3h7.9v29.9h-7.9zM943.2 429.9h7.9v15.1h-7.9zM950.9 504.2h7.9v15.1h-7.9zM950.9 429.9h7.9v15.1h-7.9zM958.5 429.9h7.9v29.9h-7.9zM958.5 385.3h7.9v15.1h-7.9zM966.2 444.7h7.9v15.1h-7.9zM966.2 370.4h7.9v15.1h-7.9zM973.8 415.0h7.9v15.1h-7.9zM973.8 385.3h7.9v15.1h-7.9zM981.5 415.0h7.9v59.7h-7.9zM981.5 370.4h7.9v29.9h-7.9zM989.2 444.7h7.9v15.1h-7.9zM996.8 489.3h7.9v15.1h-7.9zM996.8 415.0h7.9v29.9h-7.9zM1004.5 459.6h7.9v15.1h-7.9zM1004.5 415.0h7.9v15.1h-7.9zM1012.1 489.3h7.9v15.1h-7.9zM1012.1 400.1h7.9v15.1h-7.9zM1012.1 370.4h7.9v15.1h-7.9zM1019.8 459.6h7.9v15.1h-7.9zM1027.5 519.1h7.9v15.1h-7.9zM1027.5 474.5h7.9v15.1h-7.9zM1027.5 385.3h7.9v59.7h-7.9zM1035.1 459.6h7.9v29.9h-7.9zM1042.8 519.1h7.9v15.1h-7.9zM1042.8 459.6h7.9v15.1h-7.9zM1042.8 429.9h7.9v15.1h-7.9zM1050.4 504.2h7.9v15.1h-7.9zM1050.4 474.5h7.9v15.1h-7.9zM1058.1 504.2h7.9v15.1h-7.9zM1058.1 459.6h7.9v15.1h-7.9zM1058.1 429.9h7.9v15.1h-7.9zM1065.8 429.9h7.9v29.9h-7.9z"/><path fill="#f3f903" d="M230.8 429.9h7.9v15.1h-7.9zM238.5 489.3h7.9v15.1h-7.9zM246.1 533.9h7.9v15.1h-7.9zM246.1 429.9h7.9v15.1h-7.9zM253.8 489.3h7.9v15.1h-7.9zM269.1 370.4h7.9v15.1h-7.9zM292.1 489.3h7.9v15.1h-7.9zM644.5 474.5h7.9v29.9h-7.9zM644.5 444.7h7.9v15.1h-7.9zM644.5 400.1h7.9v15.1h-7.9zM652.1 519.1h7.9v29.9h-7.9zM652.1 444.7h7.9v29.9h-7.9zM659.8 400.1h7.9v15.1h-7.9zM713.4 429.9h7.9v29.9h-7.9zM721.1 415.0h7.9v15.1h-7.9zM736.4 385.3h7.9v15.1h-7.9zM751.7 415.0h7.9v15.1h-7.9zM751.7 385.3h7.9v15.1h-7.9zM759.4 415.0h7.9v15.1h-7.9zM767.0 400.1h7.9v29.9h-7.9zM790.0 459.6h7.9v15.1h-7.9zM858.9 444.7h7.9v15.1h-7.9zM858.9 400.1h7.9v15.1h-7.9zM874.3 489.3h7.9v15.1h-7.9zM881.9 489.3h7.9v15.1h-7.9zM897.2 444.7h7.9v15.1h-7.9zM904.9 519.1h7.9v29.9h-7.9zM904.9 400.1h7.9v15.1h-7.9zM920.2 489.3h7.9v15.1h-7.9zM943.2 415.0h7.9v15.1h-7.9zM950.9 489.3h7.9v15.1h-7.9zM958.5 415.0h7.9v15.1h-7.9zM996.8 385.3h7.9v15.1h-7.9zM1012.1 444.7h7.9v15.1h-7.9zM1019.8 444.7h7.9v15.1h-7.9zM1027.5 533.9h7.9v15.1h-7.9zM1050.4 533.9h7.9v15.1h-7.9zM1050.4 489.3h7.9v15.1h-7.9zM1065.8 533.9h7.9v15.1h-7.9zM1065.8 474.5h7.9v15.1h-7.9z"/><path fill="#ff4800" d="M238.5 504.2h7.9v15.1h-7.9zM276.8 533.9h7.9v15.1h-7.9zM276.8 474.5h7.9v15.1h-7.9zM805.3 489.3h7.9v15.1h-7.9zM813.0 489.3h7.9v29.9h-7.9zM836.0 489.3h7.9v15.1h-7.9zM943.2 533.9h7.9v15.1h-7.9zM966.2 489.3h7.9v15.1h-7.9zM966.2 429.9h7.9v15.1h-7.9zM1004.5 504.2h7.9v15.1h-7.9zM1004.5 385.3h7.9v15.1h-7.9zM1027.5 370.4h7.9v15.1h-7.9zM1058.1 400.1h7.9v15.1h-7.9zM1065.8 415.0h7.9v15.1h-7.9zM1065.8 385.3h7.9v15.1h-7.9z"/><path fill="#ff5c00" d="M238.5 474.5h7.9v15.1h-7.9zM261.5 548.8h7.9v15.1h-7.9zM269.1 533.9h7.9v15.1h-7.9zM276.8 459.6h7.9v15.1h-7.9zM659.8 504.2h7.9v15.1h-7.9zM667.4 489.3h7.9v15.1h-7.9zM797.7 474.5h7.9v15.1h-7.9zM904.9 548.8h7.9v15.1h-7.9zM912.6 459.6h7.9v15.1h-7.9zM935.5 459.6h7.9v15.1h-7.9zM935.5 370.4h7.9v15.1h-7.9zM943.2 444.7h7.9v15.1h-7.9zM958.5 504.2h7.9v15.1h-7.9zM958.5 459.6h7.9v29.9h-7.9zM973.8 444.7h7.9v15.1h-7.9zM996.8 474.5h7.9v15.1h-7.9zM1012.1 474.5h7.9v15.1h-7.9zM1035.1 489.3h7.9v15.1h-7.9zM1042.8 474.5h7.9v15.1h-7.9zM1042.8 444.7h7.9v15.1h-7.9zM1065.8 370.4h7.9v15.1h-7.9z"/><path fill="#ffbe00" d="M238.5 429.9h7.9v15.1h-7.9zM246.1 459.6h7.9v29.9h-7.9zM253.8 504.2h7.9v44.8h-7.9zM253.8 459.6h7.9v15.1h-7.9zM261.5 519.1h7.9v15.1h-7.9zM261.5 400.1h7.9v15.1h-7.9zM276.8 504.2h7.9v15.1h-7.9zM276.8 400.1h7.9v29.9h-7.9zM284.4 444.7h7.9v15.1h-7.9zM284.4 400.1h7.9v15.1h-7.9zM292.1 519.1h7.9v29.9h-7.9zM292.1 429.9h7.9v15.1h-7.9zM659.8 429.9h7.9v44.8h-7.9zM675.1 459.6h7.9v15.1h-7.9zM744.0 459.6h7.9v15.1h-7.9zM782.3 444.7h7.9v15.1h-7.9zM790.0 489.3h7.9v15.1h-7.9zM790.0 444.7h7.9v15.1h-7.9zM797.7 444.7h7.9v15.1h-7.9zM797.7 400.1h7.9v15.1h-7.9zM805.3 444.7h7.9v15.1h-7.9zM820.6 444.7h7.9v15.1h-7.9zM820.6 370.4h7.9v15.1h-7.9zM836.0 444.7h7.9v15.1h-7.9zM843.6 400.1h7.9v15.1h-7.9zM858.9 459.6h7.9v15.1h-7.9zM866.6 444.7h7.9v44.8h-7.9zM866.6 415.0h7.9v15.1h-7.9zM866.6 385.3h7.9v15.1h-7.9zM874.3 429.9h7.9v29.9h-7.9zM881.9 444.7h7.9v15.1h-7.9zM889.6 459.6h7.9v29.9h-7.9zM897.2 459.6h7.9v29.9h-7.9zM920.2 519.1h7.9v15.1h-7.9zM943.2 519.1h7.9v15.1h-7.9zM943.2 474.5h7.9v15.1h-7.9zM950.9 415.0h7.9v15.1h-7.9zM966.2 474.5h7.9v15.1h-7.9zM973.8 489.3h7.9v15.1h-7.9zM981.5 489.3h7.9v15.1h-7.9zM981.5 400.1h7.9v15.1h-7.9zM989.2 400.1h7.9v15.1h-7.9zM1012.1 385.3h7.9v15.1h-7.9zM1019.8 504.2h7.9v15.1h-7.9zM1019.8 429.9h7.9v15.1h-7.9zM1035.1 429.9h7.9v15.1h-7.9zM1035.1 385.3h7.9v15.1h-7.9zM1042.8 400.1h7.9v15.1h-7.9z"/><path fill="#26ffd1" d="M238.5 385.3h7.9v15.1h-7.9z"/><path fill="#ff2100" d="M246.1 548.8h7.9v15.1h-7.9zM269.1 504.2h7.9v15.1h-7.9zM659.8 519.1h7.9v15.1h-7.9zM667.4 504.2h7.9v15.1h-7.9zM774.7 474.5h7.9v15.1h-7.9zM790.0 474.5h7.9v15.1h-7.9zM797.7 489.3h7.9v15.1h-7.9zM820.6 489.3h7.9v15.1h-7.9zM843.6 474.5h7.9v15.1h-7.9zM851.3 504.2h7.9v15.1h-7.9zM920.2 400.1h7.9v15.1h-7.9zM935.5 385.3h7.9v59.7h-7.9zM943.2 385.3h7.9v15.1h-7.9zM950.9 444.7h7.9v15.1h-7.9zM950.9 385.3h7.9v15.1h-7.9zM1019.8 370.4h7.9v15.1h-7.9zM1065.8 400.1h7.9v15.1h-7.9z"/><path fill="#d1ff26" d="M246.1 400.1h7.9v15.1h-7.9zM292.1 385.3h7.9v15.1h-7.9zM897.2 519.1h7.9v15.1h-7.9zM897.2 489.3h7.9v15.1h-7.9zM927.9 474.5h7.9v15.1h-7.9zM966.2 400.1h7.9v15.1h-7.9zM973.8 400.1h7.9v15.1h-7.9zM989.2 415.0h7.9v15.1h-7.9zM996.8 444.7h7.9v15.1h-7.9zM1004.5 429.9h7.9v15.1h-7.9zM1004.5 400.1h7.9v15.1h-7.9z"/><path fill="#ff3500" d="M269.1 519.1h7.9v15.1h-7.9zM276.8 519.1h7.9v15.1h-7.9zM276.8 489.3h7.9v15.1h-7.9zM284.4 519.1h7.9v15.1h-7.9zM843.6 429.9h7.9v15.1h-7.9zM927.9 548.8h7.9v15.1h-7.9zM935.5 444.7h7.9v15.1h-7.9zM943.2 400.1h7.9v15.1h-7.9zM1004.5 444.7h7.9v15.1h-7.9zM1019.8 474.5h7.9v15.1h-7.9zM1019.8 400.1h7.9v29.9h-7.9z"/><path fill="#f80d00" d="M269.1 459.6h7.9v44.8h-7.9zM284.4 489.3h7.9v29.9h-7.9zM659.8 563.7h7.9v15.1h-7.9zM659.8 533.9h7.9v15.1h-7.9zM820.6 504.2h7.9v15.1h-7.9zM820.6 474.5h7.9v15.1h-7.9zM828.3 444.7h7.9v15.1h-7.9zM912.6 429.9h7.9v15.1h-7.9zM920.2 415.0h7.9v15.1h-7.9zM943.2 370.4h7.9v15.1h-7.9zM950.9 474.5h7.9v15.1h-7.9zM950.9 400.1h7.9v15.1h-7.9zM958.5 400.1h7.9v15.1h-7.9zM966.2 415.0h7.9v15.1h-7.9zM989.2 385.3h7.9v15.1h-7.9zM1042.8 385.3h7.9v15.1h-7.9zM1050.4 415.0h7.9v29.9h-7.9zM1058.1 474.5h7.9v15.1h-7.9zM1058.1 415.0h7.9v15.1h-7.9z"/><path fill="#ffab00" d="M292.1 459.6h7.9v15.1h-7.9zM713.4 370.4h7.9v15.1h-7.9zM736.4 459.6h7.9v15.1h-7.9zM774.7 444.7h7.9v15.1h-7.9zM820.6 429.9h7.9v15.1h-7.9zM820.6 400.1h7.9v15.1h-7.9zM836.0 415.0h7.9v29.9h-7.9zM843.6 459.6h7.9v15.1h-7.9zM874.3 474.5h7.9v15.1h-7.9zM874.3 400.1h7.9v15.1h-7.9zM889.6 429.9h7.9v15.1h-7.9zM897.2 385.3h7.9v15.1h-7.9zM904.9 504.2h7.9v15.1h-7.9z"/><path fill="#37ffc0" d="M299.8 400.1h7.9v15.1h-7.9zM652.1 429.9h7.9v15.1h-7.9zM744.0 400.1h7.9v15.1h-7.9zM751.7 400.1h7.9v15.1h-7.9z"/><path fill="url(#gs)" d="M407.0 563.7h7.9v74.5h-7.9zM414.7 563.7h7.9v74.5h-7.9zM422.3 563.7h7.9v74.5h-7.9zM430.0 548.8h7.9v89.4h-7.9zM437.6 548.8h7.9v89.4h-7.9zM445.3 548.8h7.9v89.4h-7.9zM453.0 548.8h7.9v89.4h-7.9zM460.6 548.8h7.9v89.4h-7.9zM468.3 548.8h7.9v89.4h-7.9zM475.9 548.8h7.9v89.4h-7.9zM483.6 548.8h7.9v89.4h-7.9zM491.3 548.8h7.9v89.4h-7.9zM491.3 370.4h7.9v15.1h-7.9zM498.9 548.8h7.9v89.4h-7.9zM498.9 370.4h7.9v15.1h-7.9zM506.6 548.8h7.9v89.4h-7.9zM506.6 370.4h7.9v15.1h-7.9zM514.2 563.7h7.9v74.5h-7.9zM514.2 370.4h7.9v15.1h-7.9zM521.9 563.7h7.9v74.5h-7.9zM521.9 370.4h7.9v15.1h-7.9zM529.6 563.7h7.9v74.5h-7.9zM529.6 370.4h7.9v15.1h-7.9zM537.2 563.7h7.9v74.5h-7.9zM537.2 370.4h7.9v15.1h-7.9zM544.9 563.7h7.9v74.5h-7.9zM544.9 370.4h7.9v15.1h-7.9zM552.5 563.7h7.9v74.5h-7.9zM552.5 370.4h7.9v15.1h-7.9zM560.2 578.5h7.9v59.7h-7.9zM560.2 370.4h7.9v15.1h-7.9zM567.9 578.5h7.9v59.7h-7.9zM567.9 370.4h7.9v15.1h-7.9zM575.5 578.5h7.9v59.7h-7.9zM575.5 370.4h7.9v15.1h-7.9zM583.2 578.5h7.9v59.7h-7.9zM583.2 370.4h7.9v15.1h-7.9zM590.8 578.5h7.9v59.7h-7.9zM590.8 370.4h7.9v15.1h-7.9zM598.5 578.5h7.9v59.7h-7.9zM598.5 370.4h7.9v15.1h-7.9zM606.2 578.5h7.9v59.7h-7.9zM606.2 370.4h7.9v15.1h-7.9zM613.8 578.5h7.9v59.7h-7.9zM613.8 370.4h7.9v15.1h-7.9zM621.5 578.5h7.9v59.7h-7.9zM621.5 370.4h7.9v15.1h-7.9zM629.1 578.5h7.9v59.7h-7.9zM629.1 370.4h7.9v15.1h-7.9zM636.8 578.5h7.9v59.7h-7.9zM636.8 370.4h7.9v15.1h-7.9z"/><path fill="#9ce340" d="M407.0 519.1h7.9v15.1h-7.9zM422.3 504.2h7.9v15.1h-7.9zM437.6 519.1h7.9v15.1h-7.9zM445.3 444.7h7.9v15.1h-7.9zM453.0 429.9h7.9v15.1h-7.9zM460.6 489.3h7.9v15.1h-7.9zM460.6 429.9h7.9v15.1h-7.9zM483.6 519.1h7.9v15.1h-7.9zM491.3 519.1h7.9v15.1h-7.9zM498.9 474.5h7.9v15.1h-7.9zM506.6 519.1h7.9v15.1h-7.9zM514.2 489.3h7.9v15.1h-7.9zM529.6 489.3h7.9v15.1h-7.9zM529.6 444.7h7.9v15.1h-7.9zM537.2 474.5h7.9v44.8h-7.9zM544.9 504.2h7.9v15.1h-7.9zM560.2 474.5h7.9v15.1h-7.9zM567.9 519.1h7.9v15.1h-7.9zM567.9 474.5h7.9v15.1h-7.9zM575.5 504.2h7.9v44.8h-7.9zM575.5 474.5h7.9v15.1h-7.9zM583.2 444.7h7.9v15.1h-7.9zM621.5 504.2h7.9v15.1h-7.9zM629.1 429.9h7.9v15.1h-7.9zM636.8 429.9h7.9v15.1h-7.9z"/><path fill="#abe331" d="M407.0 504.2h7.9v15.1h-7.9zM414.7 489.3h7.9v15.1h-7.9zM430.0 429.9h7.9v15.1h-7.9zM475.9 504.2h7.9v15.1h-7.9zM498.9 504.2h7.9v15.1h-7.9zM506.6 444.7h7.9v15.1h-7.9zM583.2 400.1h7.9v15.1h-7.9zM590.8 489.3h7.9v15.1h-7.9zM598.5 519.1h7.9v15.1h-7.9zM606.2 474.5h7.9v44.8h-7.9zM613.8 474.5h7.9v15.1h-7.9zM621.5 429.9h7.9v15.1h-7.9z"/><path fill="#6ee36e" d="M407.0 489.3h7.9v15.1h-7.9zM407.0 385.3h7.9v15.1h-7.9zM414.7 504.2h7.9v15.1h-7.9zM414.7 474.5h7.9v15.1h-7.9zM414.7 444.7h7.9v15.1h-7.9zM422.3 444.7h7.9v15.1h-7.9zM422.3 385.3h7.9v15.1h-7.9zM430.0 489.3h7.9v15.1h-7.9zM430.0 444.7h7.9v15.1h-7.9zM437.6 400.1h7.9v29.9h-7.9zM445.3 504.2h7.9v15.1h-7.9zM445.3 415.0h7.9v29.9h-7.9zM453.0 385.3h7.9v15.1h-7.9zM460.6 504.2h7.9v15.1h-7.9zM460.6 415.0h7.9v15.1h-7.9zM475.9 400.1h7.9v15.1h-7.9zM483.6 489.3h7.9v15.1h-7.9zM483.6 459.6h7.9v15.1h-7.9zM483.6 385.3h7.9v15.1h-7.9zM491.3 474.5h7.9v15.1h-7.9zM491.3 429.9h7.9v29.9h-7.9zM498.9 519.1h7.9v15.1h-7.9zM506.6 400.1h7.9v29.9h-7.9zM514.2 444.7h7.9v15.1h-7.9zM514.2 415.0h7.9v15.1h-7.9zM529.6 519.1h7.9v29.9h-7.9zM529.6 400.1h7.9v29.9h-7.9zM544.9 489.3h7.9v15.1h-7.9zM544.9 459.6h7.9v15.1h-7.9zM552.5 504.2h7.9v29.9h-7.9zM552.5 415.0h7.9v15.1h-7.9zM560.2 415.0h7.9v15.1h-7.9zM567.9 429.9h7.9v15.1h-7.9zM575.5 489.3h7.9v15.1h-7.9zM598.5 459.6h7.9v15.1h-7.9zM613.8 415.0h7.9v15.1h-7.9zM636.8 415.0h7.9v15.1h-7.9z"/><path fill="#40e39c" d="M407.0 459.6h7.9v15.1h-7.9zM422.3 429.9h7.9v15.1h-7.9zM437.6 429.9h7.9v15.1h-7.9zM468.3 415.0h7.9v15.1h-7.9zM475.9 415.0h7.9v15.1h-7.9zM498.9 444.7h7.9v15.1h-7.9zM560.2 459.6h7.9v15.1h-7.9zM590.8 415.0h7.9v15.1h-7.9z"/><path fill="#12e3c9" d="M407.0 429.9h7.9v15.1h-7.9zM453.0 415.0h7.9v15.1h-7.9zM483.6 429.9h7.9v15.1h-7.9z"/><path fill="#22e3ba" d="M414.7 459.6h7.9v15.1h-7.9zM552.5 444.7h7.9v15.1h-7.9z"/><path fill="#31e3ab" d="M414.7 429.9h7.9v15.1h-7.9zM537.2 429.9h7.9v15.1h-7.9z"/><path fill="#c9e312" d="M422.3 519.1h7.9v15.1h-7.9zM430.0 519.1h7.9v15.1h-7.9zM437.6 533.9h7.9v15.1h-7.9zM468.3 474.5h7.9v44.8h-7.9zM475.9 519.1h7.9v15.1h-7.9zM498.9 489.3h7.9v15.1h-7.9zM521.9 519.1h7.9v15.1h-7.9zM529.6 504.2h7.9v15.1h-7.9zM529.6 459.6h7.9v15.1h-7.9zM544.9 519.1h7.9v15.1h-7.9zM544.9 474.5h7.9v15.1h-7.9zM567.9 489.3h7.9v15.1h-7.9zM583.2 459.6h7.9v15.1h-7.9zM590.8 474.5h7.9v15.1h-7.9zM590.8 429.9h7.9v15.1h-7.9zM598.5 489.3h7.9v15.1h-7.9zM598.5 400.1h7.9v15.1h-7.9zM606.2 519.1h7.9v15.1h-7.9zM613.8 489.3h7.9v15.1h-7.9zM613.8 459.6h7.9v15.1h-7.9zM613.8 429.9h7.9v15.1h-7.9zM621.5 459.6h7.9v15.1h-7.9zM629.1 444.7h7.9v29.9h-7.9zM636.8 444.7h7.9v15.1h-7.9z"/><path fill="#d9de03" d="M422.3 489.3h7.9v15.1h-7.9zM437.6 474.5h7.9v15.1h-7.9zM445.3 533.9h7.9v15.1h-7.9zM491.3 459.6h7.9v15.1h-7.9zM506.6 504.2h7.9v15.1h-7.9zM521.9 504.2h7.9v15.1h-7.9zM521.9 385.3h7.9v15.1h-7.9zM529.6 474.5h7.9v15.1h-7.9zM567.9 385.3h7.9v15.1h-7.9zM590.8 504.2h7.9v15.1h-7.9zM598.5 504.2h7.9v15.1h-7.9zM613.8 519.1h7.9v29.9h-7.9zM629.1 533.9h7.9v29.9h-7.9z"/><path fill="#bae322" d="M422.3 474.5h7.9v15.1h-7.9zM430.0 474.5h7.9v15.1h-7.9zM437.6 504.2h7.9v15.1h-7.9zM445.3 474.5h7.9v15.1h-7.9zM453.0 519.1h7.9v15.1h-7.9zM453.0 459.6h7.9v15.1h-7.9zM460.6 459.6h7.9v15.1h-7.9zM468.3 519.1h7.9v15.1h-7.9zM475.9 444.7h7.9v29.9h-7.9zM491.3 489.3h7.9v15.1h-7.9zM506.6 459.6h7.9v29.9h-7.9zM514.2 519.1h7.9v29.9h-7.9zM514.2 459.6h7.9v15.1h-7.9zM567.9 504.2h7.9v15.1h-7.9zM583.2 519.1h7.9v15.1h-7.9zM590.8 519.1h7.9v15.1h-7.9zM590.8 444.7h7.9v15.1h-7.9zM598.5 444.7h7.9v15.1h-7.9zM598.5 415.0h7.9v15.1h-7.9z"/><path fill="#4fe38c" d="M422.3 459.6h7.9v15.1h-7.9zM453.0 444.7h7.9v15.1h-7.9zM460.6 519.1h7.9v15.1h-7.9zM468.3 429.9h7.9v15.1h-7.9zM475.9 429.9h7.9v15.1h-7.9zM483.6 444.7h7.9v15.1h-7.9zM483.6 415.0h7.9v15.1h-7.9zM498.9 415.0h7.9v15.1h-7.9zM521.9 489.3h7.9v15.1h-7.9zM521.9 429.9h7.9v15.1h-7.9zM560.2 489.3h7.9v15.1h-7.9zM567.9 415.0h7.9v15.1h-7.9zM575.5 429.9h7.9v29.9h-7.9zM583.2 533.9h7.9v15.1h-7.9zM606.2 429.9h7.9v29.9h-7.9zM613.8 444.7h7.9v15.1h-7.9z"/><path fill="#e3aa00" d="M430.0 533.9h7.9v15.1h-7.9zM437.6 489.3h7.9v15.1h-7.9zM445.3 459.6h7.9v15.1h-7.9zM491.3 533.9h7.9v15.1h-7.9zM514.2 474.5h7.9v15.1h-7.9zM521.9 533.9h7.9v15.1h-7.9zM583.2 489.3h7.9v29.9h-7.9zM590.8 459.6h7.9v15.1h-7.9zM598.5 533.9h7.9v15.1h-7.9zM598.5 474.5h7.9v15.1h-7.9zM606.2 533.9h7.9v15.1h-7.9zM621.5 444.7h7.9v15.1h-7.9zM629.1 519.1h7.9v15.1h-7.9zM629.1 415.0h7.9v15.1h-7.9z"/><path fill="#8ce34f" d="M430.0 459.6h7.9v15.1h-7.9zM437.6 444.7h7.9v29.9h-7.9zM453.0 489.3h7.9v15.1h-7.9zM468.3 459.6h7.9v15.1h-7.9zM483.6 474.5h7.9v15.1h-7.9zM498.9 459.6h7.9v15.1h-7.9zM544.9 444.7h7.9v15.1h-7.9zM621.5 533.9h7.9v15.1h-7.9z"/><path fill="#e3bb00" d="M445.3 519.1h7.9v15.1h-7.9zM514.2 504.2h7.9v15.1h-7.9zM521.9 459.6h7.9v15.1h-7.9zM560.2 504.2h7.9v29.9h-7.9zM575.5 548.8h7.9v15.1h-7.9zM590.8 548.8h7.9v15.1h-7.9zM606.2 459.6h7.9v15.1h-7.9zM613.8 504.2h7.9v15.1h-7.9zM621.5 474.5h7.9v15.1h-7.9zM629.1 474.5h7.9v44.8h-7.9zM636.8 459.6h7.9v29.9h-7.9z"/><path fill="#7de35f" d="M445.3 489.3h7.9v15.1h-7.9zM460.6 474.5h7.9v15.1h-7.9zM460.6 444.7h7.9v15.1h-7.9zM475.9 474.5h7.9v15.1h-7.9zM521.9 474.5h7.9v15.1h-7.9zM521.9 444.7h7.9v15.1h-7.9zM521.9 400.1h7.9v15.1h-7.9zM529.6 429.9h7.9v15.1h-7.9zM537.2 444.7h7.9v15.1h-7.9zM544.9 533.9h7.9v15.1h-7.9zM544.9 429.9h7.9v15.1h-7.9zM552.5 459.6h7.9v29.9h-7.9zM560.2 444.7h7.9v15.1h-7.9zM567.9 444.7h7.9v29.9h-7.9zM575.5 459.6h7.9v15.1h-7.9zM583.2 429.9h7.9v15.1h-7.9zM598.5 429.9h7.9v15.1h-7.9zM613.8 400.1h7.9v15.1h-7.9zM621.5 519.1h7.9v15.1h-7.9zM621.5 489.3h7.9v15.1h-7.9zM621.5 415.0h7.9v15.1h-7.9z"/><path fill="#03d0d9" d="M468.3 444.7h7.9v15.1h-7.9z"/><path fill="#e3cd00" d="M475.9 489.3h7.9v15.1h-7.9zM483.6 504.2h7.9v15.1h-7.9zM491.3 504.2h7.9v15.1h-7.9zM506.6 489.3h7.9v15.1h-7.9zM583.2 474.5h7.9v15.1h-7.9zM636.8 489.3h7.9v15.1h-7.9z"/><path fill="#5fe37d" d="M506.6 429.9h7.9v15.1h-7.9zM514.2 429.9h7.9v15.1h-7.9zM537.2 459.6h7.9v15.1h-7.9zM552.5 489.3h7.9v15.1h-7.9zM575.5 415.0h7.9v15.1h-7.9z"/><path fill="#e39800" d="M583.2 385.3h7.9v15.1h-7.9zM636.8 548.8h7.9v15.1h-7.9zM636.8 504.2h7.9v29.9h-7.9z"/><path fill="#e38600" d="M606.2 548.8h7.9v15.1h-7.9zM636.8 533.9h7.9v15.1h-7.9z"/><path fill="#e31d00" d="M629.1 563.7h7.9v15.1h-7.9z"/><path fill="#ffd200" d="M644.5 504.2h7.9v15.1h-7.9zM652.1 548.8h7.9v15.1h-7.9zM652.1 489.3h7.9v29.9h-7.9zM705.7 385.3h7.9v15.1h-7.9zM713.4 459.6h7.9v15.1h-7.9zM713.4 400.1h7.9v15.1h-7.9zM721.1 459.6h7.9v15.1h-7.9zM721.1 385.3h7.9v29.9h-7.9zM728.7 474.5h7.9v15.1h-7.9zM767.0 429.9h7.9v44.8h-7.9zM774.7 429.9h7.9v15.1h-7.9zM813.0 429.9h7.9v15.1h-7.9zM851.3 459.6h7.9v29.9h-7.9zM881.9 504.2h7.9v15.1h-7.9zM927.9 459.6h7.9v15.1h-7.9zM927.9 429.9h7.9v15.1h-7.9zM935.5 533.9h7.9v15.1h-7.9zM966.2 504.2h7.9v15.1h-7.9zM966.2 459.6h7.9v15.1h-7.9zM989.2 474.5h7.9v15.1h-7.9zM1065.8 459.6h7.9v15.1h-7.9z"/><path fill="#15ffe2" d="M644.5 429.9h7.9v15.1h-7.9z"/><path fill="#c80000" d="M659.8 548.8h7.9v15.1h-7.9zM667.4 563.7h7.9v15.1h-7.9zM767.0 489.3h7.9v15.1h-7.9zM797.7 504.2h7.9v15.1h-7.9zM912.6 444.7h7.9v15.1h-7.9zM912.6 400.1h7.9v29.9h-7.9zM927.9 370.4h7.9v15.1h-7.9zM1058.1 444.7h7.9v15.1h-7.9z"/><path fill="#980000" d="M667.4 578.5h7.9v15.1h-7.9zM736.4 489.3h7.9v15.1h-7.9zM774.7 504.2h7.9v15.1h-7.9zM912.6 370.4h7.9v15.1h-7.9zM1050.4 385.3h7.9v15.1h-7.9zM1058.1 385.3h7.9v15.1h-7.9z"/><path fill="#b00000" d="M667.4 533.9h7.9v29.9h-7.9zM805.3 519.1h7.9v15.1h-7.9zM828.3 474.5h7.9v15.1h-7.9zM927.9 415.0h7.9v15.1h-7.9zM989.2 504.2h7.9v15.1h-7.9zM1050.4 400.1h7.9v15.1h-7.9z"/><path fill="#e00000" d="M667.4 519.1h7.9v15.1h-7.9zM690.4 489.3h7.9v15.1h-7.9zM774.7 489.3h7.9v15.1h-7.9zM790.0 504.2h7.9v15.1h-7.9zM805.3 504.2h7.9v15.1h-7.9zM843.6 489.3h7.9v15.1h-7.9zM1050.4 444.7h7.9v29.9h-7.9z"/><path fill="#00aaff" d="M690.4 429.9h7.9v15.1h-7.9z"/><path fill="#800000" d="M828.3 489.3h7.9v15.1h-7.9zM843.6 504.2h7.9v29.9h-7.9zM1058.1 370.4h7.9v15.1h-7.9z"/><rect x="234.4" y="378.4" width="66.2" height="53.2" fill="#fff" fill-opacity="0.8"/><text x="241.0" y="416.5" font-size="45.5" text-anchor="start" fill="#000" >(b)</text><line x1="645.6" y1="370.4" x2="645.6" y2="638.0" stroke="#0000ff" stroke-opacity="0.5" stroke-width="2.7" stroke-dasharray="10.4,4.8"/><path d="M214.3,623.13h5.5M1078.4,623.13h-5.5 M214.3,608.27h5.5M1078.4,608.27h-5.5 M214.3,593.40h5.5M1078.4,593.40h-5.5 M214.3,578.53h5.5M1078.4,578.53h-5.5 M214.3,563.67h5.5M1078.4,563.67h-5.5 M214.3,548.80h5.5M1078.4,548.80h-5.5 M214.3,533.93h5.5M1078.4,533.93h-5.5 M214.3,519.07h5.5M1078.4,519.07h-5.5 M214.3,504.20h11M1078.4,504.20h-11 M214.3,489.33h5.5M1078.4,489.33h-5.5 M214.3,474.47h5.5M1078.4,474.47h-5.5 M214.3,459.60h5.5M1078.4,459.60h-5.5 M214.3,444.73h5.5M1078.4,444.73h-5.5 M214.3,429.87h5.5M1078.4,429.87h-5.5 M214.3,415.00h5.5M1078.4,415.00h-5.5 M214.3,400.13h5.5M1078.4,400.13h-5.5 M214.3,385.27h5.5M1078.4,385.27h-5.5" stroke="#000" stroke-width="2" fill="none"/><path d="M235.90,638.00v-5.2 M235.90,370.40v5.2 M257.50,638.00v-5.2 M257.50,370.40v5.2 M279.11,638.00v-5.2 M279.11,370.40v5.2 M300.71,638.00v-5.2 M300.71,370.40v5.2 M322.31,638.00v-5.2 M322.31,370.40v5.2 M343.92,638.00v-5.2 M343.92,370.40v5.2 M365.52,638.00v-5.2 M365.52,370.40v5.2 M387.12,638.00v-10.5 M387.12,370.40v10.5 M408.72,638.00v-5.2 M408.72,370.40v5.2 M430.33,638.00v-5.2 M430.33,370.40v5.2 M451.93,638.00v-5.2 M451.93,370.40v5.2 M473.53,638.00v-5.2 M473.53,370.40v5.2 M495.13,638.00v-5.2 M495.13,370.40v5.2 M516.74,638.00v-5.2 M516.74,370.40v5.2 M538.34,638.00v-5.2 M538.34,370.40v5.2 M559.94,638.00v-10.5 M559.94,370.40v10.5 M581.54,638.00v-5.2 M581.54,370.40v5.2 M603.15,638.00v-5.2 M603.15,370.40v5.2 M624.75,638.00v-5.2 M624.75,370.40v5.2 M646.35,638.00v-5.2 M646.35,370.40v5.2 M667.95,638.00v-5.2 M667.95,370.40v5.2 M689.56,638.00v-5.2 M689.56,370.40v5.2 M711.16,638.00v-5.2 M711.16,370.40v5.2 M732.76,638.00v-10.5 M732.76,370.40v10.5 M754.36,638.00v-5.2 M754.36,370.40v5.2 M775.97,638.00v-5.2 M775.97,370.40v5.2 M797.57,638.00v-5.2 M797.57,370.40v5.2 M819.17,638.00v-5.2 M819.17,370.40v5.2 M840.77,638.00v-5.2 M840.77,370.40v5.2 M862.38,638.00v-5.2 M862.38,370.40v5.2 M883.98,638.00v-5.2 M883.98,370.40v5.2 M905.58,638.00v-10.5 M905.58,370.40v10.5 M927.18,638.00v-5.2 M927.18,370.40v5.2 M948.79,638.00v-5.2 M948.79,370.40v5.2 M970.39,638.00v-5.2 M970.39,370.40v5.2 M991.99,638.00v-5.2 M991.99,370.40v5.2 M1013.59,638.00v-5.2 M1013.59,370.40v5.2 M1035.20,638.00v-5.2 M1035.20,370.40v5.2 M1056.80,638.00v-5.2 M1056.80,370.40v5.2" stroke="#000" stroke-width="2" fill="none"/><rect x="214.3" y="370.4" width="864.10" height="267.60" fill="none" stroke="#000" stroke-width="2.2"/><text x="178.0" y="385.6" font-size="37" text-anchor="end" fill="#000" >180</text><circle cx="186.2" cy="353.3" r="4.6" fill="none" stroke="#000" stroke-width="1.5"/><text x="179.0" y="519.0" font-size="37" text-anchor="end" fill="#000" >90</text><circle cx="188.4" cy="487.8" r="4.6" fill="none" stroke="#000" stroke-width="1.5"/><text x="179.0" y="653.0" font-size="37" text-anchor="end" fill="#000" >0</text><circle cx="187.8" cy="621" r="4.6" fill="none" stroke="#000" stroke-width="1.5"/><text transform="translate(24.4,504.4) rotate(-90)" font-size="37" text-anchor="middle" >Pitch</text><text transform="translate(73.4,576.6) rotate(-90)" font-size="36" text-anchor="start" textLength="109.5" lengthAdjust="spacingAndGlyphs">Angle (</text><text transform="translate(73.4,445.2) rotate(-90)" font-size="36" text-anchor="start" >)</text><circle cx="43.3" cy="456.7" r="4.6" fill="none" stroke="#000" stroke-width="1.5"/><rect x="1107.5" y="375.5" width="29" height="255" fill="url(#jet)" stroke="#000" stroke-width="2"/><path d="M1137,439.4h-11M1137,502.8h-11M1137,566h-11" stroke="#000" stroke-width="2"/><text x="1145.0" y="458.9" font-size="37" text-anchor="start" fill="#000" >10</text><text x="1186.0" y="434.4" font-size="26" text-anchor="start" fill="#000" >10</text><text x="1145.0" y="522.3" font-size="37" text-anchor="start" fill="#000" >10</text><text x="1186.0" y="497.8" font-size="26" text-anchor="start" fill="#000" >9</text><text x="1145.0" y="585.5" font-size="37" text-anchor="start" fill="#000" >10</text><text x="1186.0" y="561.0" font-size="26" text-anchor="start" fill="#000" >8</text><text transform="translate(1267.0,470.0) rotate(-90)" font-size="37" text-anchor="middle" >Flux</text><text transform="translate(1267.0,557.0) rotate(-90)" font-size="37" text-anchor="middle" >H</text><text x="1238.0" y="538.0" font-size="26" text-anchor="start" fill="#000" transform="rotate(-90 1238 538)">+</text><text transform="translate(1331.0,612.0) rotate(-90)" font-size="37" text-anchor="start" >(cm</text><text transform="translate(1305.6,550.0) rotate(-90)" font-size="26" text-anchor="start" >2</text><text transform="translate(1331.0,530.0) rotate(-90)" font-size="37" text-anchor="start" textLength="104" lengthAdjust="spacingAndGlyphs">· s · sr)</text><text transform="translate(1304.0,427.0) rotate(-90)" font-size="26" text-anchor="start" >−1</text><rect x="408.3" y="646.0" width="236.99999999999994" height="267.5" fill="#e3e3e3"/><clipPath id="cc"><rect x="215" y="647" width="862.5" height="265.5"/></clipPath><g clip-path="url(#cc)" fill="none" stroke-width="5.1" stroke-linejoin="round" stroke-linecap="round"><path stroke="#ff0000" d="M215.3 823.9L216.7 826.0L218.1 828.1L219.5 824.8L220.9 825.4L222.3 826.0L223.7 828.1L225.1 829.0L226.5 833.1L227.9 832.8L229.3 832.0L230.7 833.1L232.1 830.7L233.5 831.5L234.9 834.7L236.3 836.0L237.7 832.6L239.1 835.3L240.5 834.9L241.9 832.6L243.3 832.2L244.7 834.0L246.1 834.2L247.5 832.6L248.9 837.5L250.3 838.6L251.7 834.9L253.1 832.6L254.5 832.6L255.9 830.2L257.3 831.4L258.7 831.6L260.1 829.9L261.5 832.0L262.9 824.9L264.3 827.1L265.7 818.0L267.1 814.4L268.5 823.6L269.9 826.5L271.3 822.6L272.7 827.4L274.1 829.2L275.5 832.0L276.9 828.0L278.3 830.3L279.7 824.4L281.1 821.8L282.5 823.4L283.9 826.2L285.3 834.0L286.7 837.2L288.1 835.5L289.5 837.5L290.9 837.8L292.3 839.0L293.7 841.4L295.1 842.8L296.5 841.3L297.9 843.7L299.3 846.6L300.7 845.4L302.1 846.3L303.5 845.5L304.9 847.9L306.3 846.1L307.7 847.8L309.1 847.6L310.5 848.1L311.9 848.4L313.3 849.3L314.7 850.7L316.1 850.1L317.5 851.0L318.9 849.8L320.3 850.6L321.7 849.9L323.1 850.4L324.5 849.9L325.9 849.2L327.3 849.6L328.7 848.9L330.1 849.5L331.5 849.8L332.9 848.1L334.3 849.1L335.7 848.6L337.1 847.5L338.5 848.3L339.9 847.6L341.3 848.0L342.7 847.8L344.1 846.2L345.5 846.8L346.9 846.8L348.3 847.0L349.7 847.8L351.1 847.5L352.5 846.2L353.9 846.1L355.3 846.7L356.7 846.2L358.1 845.7L359.5 845.0L360.9 844.8L362.3 843.8L363.7 844.0L365.1 845.9L366.5 845.7L367.9 846.7L369.3 844.9L370.7 846.6L372.1 846.2L373.5 847.3L374.9 845.2L376.3 845.8L377.7 845.7L379.1 847.4L380.5 845.9L381.9 845.5L383.3 846.5L384.7 846.6L386.1 846.2L387.5 846.1L388.9 845.7L390.3 845.2L391.7 845.9L393.1 846.3L394.5 847.6L395.9 846.5L397.3 846.0L398.7 847.5L400.1 846.5L401.5 846.5L402.9 847.1L404.3 846.7L405.7 846.0L407.1 846.5L408.5 846.0L409.9 845.8L411.3 846.1L412.7 844.2L414.1 844.5L415.5 844.1L416.9 843.4L418.3 842.2L419.7 841.4L421.1 843.8L422.5 843.0L423.9 842.8L425.3 840.7L426.7 840.9L428.1 841.0L429.5 840.3L430.9 840.4L432.3 838.9L433.7 837.9L435.1 840.4L436.5 838.9L437.9 838.8L439.3 839.2L440.7 838.7L442.1 839.6L443.5 837.5L444.9 839.0L446.3 837.6L447.7 836.8L449.1 837.9L450.5 837.0L451.9 836.9L453.3 836.1L454.7 835.9L456.1 836.3L457.5 837.1L458.9 836.8L460.3 836.4L461.7 835.9L463.1 834.1L464.5 834.6L465.9 834.9L467.3 834.2L468.7 833.5L470.1 833.9L471.5 835.9L472.9 833.4L474.3 834.1L475.7 834.5L477.1 833.5L478.5 833.7L479.9 832.6L481.3 832.3L482.7 830.5L484.1 832.7L485.5 833.2L486.9 833.1L488.3 832.8L489.7 832.5L491.1 833.4L492.5 831.9L493.9 830.6L495.3 833.2L496.7 831.6L498.1 830.4L499.5 829.6L500.9 830.8L502.3 828.9L503.7 829.8L505.1 830.5L506.5 828.7L507.9 829.1L509.3 830.7L510.7 829.4L512.1 829.6L513.5 828.6L514.9 829.0L516.3 829.3L517.7 828.5L519.1 827.7L520.5 828.8L521.9 828.7L523.3 829.7L524.7 828.4L526.1 830.6L527.5 828.6L528.9 828.9L530.3 829.3L531.7 829.6L533.1 830.5L534.5 829.9L535.9 830.5L537.3 828.0L538.7 829.6L540.1 829.2L541.5 828.7L542.9 830.3L544.3 830.4L545.7 829.3L547.1 828.4L548.5 829.7L549.9 829.7L551.3 828.6L552.7 829.0L554.1 829.1L555.5 829.2L556.9 828.2L558.3 829.4L559.7 828.1L561.1 827.7L562.5 827.3L563.9 828.1L565.3 826.6L566.7 827.1L568.1 827.6L569.5 827.0L570.9 826.5L572.3 827.1L573.7 825.8L575.1 826.0L576.5 826.4L577.9 824.9L579.3 825.7L580.7 827.2L582.1 825.9L583.5 825.0L584.9 825.5L586.3 823.6L587.7 824.5L589.1 824.3L590.5 822.8L591.9 822.5L593.3 823.5L594.7 824.5L596.1 823.0L597.5 823.0L598.9 821.4L600.3 821.2L601.7 822.8L603.1 821.1L604.5 821.8L605.9 821.2L607.3 820.1L608.7 820.4L610.1 820.7L611.5 819.6L612.9 819.8L614.3 818.9L615.7 818.4L617.1 817.7L618.5 819.1L619.9 818.5L621.3 817.9L622.7 818.6L624.1 816.1L625.5 817.8L626.9 816.9L628.3 817.5L629.7 816.5L631.1 816.6L632.5 816.3L633.9 815.6L635.3 815.8L636.7 815.3L638.1 815.2L639.5 816.7L640.9 818.1L642.3 819.2L643.7 819.9L645.1 819.4L646.5 820.3L647.9 820.6L649.3 820.9L650.7 819.6L652.1 819.8L653.5 818.8L654.9 815.9L656.3 812.8L657.7 812.6L659.1 809.3L660.5 811.2L661.5 805.2L662.5 799.9L663.5 795.1L664.5 789.1L665.5 788.3L666.5 788.4L667.5 791.4L668.5 790.5L669.5 790.7L670.5 792.6L671.5 791.9L672.5 790.0L673.5 788.5L674.5 792.6L675.5 797.6L676.5 793.6L677.5 789.4L678.5 787.5L679.5 792.2L680.5 785.4L681.5 793.4L682.5 792.2L683.5 788.9L684.5 789.3L685.5 789.6L686.5 791.3L687.5 780.9L688.5 796.6L689.5 790.8L690.5 789.4L691.5 784.2L692.5 784.3L693.5 786.7L694.5 788.5L695.5 782.8L696.5 785.4L697.5 781.2L698.5 787.3L699.5 776.7L700.5 781.9L701.5 786.6L702.5 795.5L703.5 791.2L704.5 787.4L705.5 789.6L706.5 781.9L707.5 776.6L708.5 782.2L709.5 778.3L710.5 792.2L711.5 795.8L712.5 784.8L713.5 788.6L714.5 791.9L715.5 789.5L716.5 790.4L717.5 790.2L718.5 785.6L719.5 784.4L720.5 791.4L721.5 793.3L722.5 784.5L723.5 786.4L724.5 787.0L725.5 785.2L726.5 787.8L727.5 791.1L728.5 794.2L729.5 790.7L730.5 788.0L731.5 786.1L732.5 789.9L733.5 783.2L734.5 777.6L735.5 785.2L736.5 790.8L737.5 790.8L738.5 784.5L739.5 783.2L740.5 783.8L741.5 791.7L742.5 785.0L743.5 787.1L744.5 780.7L745.5 798.7L746.5 785.6L747.5 785.2L748.5 784.0L749.5 790.8L750.5 785.1L751.5 785.6L752.5 791.1L753.5 784.7L754.5 788.1L755.5 782.7L756.5 788.5L757.5 786.0L758.5 791.4L759.5 785.3L760.5 786.2L761.5 787.1L762.5 789.0L763.5 787.2L764.5 787.3L765.5 783.8L766.5 791.8L767.5 790.9L768.5 799.5L769.5 796.6L770.5 792.1L771.5 801.5L772.5 798.6L773.5 799.0L774.5 795.8L775.5 804.6L776.5 797.4L777.5 804.8L778.5 800.0L779.5 794.4L780.5 793.2L781.5 808.5L782.5 798.9L783.5 794.0L784.5 799.6L785.5 794.8L786.5 790.9L787.5 793.8L788.5 802.4L789.5 795.5L790.5 798.9L791.5 796.8L792.5 805.1L793.5 790.1L794.5 792.0L795.5 797.6L796.5 795.7L797.5 794.2L798.5 791.2L799.5 792.9L800.5 794.0L801.5 789.8L802.5 791.9L803.5 783.1L804.5 791.6L805.5 791.8L806.5 797.5L807.5 798.7L808.5 794.3L809.5 785.0L810.5 791.8L811.5 794.5L812.5 795.2L813.5 784.1L814.5 784.9L815.5 779.2L816.5 798.2L817.5 792.0L818.5 795.7L819.5 785.5L820.5 793.4L821.5 792.2L822.5 791.6L823.5 789.7L824.5 793.4L825.5 792.2L826.5 788.9L827.5 792.4L828.5 793.0L829.5 789.7L830.5 786.2L831.5 795.6L832.5 794.1L833.5 790.2L834.5 798.9L835.5 794.5L836.5 794.5L837.5 796.3L838.5 801.9L839.5 796.2L840.5 792.1L841.5 788.2L842.5 790.5L843.5 791.0L844.5 792.4L845.5 787.7L846.5 800.8L847.5 796.1L848.5 793.8L849.5 795.2L850.5 787.7L851.5 788.9L852.5 791.4L853.5 790.5L854.5 790.6L855.5 794.5L856.5 781.2L857.5 790.1L858.5 795.0L859.5 790.2L860.5 784.2L861.5 793.2L862.5 797.4L863.5 791.2L864.5 790.4L865.5 787.2L866.5 792.5L867.5 781.5L868.5 782.1L869.5 786.9L870.5 793.5L871.5 788.3L872.5 792.4L873.5 783.0L874.5 785.0L875.5 794.0L876.5 787.3L877.5 780.5L878.5 785.3L879.5 779.8L880.5 780.7L881.5 787.7L882.5 787.8L883.5 789.2L884.5 782.8L885.5 783.4L886.5 783.1L887.5 783.4L888.5 781.0L889.5 786.3L890.5 780.8L891.5 781.2L892.5 783.2L893.5 777.7L894.5 783.7L895.5 788.4L896.5 782.9L897.5 780.7L898.5 776.9L899.5 792.3L900.5 780.3L901.5 782.2L902.5 784.0L903.5 777.7L904.5 788.4L905.5 778.6L906.5 776.7L907.5 774.9L908.5 781.8L909.5 778.6L910.5 782.4L911.5 784.6L912.5 780.6L913.5 782.1L914.5 774.4L915.5 776.7L916.5 784.3L917.5 789.4L918.5 784.1L919.5 778.5L920.5 780.3L921.5 772.6L922.5 772.6L923.5 780.2L924.5 780.6L925.5 776.9L926.5 777.0L927.5 776.8L928.5 782.1L929.5 779.9L930.5 778.1L931.5 774.8L932.5 779.5L933.5 776.3L934.5 782.8L935.5 784.0L936.5 786.7L937.5 774.0L938.5 778.8L939.5 786.2L940.5 781.7L941.5 788.0L942.5 782.3L943.5 773.5L944.5 784.0L945.5 789.2L946.5 772.0L947.5 782.2L948.5 785.0L949.5 786.2L950.5 775.9L951.5 781.9L952.5 784.3L953.5 781.5L954.5 787.9L955.5 780.2L956.5 785.6L957.5 773.6L958.5 782.2L959.5 776.6L960.5 781.2L961.5 775.8L962.5 781.7L963.5 780.4L964.5 774.3L965.5 783.0L966.5 775.7L967.5 774.7L968.5 775.7L969.5 775.0L970.5 780.7L971.5 776.3L972.5 773.6L973.5 776.8L974.5 784.7L975.5 783.1L976.5 779.1L977.5 776.6L978.5 779.5L979.5 778.6L980.5 778.2L981.5 778.9L982.5 782.6L983.5 776.9L984.5 777.0L985.5 786.6L986.5 772.9L987.5 780.6L988.5 780.1L989.5 776.5L990.5 774.4L991.5 774.8L992.5 775.9L993.5 785.0L994.5 784.2L995.5 782.1L996.5 782.7L997.5 779.7L998.5 773.6L999.5 771.6L1000.5 783.0L1001.5 784.3L1002.5 778.5L1003.5 784.0L1004.5 780.6L1005.5 767.2L1006.5 782.3L1007.5 780.6L1008.5 782.7L1009.5 782.2L1010.5 774.1L1011.5 779.3L1012.5 777.6L1013.5 781.7L1014.5 780.2L1015.5 784.3L1016.5 780.8L1017.5 774.3L1018.5 778.5L1019.5 781.0L1020.5 779.3L1021.5 782.0L1022.5 782.0L1023.5 782.2L1024.5 774.5L1025.5 781.7L1026.5 774.3L1027.5 775.4L1028.5 782.2L1029.5 782.5L1030.5 779.2L1031.5 777.5L1032.5 781.8L1033.5 784.8L1034.5 786.1L1035.5 782.1L1036.5 779.1L1037.5 783.5L1038.5 770.5L1039.5 782.1L1040.5 779.2L1041.5 778.4L1042.5 771.8L1043.5 776.3L1044.5 780.1L1045.5 780.7L1046.5 774.3L1047.5 772.0L1048.5 781.9L1049.5 767.9L1050.5 768.9L1051.5 772.8L1052.5 768.9L1053.5 761.8L1054.5 763.0L1055.5 771.6L1056.5 788.2L1057.5 791.6L1058.5 790.1L1059.5 799.5L1060.5 794.2L1061.5 788.3L1062.5 796.2L1063.5 804.9L1064.5 795.4L1065.5 801.1L1066.5 791.0L1067.5 793.0L1068.5 794.0L1069.5 811.9L1070.5 800.5L1071.5 793.1L1072.5 796.1L1073.5 807.7L1074.5 798.0L1075.5 798.1L1076.5 803.7"/><path stroke="#0000ff" d="M215.3 899.3L216.7 898.0L218.1 893.1L219.5 891.3L220.9 890.1L222.3 889.0L223.7 884.6L225.1 877.2L226.5 883.3L227.9 879.7L229.3 874.8L230.7 881.0L232.1 874.1L233.5 877.7L234.9 875.2L236.3 874.2L237.7 871.1L239.1 872.2L240.5 870.5L241.9 869.6L243.3 870.1L244.7 872.7L246.1 867.2L247.5 868.8L248.9 864.1L250.3 863.6L251.7 867.9L253.1 865.8L254.5 866.0L255.9 868.4L257.3 864.7L258.7 864.2L260.1 865.1L261.5 861.8L262.9 865.6L264.3 856.7L265.7 840.3L267.1 825.6L268.5 835.2L269.9 848.4L271.3 848.5L272.7 847.9L274.1 845.9L275.5 853.7L276.9 847.2L278.3 831.6L279.7 829.1L281.1 851.0L282.5 847.6L283.9 843.4L285.3 851.2L286.7 850.0L288.1 840.1L289.5 842.9L290.9 850.1L292.3 842.8L293.7 835.3L295.1 841.6L296.5 846.0L297.9 841.0L299.3 839.2L300.7 841.7L302.1 840.2L303.5 841.1L304.9 839.5L306.3 838.7L307.7 837.2L309.1 837.5L310.5 836.8L311.9 835.6L313.3 835.1L314.7 835.1L316.1 834.0L317.5 831.9L318.9 832.3L320.3 830.9L321.7 831.5L323.1 830.5L324.5 830.5L325.9 827.7L327.3 828.1L328.7 826.4L330.1 826.3L331.5 825.7L332.9 824.5L334.3 823.8L335.7 824.6L337.1 824.7L338.5 822.5L339.9 821.9L341.3 821.2L342.7 821.0L344.1 819.7L345.5 818.8L346.9 818.8L348.3 817.7L349.7 817.1L351.1 816.3L352.5 816.5L353.9 815.4L355.3 813.4L356.7 814.0L358.1 811.7L359.5 811.8L360.9 811.8L362.3 811.3L363.7 809.4L365.1 809.2L366.5 807.6L367.9 807.8L369.3 807.4L370.7 807.1L372.1 806.1L373.5 804.5L374.9 805.0L376.3 802.8L377.7 802.8L379.1 802.9L380.5 803.4L381.9 801.8L383.3 800.3L384.7 800.7L386.1 799.8L387.5 797.6L388.9 797.6L390.3 796.7L391.7 797.2L393.1 794.9L394.5 796.0L395.9 794.1L397.3 794.7L398.7 793.2L400.1 792.9L401.5 792.2L402.9 790.9L404.3 790.9L405.7 790.1L407.1 790.2L408.5 789.7L409.9 789.1L411.3 787.8L412.7 787.7L414.1 787.4L415.5 786.4L416.9 786.7L418.3 785.4L419.7 785.9L421.1 786.7L422.5 786.5L423.9 783.1L425.3 784.5L426.7 784.5L428.1 782.0L429.5 782.5L430.9 782.0L432.3 780.8L433.7 780.3L435.1 779.4L436.5 779.4L437.9 779.5L439.3 778.7L440.7 777.4L442.1 778.8L443.5 777.2L444.9 777.8L446.3 775.0L447.7 774.6L449.1 775.5L450.5 774.4L451.9 773.1L453.3 774.4L454.7 773.3L456.1 772.8L457.5 772.5L458.9 774.2L460.3 772.8L461.7 772.7L463.1 771.9L464.5 771.4L465.9 769.0L467.3 769.0L468.7 771.0L470.1 771.5L471.5 769.6L472.9 769.6L474.3 769.3L475.7 768.2L477.1 767.7L478.5 766.2L479.9 766.1L481.3 765.5L482.7 765.5L484.1 764.7L485.5 763.2L486.9 761.9L488.3 762.0L489.7 762.7L491.1 761.0L492.5 762.1L493.9 760.2L495.3 760.0L496.7 759.7L498.1 759.5L499.5 760.4L500.9 758.7L502.3 759.2L503.7 760.7L505.1 759.6L506.5 759.8L507.9 759.3L509.3 757.7L510.7 759.3L512.1 759.0L513.5 757.9L514.9 758.6L516.3 758.5L517.7 757.3L519.1 756.0L520.5 757.2L521.9 757.5L523.3 756.6L524.7 757.6L526.1 756.5L527.5 755.3L528.9 755.4L530.3 755.7L531.7 755.3L533.1 755.3L534.5 755.0L535.9 754.2L537.3 755.4L538.7 753.3L540.1 753.5L541.5 753.1L542.9 754.0L544.3 751.5L545.7 752.4L547.1 751.1L548.5 749.5L549.9 749.5L551.3 749.9L552.7 750.5L554.1 748.6L555.5 748.0L556.9 747.7L558.3 746.4L559.7 745.9L561.1 744.4L562.5 745.4L563.9 744.2L565.3 747.1L566.7 745.9L568.1 745.3L569.5 745.0L570.9 743.6L572.3 742.5L573.7 743.2L575.1 745.5L576.5 742.5L577.9 741.9L579.3 741.8L580.7 741.8L582.1 741.7L583.5 741.1L584.9 742.9L586.3 741.7L587.7 739.7L589.1 740.9L590.5 741.0L591.9 741.3L593.3 742.8L594.7 741.4L596.1 741.0L597.5 742.6L598.9 742.1L600.3 743.0L601.7 742.0L603.1 741.8L604.5 742.9L605.9 743.5L607.3 742.8L608.7 743.1L610.1 742.4L611.5 743.3L612.9 742.0L614.3 744.7L615.7 743.5L617.1 742.9L618.5 743.7L619.9 743.8L621.3 743.9L622.7 744.0L624.1 744.8L625.5 744.1L626.9 743.3L628.3 743.2L629.7 741.9L631.1 740.5L632.5 742.0L633.9 741.0L635.3 740.6L636.7 739.8L638.1 738.6L639.5 738.6L640.9 738.5L642.3 737.1L643.7 738.5L645.1 736.3L646.5 734.7L647.9 734.8L649.3 733.4L650.7 732.3L652.1 731.6L653.5 735.0L654.9 740.2L656.3 741.2L657.7 746.7L659.1 750.4L660.5 759.9L661.5 764.2L662.5 771.4L663.5 774.7L664.5 779.6L665.5 785.0L666.5 788.3L667.5 791.0L668.5 794.7L669.5 795.0L670.5 791.7L671.5 783.8L672.5 781.8L673.5 749.9L674.5 747.1L675.5 765.8L676.5 766.1L677.5 773.5L678.5 758.5L679.5 772.9L680.5 778.4L681.5 783.6L682.5 777.9L683.5 788.3L684.5 778.5L685.5 780.3L686.5 774.9L687.5 770.9L688.5 767.7L689.5 784.9L690.5 775.2L691.5 783.0L692.5 781.5L693.5 775.5L694.5 780.0L695.5 777.4L696.5 781.6L697.5 783.3L698.5 778.4L699.5 774.4L700.5 779.0L701.5 777.6L702.5 777.5L703.5 776.2L704.5 783.5L705.5 779.1L706.5 774.1L707.5 780.6L708.5 779.7L709.5 777.7L710.5 778.8L711.5 778.5L712.5 790.7L713.5 782.8L714.5 779.1L715.5 776.7L716.5 778.9L717.5 770.0L718.5 786.1L719.5 786.7L720.5 786.2L721.5 786.7L722.5 781.0L723.5 771.6L724.5 773.8L725.5 787.8L726.5 779.3L727.5 771.2L728.5 779.4L729.5 778.0L730.5 780.5L731.5 789.2L732.5 781.6L733.5 795.5L734.5 766.8L735.5 780.5L736.5 773.3L737.5 781.0L738.5 771.7L739.5 774.5L740.5 775.2L741.5 772.8L742.5 792.0L743.5 781.7L744.5 768.1L745.5 788.7L746.5 772.9L747.5 776.7L748.5 790.0L749.5 790.6L750.5 778.4L751.5 777.3L752.5 780.1L753.5 783.3L754.5 770.0L755.5 775.1L756.5 778.1L757.5 778.8L758.5 776.5L759.5 772.0L760.5 779.3L761.5 775.2L762.5 765.8L763.5 769.8L764.5 769.2L765.5 766.5L766.5 759.2L767.5 753.0L768.5 754.5L769.5 757.3L770.5 762.8L771.5 749.3L772.5 761.3L773.5 757.6L774.5 762.2L775.5 772.7L776.5 763.7L777.5 772.5L778.5 763.2L779.5 759.7L780.5 765.2L781.5 754.4L782.5 759.0L783.5 766.7L784.5 763.4L785.5 757.0L786.5 756.0L787.5 760.2L788.5 754.7L789.5 767.1L790.5 751.9L791.5 755.3L792.5 764.3L793.5 765.1L794.5 778.0L795.5 757.6L796.5 765.6L797.5 766.2L798.5 774.2L799.5 767.3L800.5 761.2L801.5 767.4L802.5 761.7L803.5 769.0L804.5 760.5L805.5 762.2L806.5 773.3L807.5 757.1L808.5 758.1L809.5 759.3L810.5 762.7L811.5 749.5L812.5 757.6L813.5 762.9L814.5 766.9L815.5 758.0L816.5 761.0L817.5 766.0L818.5 768.9L819.5 758.2L820.5 758.0L821.5 756.5L822.5 753.7L823.5 755.4L824.5 758.0L825.5 765.3L826.5 763.9L827.5 760.0L828.5 755.6L829.5 754.2L830.5 752.6L831.5 758.3L832.5 759.4L833.5 757.3L834.5 765.4L835.5 767.8L836.5 768.0L837.5 754.0L838.5 770.4L839.5 772.1L840.5 760.9L841.5 759.9L842.5 764.7L843.5 754.6L844.5 777.1L845.5 766.0L846.5 760.4L847.5 770.7L848.5 759.7L849.5 763.4L850.5 766.6L851.5 769.8L852.5 764.4L853.5 758.8L854.5 768.4L855.5 758.0L856.5 782.4L857.5 782.7L858.5 784.9L859.5 782.4L860.5 785.1L861.5 787.1L862.5 795.8L863.5 775.1L864.5 793.9L865.5 781.5L866.5 794.0L867.5 778.2L868.5 788.3L869.5 807.0L870.5 797.7L871.5 791.9L872.5 783.4L873.5 784.3L874.5 786.3L875.5 807.7L876.5 790.0L877.5 783.5L878.5 797.2L879.5 809.1L880.5 800.6L881.5 792.9L882.5 802.3L883.5 798.1L884.5 806.2L885.5 798.1L886.5 804.1L887.5 795.4L888.5 811.1L889.5 815.0L890.5 795.6L891.5 791.1L892.5 786.9L893.5 795.6L894.5 806.6L895.5 804.8L896.5 802.7L897.5 802.8L898.5 802.5L899.5 797.4L900.5 801.5L901.5 812.9L902.5 803.5L903.5 809.4L904.5 785.7L905.5 820.7L906.5 800.4L907.5 812.1L908.5 816.5L909.5 811.0L910.5 794.4L911.5 798.5L912.5 801.6L913.5 807.4L914.5 793.7L915.5 801.8L916.5 804.1L917.5 787.6L918.5 804.1L919.5 790.4L920.5 796.2L921.5 798.9L922.5 809.1L923.5 810.3L924.5 794.3L925.5 806.6L926.5 806.5L927.5 803.3L928.5 797.3L929.5 789.4L930.5 795.9L931.5 796.9L932.5 802.4L933.5 796.8L934.5 787.8L935.5 795.2L936.5 793.9L937.5 801.5L938.5 791.7L939.5 807.0L940.5 791.7L941.5 797.0L942.5 810.1L943.5 811.5L944.5 800.5L945.5 796.9L946.5 817.0L947.5 801.6L948.5 804.7L949.5 803.5L950.5 797.8L951.5 765.9L952.5 782.5L953.5 801.4L954.5 805.9L955.5 778.2L956.5 810.9L957.5 802.8L958.5 801.3L959.5 796.7L960.5 798.0L961.5 792.5L962.5 789.7L963.5 787.6L964.5 790.1L965.5 785.0L966.5 785.5L967.5 785.5L968.5 792.0L969.5 789.7L970.5 795.5L971.5 787.2L972.5 795.9L973.5 783.1L974.5 763.6L975.5 792.5L976.5 781.2L977.5 789.0L978.5 799.0L979.5 780.6L980.5 784.9L981.5 772.1L982.5 777.3L983.5 786.3L984.5 768.7L985.5 782.5L986.5 782.4L987.5 776.3L988.5 774.6L989.5 780.0L990.5 785.8L991.5 762.3L992.5 793.3L993.5 772.6L994.5 784.4L995.5 792.0L996.5 783.5L997.5 776.0L998.5 787.6L999.5 786.3L1000.5 772.1L1001.5 775.7L1002.5 773.4L1003.5 782.6L1004.5 781.8L1005.5 778.1L1006.5 784.7L1007.5 762.4L1008.5 785.0L1009.5 777.5L1010.5 779.5L1011.5 779.2L1012.5 774.9L1013.5 772.1L1014.5 779.6L1015.5 782.7L1016.5 775.2L1017.5 779.0L1018.5 771.5L1019.5 760.3L1020.5 786.5L1021.5 787.8L1022.5 773.8L1023.5 792.4L1024.5 770.8L1025.5 778.2L1026.5 772.3L1027.5 780.0L1028.5 765.6L1029.5 749.3L1030.5 778.5L1031.5 763.5L1032.5 777.3L1033.5 745.2L1034.5 752.7L1035.5 776.8L1036.5 792.8L1037.5 792.5L1038.5 797.9L1039.5 811.9L1040.5 820.8L1041.5 822.0L1042.5 820.1L1043.5 819.9L1044.5 826.2L1045.5 833.5L1046.5 823.3L1047.5 808.1L1048.5 813.3L1049.5 819.1L1050.5 804.4L1051.5 796.4L1052.5 816.2L1053.5 816.1L1054.5 814.5L1055.5 789.6L1056.5 807.9L1057.5 806.0L1058.5 798.4L1059.5 809.0L1060.5 808.1L1061.5 784.4L1062.5 812.3L1063.5 769.8L1064.5 794.7L1065.5 803.6L1066.5 780.2L1067.5 793.8L1068.5 800.0L1069.5 785.1L1070.5 809.0L1071.5 817.1L1072.5 816.2L1073.5 810.0L1074.5 815.1L1075.5 810.6L1076.5 801.2"/><path stroke="#008000" d="M215.3 730.3L216.7 730.6L218.1 734.1L219.5 735.4L220.9 738.2L222.3 738.0L223.7 738.0L225.1 745.2L226.5 737.8L227.9 738.8L229.3 739.1L230.7 740.9L232.1 740.9L233.5 745.2L234.9 743.4L236.3 743.3L237.7 750.4L239.1 749.1L240.5 746.9L241.9 750.2L243.3 750.0L244.7 745.4L246.1 747.3L247.5 749.3L248.9 747.2L250.3 749.7L251.7 750.2L253.1 746.1L254.5 746.3L255.9 749.3L257.3 748.0L258.7 742.8L260.1 745.2L261.5 743.3L262.9 741.6L264.3 740.1L265.7 745.1L267.1 744.5L268.5 739.2L269.9 753.8L271.3 745.5L272.7 734.3L274.1 749.4L275.5 750.4L276.9 728.9L278.3 736.9L279.7 750.4L281.1 733.4L282.5 729.4L283.9 747.6L285.3 739.0L286.7 732.2L288.1 733.5L289.5 734.0L290.9 733.7L292.3 736.9L293.7 732.5L295.1 736.0L296.5 735.4L297.9 734.0L299.3 740.5L300.7 737.0L302.1 737.1L303.5 738.8L304.9 738.3L306.3 738.8L307.7 739.2L309.1 740.4L310.5 739.4L311.9 740.4L313.3 741.5L314.7 741.7L316.1 741.6L317.5 742.8L318.9 741.9L320.3 742.3L321.7 742.7L323.1 742.3L324.5 745.0L325.9 744.0L327.3 743.1L328.7 743.4L330.1 745.8L331.5 745.5L332.9 745.2L334.3 745.2L335.7 745.3L337.1 745.9L338.5 745.0L339.9 745.0L341.3 746.2L342.7 745.5L344.1 744.7L345.5 745.5L346.9 746.1L348.3 746.6L349.7 746.7L351.1 746.6L352.5 747.2L353.9 748.1L355.3 748.2L356.7 747.2L358.1 746.4L359.5 746.4L360.9 747.5L362.3 746.7L363.7 747.4L365.1 747.0L366.5 747.3L367.9 747.7L369.3 747.3L370.7 747.1L372.1 748.2L373.5 749.1L374.9 748.2L376.3 747.2L377.7 750.2L379.1 749.2L380.5 750.4L381.9 750.1L383.3 749.2L384.7 749.8L386.1 750.1L387.5 749.2L388.9 748.9L390.3 748.8L391.7 749.9L393.1 750.2L394.5 750.1L395.9 750.1L397.3 749.5L398.7 749.9L400.1 750.1L401.5 750.2L402.9 750.2L404.3 749.9L405.7 751.5L407.1 750.9L408.5 749.9L409.9 750.0L411.3 749.3L412.7 750.7L414.1 750.4L415.5 751.1L416.9 749.8L418.3 750.7L419.7 750.7L421.1 752.3L422.5 750.4L423.9 751.4L425.3 752.8L426.7 752.0L428.1 750.9L429.5 751.8L430.9 752.1L432.3 750.1L433.7 751.1L435.1 750.8L436.5 750.3L437.9 752.2L439.3 752.5L440.7 750.2L442.1 751.8L443.5 751.2L444.9 749.7L446.3 751.5L447.7 752.3L449.1 750.5L450.5 750.8L451.9 752.0L453.3 753.1L454.7 750.9L456.1 752.5L457.5 753.5L458.9 754.5L460.3 754.0L461.7 753.4L463.1 753.7L464.5 752.3L465.9 751.9L467.3 753.7L468.7 754.7L470.1 753.9L471.5 753.1L472.9 754.1L474.3 753.6L475.7 753.6L477.1 754.6L478.5 755.1L479.9 754.7L481.3 755.9L482.7 755.6L484.1 755.8L485.5 756.9L486.9 756.8L488.3 756.3L489.7 757.0L491.1 757.7L492.5 757.7L493.9 756.7L495.3 757.4L496.7 756.2L498.1 756.2L499.5 757.3L500.9 757.7L502.3 758.3L503.7 758.6L505.1 758.6L506.5 758.7L507.9 758.8L509.3 758.4L510.7 757.9L512.1 759.1L513.5 760.0L514.9 760.3L516.3 759.8L517.7 759.8L519.1 760.3L520.5 761.9L521.9 761.5L523.3 760.7L524.7 761.7L526.1 759.8L527.5 761.4L528.9 760.9L530.3 760.7L531.7 761.7L533.1 759.7L534.5 761.0L535.9 761.0L537.3 761.2L538.7 761.7L540.1 761.8L541.5 762.0L542.9 761.0L544.3 761.2L545.7 761.8L547.1 761.4L548.5 761.4L549.9 761.7L551.3 761.9L552.7 763.1L554.1 762.5L555.5 762.5L556.9 762.8L558.3 762.7L559.7 763.6L561.1 762.6L562.5 763.8L563.9 762.6L565.3 763.2L566.7 762.4L568.1 764.1L569.5 765.0L570.9 762.9L572.3 763.2L573.7 763.3L575.1 760.7L576.5 760.7L577.9 764.0L579.3 762.3L580.7 762.9L582.1 762.3L583.5 762.5L584.9 763.3L586.3 762.6L587.7 761.5L589.1 762.0L590.5 763.6L591.9 763.9L593.3 762.4L594.7 764.4L596.1 765.6L597.5 763.7L598.9 764.2L600.3 764.2L601.7 764.4L603.1 764.9L604.5 765.9L605.9 766.2L607.3 765.7L608.7 764.5L610.1 766.3L611.5 766.2L612.9 766.9L614.3 767.1L615.7 767.9L617.1 767.6L618.5 769.1L619.9 766.5L621.3 768.7L622.7 767.2L624.1 767.3L625.5 769.0L626.9 769.8L628.3 769.6L629.7 767.6L631.1 768.8L632.5 768.5L633.9 768.2L635.3 769.6L636.7 767.2L638.1 767.9L639.5 768.7L640.9 766.4L642.3 766.1L643.7 763.6L645.1 762.8L646.5 763.3L647.9 762.6L649.3 762.4L650.7 761.3L652.1 760.4L653.5 761.8L654.9 764.9L656.3 769.1L657.7 771.5L659.1 774.1L660.5 778.2L661.5 779.0L662.5 781.1L663.5 786.1L664.5 782.9L665.5 780.6L666.5 778.4L667.5 773.2L668.5 767.5L669.5 763.5L670.5 755.8L671.5 750.8L672.5 744.1L673.5 746.4L674.5 740.3L675.5 741.8L676.5 743.0L677.5 735.2L678.5 740.0L679.5 749.8L680.5 748.5L681.5 750.8L682.5 737.8L683.5 739.1L684.5 732.1L685.5 742.4L686.5 745.7L687.5 738.2L688.5 736.5L689.5 734.2L690.5 739.0L691.5 740.9L692.5 742.2L693.5 739.2L694.5 747.1L695.5 734.5L696.5 742.7L697.5 746.5L698.5 743.3L699.5 745.3L700.5 748.7L701.5 750.3L702.5 742.0L703.5 743.4L704.5 739.2L705.5 746.3L706.5 754.6L707.5 739.4L708.5 737.0L709.5 741.6L710.5 737.8L711.5 746.0L712.5 743.3L713.5 745.1L714.5 735.5L715.5 736.7L716.5 751.9L717.5 745.9L718.5 742.8L719.5 737.9L720.5 740.9L721.5 739.3L722.5 742.1L723.5 746.1L724.5 744.1L725.5 746.8L726.5 739.9L727.5 740.8L728.5 745.3L729.5 743.1L730.5 735.5L731.5 744.5L732.5 743.2L733.5 744.4L734.5 740.8L735.5 741.7L736.5 744.4L737.5 745.7L738.5 747.2L739.5 743.3L740.5 741.9L741.5 745.4L742.5 743.8L743.5 746.1L744.5 745.2L745.5 751.9L746.5 739.0L747.5 740.1L748.5 739.9L749.5 740.9L750.5 745.0L751.5 744.4L752.5 745.1L753.5 738.1L754.5 744.0L755.5 744.3L756.5 737.6L757.5 743.7L758.5 749.2L759.5 738.9L760.5 741.5L761.5 747.6L762.5 751.0L763.5 749.0L764.5 752.7L765.5 751.0L766.5 754.2L767.5 746.2L768.5 751.0L769.5 747.8L770.5 747.1L771.5 752.9L772.5 751.0L773.5 749.5L774.5 738.7L775.5 749.2L776.5 750.9L777.5 751.5L778.5 747.2L779.5 743.5L780.5 754.2L781.5 752.2L782.5 745.7L783.5 746.2L784.5 745.8L785.5 751.6L786.5 737.5L787.5 743.9L788.5 749.5L789.5 746.7L790.5 744.2L791.5 742.0L792.5 745.7L793.5 741.7L794.5 748.6L795.5 746.1L796.5 746.2L797.5 747.7L798.5 739.3L799.5 751.9L800.5 748.0L801.5 749.8L802.5 739.2L803.5 745.7L804.5 737.5L805.5 748.7L806.5 748.5L807.5 749.0L808.5 746.5L809.5 745.1L810.5 745.5L811.5 739.4L812.5 746.3L813.5 751.7L814.5 743.2L815.5 745.8L816.5 739.2L817.5 741.4L818.5 742.8L819.5 742.4L820.5 740.0L821.5 746.1L822.5 745.8L823.5 752.5L824.5 746.5L825.5 745.9L826.5 747.0L827.5 750.6L828.5 748.8L829.5 740.3L830.5 739.1L831.5 739.0L832.5 745.1L833.5 743.3L834.5 747.4L835.5 739.3L836.5 753.7L837.5 755.8L838.5 737.3L839.5 744.4L840.5 738.5L841.5 749.1L842.5 744.6L843.5 748.5L844.5 745.0L845.5 738.8L846.5 744.6L847.5 752.7L848.5 750.3L849.5 738.3L850.5 742.9L851.5 745.4L852.5 741.3L853.5 744.6L854.5 751.8L855.5 740.5L856.5 742.9L857.5 753.3L858.5 749.3L859.5 747.8L860.5 748.8L861.5 744.9L862.5 741.5L863.5 745.1L864.5 750.0L865.5 747.0L866.5 743.8L867.5 745.4L868.5 740.7L869.5 742.8L870.5 749.2L871.5 741.4L872.5 747.0L873.5 750.7L874.5 738.9L875.5 752.4L876.5 749.7L877.5 749.2L878.5 748.6L879.5 745.3L880.5 744.5L881.5 753.0L882.5 743.2L883.5 745.8L884.5 736.3L885.5 745.8L886.5 742.0L887.5 742.1L888.5 745.5L889.5 745.8L890.5 749.7L891.5 743.7L892.5 744.0L893.5 743.1L894.5 743.3L895.5 741.4L896.5 749.5L897.5 745.9L898.5 752.0L899.5 745.6L900.5 749.0L901.5 750.8L902.5 750.9L903.5 747.6L904.5 747.9L905.5 745.8L906.5 749.8L907.5 747.8L908.5 744.8L909.5 752.4L910.5 745.0L911.5 743.6L912.5 748.9L913.5 746.1L914.5 749.1L915.5 750.8L916.5 751.9L917.5 749.3L918.5 754.8L919.5 751.8L920.5 746.1L921.5 754.4L922.5 746.4L923.5 749.2L924.5 742.6L925.5 745.7L926.5 751.3L927.5 748.1L928.5 749.8L929.5 744.7L930.5 746.6L931.5 746.8L932.5 744.4L933.5 745.3L934.5 755.6L935.5 744.9L936.5 746.3L937.5 745.4L938.5 741.7L939.5 741.8L940.5 739.4L941.5 746.0L942.5 747.4L943.5 744.6L944.5 744.5L945.5 750.3L946.5 746.1L947.5 750.7L948.5 746.8L949.5 739.9L950.5 751.2L951.5 746.7L952.5 744.8L953.5 743.4L954.5 746.1L955.5 738.8L956.5 752.0L957.5 746.6L958.5 750.9L959.5 752.0L960.5 745.0L961.5 743.4L962.5 740.3L963.5 750.0L964.5 747.7L965.5 746.8L966.5 750.1L967.5 757.1L968.5 745.8L969.5 750.6L970.5 742.8L971.5 743.5L972.5 745.4L973.5 751.4L974.5 750.8L975.5 757.8L976.5 746.8L977.5 745.8L978.5 749.3L979.5 752.9L980.5 747.8L981.5 745.2L982.5 748.4L983.5 751.3L984.5 742.5L985.5 743.2L986.5 751.9L987.5 745.3L988.5 745.1L989.5 748.6L990.5 746.4L991.5 742.6L992.5 748.3L993.5 744.1L994.5 744.4L995.5 740.0L996.5 747.3L997.5 737.2L998.5 745.1L999.5 741.2L1000.5 751.7L1001.5 747.3L1002.5 749.0L1003.5 748.6L1004.5 746.7L1005.5 752.0L1006.5 749.5L1007.5 755.4L1008.5 751.1L1009.5 749.4L1010.5 748.8L1011.5 746.8L1012.5 760.4L1013.5 750.4L1014.5 757.0L1015.5 748.3L1016.5 746.1L1017.5 748.6L1018.5 755.4L1019.5 744.2L1020.5 746.5L1021.5 756.3L1022.5 741.0L1023.5 749.0L1024.5 749.6L1025.5 750.2L1026.5 749.3L1027.5 743.1L1028.5 749.7L1029.5 755.9L1030.5 758.1L1031.5 752.0L1032.5 756.8L1033.5 744.1L1034.5 749.6L1035.5 744.7L1036.5 756.3L1037.5 745.0L1038.5 748.9L1039.5 738.5L1040.5 749.0L1041.5 739.6L1042.5 745.5L1043.5 754.8L1044.5 741.6L1045.5 742.6L1046.5 757.2L1047.5 733.0L1048.5 737.2L1049.5 744.6L1050.5 747.3L1051.5 751.2L1052.5 747.5L1053.5 741.7L1054.5 759.8L1055.5 737.0L1056.5 751.3L1057.5 745.8L1058.5 739.5L1059.5 750.9L1060.5 756.7L1061.5 743.3L1062.5 750.8L1063.5 736.3L1064.5 736.8L1065.5 741.1L1066.5 737.8L1067.5 758.0L1068.5 757.1L1069.5 747.0L1070.5 749.4L1071.5 737.9L1072.5 745.9L1073.5 735.4L1074.5 733.2L1075.5 742.4L1076.5 754.0"/><path stroke="#000000" d="M215.3 644.0L216.7 644.4L218.1 647.2L219.5 649.6L220.9 653.8L222.3 644.5L223.7 650.6L225.1 656.6L226.5 656.5L227.9 662.4L229.3 663.3L230.7 665.4L232.1 664.8L233.5 656.9L234.9 656.9L236.3 659.1L237.7 661.0L239.1 659.8L240.5 658.4L241.9 662.9L243.3 660.7L244.7 661.7L246.1 667.5L247.5 664.8L248.9 659.4L250.3 664.0L251.7 667.2L253.1 669.4L254.5 672.8L255.9 665.1L257.3 667.0L258.7 672.9L260.1 672.7L261.5 663.2L262.9 674.7L264.3 671.9L265.7 671.0L267.1 689.3L268.5 703.2L269.9 679.7L271.3 664.2L272.7 673.4L274.1 677.8L275.5 668.8L276.9 665.1L278.3 680.7L279.7 673.7L281.1 669.9L282.5 673.2L283.9 683.2L285.3 672.6L286.7 668.6L288.1 677.6L289.5 678.8L290.9 677.0L292.3 673.8L293.7 672.2L295.1 674.7L296.5 678.1L297.9 681.0L299.3 678.3L300.7 682.5L302.1 680.8L303.5 682.9L304.9 683.1L306.3 681.8L307.7 681.7L309.1 681.0L310.5 681.9L311.9 682.2L313.3 681.3L314.7 682.2L316.1 681.4L317.5 683.3L318.9 683.9L320.3 684.4L321.7 684.6L323.1 687.8L324.5 686.0L325.9 685.4L327.3 686.0L328.7 687.3L330.1 688.2L331.5 689.4L332.9 688.4L334.3 688.7L335.7 690.0L337.1 690.1L338.5 689.7L339.9 690.7L341.3 693.0L342.7 692.0L344.1 693.6L345.5 693.3L346.9 693.2L348.3 694.1L349.7 695.4L351.1 694.6L352.5 695.6L353.9 695.4L355.3 695.7L356.7 696.2L358.1 697.3L359.5 697.8L360.9 696.7L362.3 699.1L363.7 697.7L365.1 699.6L366.5 698.9L367.9 699.7L369.3 699.8L370.7 701.2L372.1 701.3L373.5 699.8L374.9 701.7L376.3 701.7L377.7 700.4L379.1 701.9L380.5 702.5L381.9 701.9L383.3 701.3L384.7 701.3L386.1 702.8L387.5 702.6L388.9 703.4L390.3 703.2L391.7 701.7L393.1 703.4L394.5 703.4L395.9 703.5L397.3 703.6L398.7 703.8L400.1 703.2L401.5 704.5L402.9 705.4L404.3 704.9L405.7 705.7L407.1 706.6L408.5 707.5L409.9 709.4L411.3 709.2L412.7 708.8L414.1 709.5L415.5 710.0L416.9 711.0L418.3 709.4L419.7 711.1L421.1 712.6L422.5 712.9L423.9 712.7L425.3 713.5L426.7 712.3L428.1 714.5L429.5 713.8L430.9 715.3L432.3 714.7L433.7 715.3L435.1 716.0L436.5 716.3L437.9 715.7L439.3 715.8L440.7 717.6L442.1 716.6L443.5 717.6L444.9 717.7L446.3 718.4L447.7 718.7L449.1 718.4L450.5 718.9L451.9 717.1L453.3 719.4L454.7 718.5L456.1 720.3L457.5 719.1L458.9 718.9L460.3 720.1L461.7 721.1L463.1 719.3L464.5 718.9L465.9 719.3L467.3 719.2L468.7 718.3L470.1 717.6L471.5 718.3L472.9 718.8L474.3 716.9L475.7 715.0L477.1 716.1L478.5 717.3L479.9 715.4L481.3 715.9L482.7 717.4L484.1 718.3L485.5 715.8L486.9 716.4L488.3 717.0L489.7 715.9L491.1 716.0L492.5 717.5L493.9 717.3L495.3 717.5L496.7 716.7L498.1 717.8L499.5 718.7L500.9 718.8L502.3 719.5L503.7 718.8L505.1 718.5L506.5 718.1L507.9 719.3L509.3 721.3L510.7 720.1L512.1 721.4L513.5 719.8L514.9 719.6L516.3 721.7L517.7 721.1L519.1 722.3L520.5 722.3L521.9 722.7L523.3 722.3L524.7 723.0L526.1 722.6L527.5 721.9L528.9 723.7L530.3 722.7L531.7 721.4L533.1 722.8L534.5 721.9L535.9 721.6L537.3 721.4L538.7 721.8L540.1 722.8L541.5 721.8L542.9 721.2L544.3 721.1L545.7 720.9L547.1 720.1L548.5 719.0L549.9 721.0L551.3 720.1L552.7 720.2L554.1 720.2L555.5 718.6L556.9 718.7L558.3 719.1L559.7 719.6L561.1 718.8L562.5 719.6L563.9 718.5L565.3 719.2L566.7 719.6L568.1 719.0L569.5 718.2L570.9 719.7L572.3 718.5L573.7 719.0L575.1 719.0L576.5 718.0L577.9 717.6L579.3 718.5L580.7 719.1L582.1 717.8L583.5 717.9L584.9 718.9L586.3 717.8L587.7 716.9L589.1 716.7L590.5 717.7L591.9 717.2L593.3 717.5L594.7 719.1L596.1 720.3L597.5 719.1L598.9 720.2L600.3 719.7L601.7 719.8L603.1 721.5L604.5 721.8L605.9 720.9L607.3 721.7L608.7 720.9L610.1 721.0L611.5 721.8L612.9 722.6L614.3 722.8L615.7 724.1L617.1 724.1L618.5 724.4L619.9 724.4L621.3 725.8L622.7 723.7L624.1 723.9L625.5 725.4L626.9 725.1L628.3 725.1L629.7 726.7L631.1 726.7L632.5 728.1L633.9 727.4L635.3 727.0L636.7 728.5L638.1 727.0L639.5 725.5L640.9 721.9L642.3 720.4L643.7 718.2L645.1 716.4L646.5 715.6L647.9 714.2L649.3 714.9L650.7 713.7L652.1 715.3L653.5 716.9L654.9 719.7L656.3 724.1L657.7 731.4L659.1 739.0L660.5 744.9L661.5 746.8L662.5 754.8L663.5 761.8L664.5 768.0L665.5 771.7L666.5 770.6L667.5 772.3L668.5 765.6L669.5 754.2L670.5 741.5L671.5 728.9L672.5 729.2L673.5 732.0L674.5 729.7L675.5 743.5L676.5 743.8L677.5 731.5L678.5 727.4L679.5 736.1L680.5 727.3L681.5 745.6L682.5 732.2L683.5 734.1L684.5 728.1L685.5 728.0L686.5 736.1L687.5 733.9L688.5 732.6L689.5 722.4L690.5 724.8L691.5 740.6L692.5 735.9L693.5 738.7L694.5 738.1L695.5 742.9L696.5 734.8L697.5 734.1L698.5 733.8L699.5 733.9L700.5 738.9L701.5 725.1L702.5 738.6L703.5 728.9L704.5 734.7L705.5 737.2L706.5 751.0L707.5 725.9L708.5 735.0L709.5 733.9L710.5 738.9L711.5 735.2L712.5 738.5L713.5 743.7L714.5 741.2L715.5 738.4L716.5 740.5L717.5 733.2L718.5 724.1L719.5 733.1L720.5 725.3L721.5 732.4L722.5 734.7L723.5 733.3L724.5 730.0L725.5 738.5L726.5 742.1L727.5 742.1L728.5 734.9L729.5 732.6L730.5 726.0L731.5 739.6L732.5 730.0L733.5 740.2L734.5 738.2L735.5 738.9L736.5 717.4L737.5 739.3L738.5 741.7L739.5 735.0L740.5 730.7L741.5 726.6L742.5 736.2L743.5 731.3L744.5 733.0L745.5 734.2L746.5 738.1L747.5 739.9L748.5 734.5L749.5 739.2L750.5 735.8L751.5 737.5L752.5 737.2L753.5 738.6L754.5 735.6L755.5 724.7L756.5 741.7L757.5 725.6L758.5 734.3L759.5 736.0L760.5 736.6L761.5 737.9L762.5 742.8L763.5 726.9L764.5 737.1L765.5 736.8L766.5 737.7L767.5 727.4L768.5 737.5L769.5 725.9L770.5 727.3L771.5 730.6L772.5 737.9L773.5 735.8L774.5 737.5L775.5 743.4L776.5 729.9L777.5 729.1L778.5 732.5L779.5 735.2L780.5 725.6L781.5 734.3L782.5 730.2L783.5 741.0L784.5 729.0L785.5 731.2L786.5 737.2L787.5 732.1L788.5 756.2L789.5 737.1L790.5 743.5L791.5 736.4L792.5 733.0L793.5 744.0L794.5 748.1L795.5 734.3L796.5 731.0L797.5 727.4L798.5 716.3L799.5 725.5L800.5 734.9L801.5 729.1L802.5 728.1L803.5 739.7L804.5 738.3L805.5 743.8L806.5 737.4L807.5 736.7L808.5 734.5L809.5 740.6L810.5 737.8L811.5 731.2L812.5 738.0L813.5 736.3L814.5 732.5L815.5 732.0L816.5 732.8L817.5 735.8L818.5 727.2L819.5 735.6L820.5 734.8L821.5 729.2L822.5 735.6L823.5 735.4L824.5 735.2L825.5 739.0L826.5 732.3L827.5 736.8L828.5 742.6L829.5 736.3L830.5 749.9L831.5 738.3L832.5 739.9L833.5 743.5L834.5 738.5L835.5 731.0L836.5 731.8L837.5 729.6L838.5 738.4L839.5 732.2L840.5 738.8L841.5 722.6L842.5 731.0L843.5 728.1L844.5 745.3L845.5 734.2L846.5 730.3L847.5 742.2L848.5 742.8L849.5 736.2L850.5 739.0L851.5 731.4L852.5 744.4L853.5 744.1L854.5 740.1L855.5 736.5L856.5 735.8L857.5 739.1L858.5 735.5L859.5 743.8L860.5 735.5L861.5 738.9L862.5 746.4L863.5 729.4L864.5 729.9L865.5 757.1L866.5 734.6L867.5 733.4L868.5 736.6L869.5 759.1L870.5 728.8L871.5 736.9L872.5 729.3L873.5 731.5L874.5 740.8L875.5 735.8L876.5 731.6L877.5 735.4L878.5 732.8L879.5 733.8L880.5 728.7L881.5 743.3L882.5 734.8L883.5 741.7L884.5 743.2L885.5 735.2L886.5 744.6L887.5 739.8L888.5 762.3L889.5 735.6L890.5 734.0L891.5 730.8L892.5 739.2L893.5 734.1L894.5 745.7L895.5 743.6L896.5 734.4L897.5 741.3L898.5 738.3L899.5 737.0L900.5 758.0L901.5 733.7L902.5 742.4L903.5 735.4L904.5 747.3L905.5 734.5L906.5 733.6L907.5 734.4L908.5 749.5L909.5 754.5L910.5 741.3L911.5 734.0L912.5 728.9L913.5 739.6L914.5 737.1L915.5 733.6L916.5 736.2L917.5 733.0L918.5 739.0L919.5 738.6L920.5 736.9L921.5 739.7L922.5 742.2L923.5 738.9L924.5 736.5L925.5 732.7L926.5 738.8L927.5 754.8L928.5 745.9L929.5 745.4L930.5 740.3L931.5 736.4L932.5 732.1L933.5 738.9L934.5 739.6L935.5 748.7L936.5 743.6L937.5 739.4L938.5 736.3L939.5 741.0L940.5 740.4L941.5 744.7L942.5 737.1L943.5 729.7L944.5 741.9L945.5 740.4L946.5 736.0L947.5 733.0L948.5 735.6L949.5 741.2L950.5 735.0L951.5 735.5L952.5 736.2L953.5 750.9L954.5 744.8L955.5 726.2L956.5 739.7L957.5 738.2L958.5 736.0L959.5 736.2L960.5 741.1L961.5 740.8L962.5 733.3L963.5 735.4L964.5 738.7L965.5 742.0L966.5 743.3L967.5 740.5L968.5 741.6L969.5 744.8L970.5 743.5L971.5 733.5L972.5 739.9L973.5 732.6L974.5 735.1L975.5 739.1L976.5 738.9L977.5 737.8L978.5 743.6L979.5 726.9L980.5 742.7L981.5 739.1L982.5 741.9L983.5 738.7L984.5 733.3L985.5 726.3L986.5 734.0L987.5 725.3L988.5 743.4L989.5 745.1L990.5 732.9L991.5 735.2L992.5 732.8L993.5 738.0L994.5 735.4L995.5 754.0L996.5 736.4L997.5 738.9L998.5 745.2L999.5 733.5L1000.5 743.3L1001.5 746.6L1002.5 739.8L1003.5 736.0L1004.5 738.3L1005.5 743.3L1006.5 742.0L1007.5 739.7L1008.5 733.4L1009.5 739.1L1010.5 739.0L1011.5 735.9L1012.5 739.2L1013.5 748.8L1014.5 729.5L1015.5 737.2L1016.5 741.2L1017.5 737.3L1018.5 743.3L1019.5 748.9L1020.5 740.4L1021.5 750.5L1022.5 734.0L1023.5 753.7L1024.5 736.9L1025.5 743.7L1026.5 745.9L1027.5 742.0L1028.5 741.0L1029.5 735.7L1030.5 760.6L1031.5 734.1L1032.5 733.9L1033.5 754.3L1034.5 747.5L1035.5 740.0L1036.5 733.9L1037.5 735.3L1038.5 741.8L1039.5 743.1L1040.5 742.3L1041.5 745.6L1042.5 745.1L1043.5 732.2L1044.5 731.6L1045.5 738.0L1046.5 733.5L1047.5 740.1L1048.5 747.2L1049.5 730.6L1050.5 736.0L1051.5 735.2L1052.5 748.7L1053.5 737.9L1054.5 736.3L1055.5 746.8L1056.5 725.0L1057.5 730.8L1058.5 753.0L1059.5 741.5L1060.5 742.4L1061.5 750.7L1062.5 752.6L1063.5 751.3L1064.5 746.1L1065.5 730.8L1066.5 736.8L1067.5 744.4L1068.5 738.1L1069.5 746.8L1070.5 737.4L1071.5 751.7L1072.5 715.6L1073.5 734.9L1074.5 739.5L1075.5 740.1L1076.5 737.1"/></g><path d="M215.3,779.75H1077.4" stroke="#000" stroke-opacity="0.3" stroke-width="4" stroke-dasharray="15.8,7" stroke-dashoffset="-8"/><rect x="234" y="654" width="66.5" height="53.2" fill="#fff" fill-opacity="0.8"/><text x="241.0" y="692.1" font-size="45.5" text-anchor="start" fill="#000" >(c)</text><line x1="645.6" y1="646.0" x2="645.6" y2="913.5" stroke="#0000ff" stroke-opacity="0.5" stroke-width="2.7" stroke-dasharray="10.4,4.8"/><rect x="722" y="840.8" width="337.5" height="54.2" rx="6" fill="#fff" fill-opacity="0.8" stroke="#cccccc" stroke-width="2.4"/><path d="M729,862.7H801" stroke="#0000ff" stroke-opacity="0.5" stroke-width="2.7" stroke-dasharray="10.4,4.8"/><text x="818.5" y="873.3" font-size="37.5" text-anchor="start" fill="#000" >R</text><text x="845.0" y="884.8" font-size="27" text-anchor="start" fill="#000" >SS</text><text x="888.0" y="873.3" font-size="37.5" text-anchor="start" fill="#000" >=</text><text x="915.0" y="873.3" font-size="37.5" text-anchor="start" fill="#000" >1.37</text><text x="999.5" y="873.3" font-size="37.5" text-anchor="start" fill="#000" >R</text><text x="1026.0" y="884.8" font-size="27" text-anchor="start" fill="#000" >M</text><path d="M214.3,904.57h5.5M1078.4,904.57h-5.5 M214.3,886.74h5.5M1078.4,886.74h-5.5 M214.3,868.91h11M1078.4,868.91h-11 M214.3,851.08h5.5M1078.4,851.08h-5.5 M214.3,833.25h5.5M1078.4,833.25h-5.5 M214.3,815.41h5.5M1078.4,815.41h-5.5 M214.3,797.58h5.5M1078.4,797.58h-5.5 M214.3,779.75h11M1078.4,779.75h-11 M214.3,761.92h5.5M1078.4,761.92h-5.5 M214.3,744.09h5.5M1078.4,744.09h-5.5 M214.3,726.25h5.5M1078.4,726.25h-5.5 M214.3,708.42h5.5M1078.4,708.42h-5.5 M214.3,690.59h11M1078.4,690.59h-11 M214.3,672.76h5.5M1078.4,672.76h-5.5 M214.3,654.93h5.5M1078.4,654.93h-5.5" stroke="#000" stroke-width="2" fill="none"/><path d="M235.90,913.50v-5.2 M235.90,646.00v5.2 M257.50,913.50v-5.2 M257.50,646.00v5.2 M279.11,913.50v-5.2 M279.11,646.00v5.2 M300.71,913.50v-5.2 M300.71,646.00v5.2 M322.31,913.50v-5.2 M322.31,646.00v5.2 M343.92,913.50v-5.2 M343.92,646.00v5.2 M365.52,913.50v-5.2 M365.52,646.00v5.2 M387.12,913.50v-10.5 M387.12,646.00v10.5 M408.72,913.50v-5.2 M408.72,646.00v5.2 M430.33,913.50v-5.2 M430.33,646.00v5.2 M451.93,913.50v-5.2 M451.93,646.00v5.2 M473.53,913.50v-5.2 M473.53,646.00v5.2 M495.13,913.50v-5.2 M495.13,646.00v5.2 M516.74,913.50v-5.2 M516.74,646.00v5.2 M538.34,913.50v-5.2 M538.34,646.00v5.2 M559.94,913.50v-10.5 M559.94,646.00v10.5 M581.54,913.50v-5.2 M581.54,646.00v5.2 M603.15,913.50v-5.2 M603.15,646.00v5.2 M624.75,913.50v-5.2 M624.75,646.00v5.2 M646.35,913.50v-5.2 M646.35,646.00v5.2 M667.95,913.50v-5.2 M667.95,646.00v5.2 M689.56,913.50v-5.2 M689.56,646.00v5.2 M711.16,913.50v-5.2 M711.16,646.00v5.2 M732.76,913.50v-10.5 M732.76,646.00v10.5 M754.36,913.50v-5.2 M754.36,646.00v5.2 M775.97,913.50v-5.2 M775.97,646.00v5.2 M797.57,913.50v-5.2 M797.57,646.00v5.2 M819.17,913.50v-5.2 M819.17,646.00v5.2 M840.77,913.50v-5.2 M840.77,646.00v5.2 M862.38,913.50v-5.2 M862.38,646.00v5.2 M883.98,913.50v-5.2 M883.98,646.00v5.2 M905.58,913.50v-10.5 M905.58,646.00v10.5 M927.18,913.50v-5.2 M927.18,646.00v5.2 M948.79,913.50v-5.2 M948.79,646.00v5.2 M970.39,913.50v-5.2 M970.39,646.00v5.2 M991.99,913.50v-5.2 M991.99,646.00v5.2 M1013.59,913.50v-5.2 M1013.59,646.00v5.2 M1035.20,913.50v-5.2 M1035.20,646.00v5.2 M1056.80,913.50v-5.2 M1056.80,646.00v5.2" stroke="#000" stroke-width="2" fill="none"/><rect x="214.3" y="646.0" width="864.10" height="267.50" fill="none" stroke="#000" stroke-width="2.2"/><text x="196.0" y="703.3" font-size="37" text-anchor="end" fill="#000" >200</text><text x="196.0" y="793.3" font-size="37" text-anchor="end" fill="#000" >0</text><text x="196.0" y="882.2" font-size="37" text-anchor="end" fill="#000" >-200</text><text transform="translate(78.0,779.4) rotate(-90)" font-size="37" text-anchor="middle" textLength="149" lengthAdjust="spacingAndGlyphs">MAG (nT)</text><text x="1107.5" y="739" font-size="39" fill="#ff0000">B<tspan font-size="27" dy="11.5">X</tspan></text><text x="1107.5" y="786.4" font-size="39" fill="#008000">B<tspan font-size="27" dy="11.5">Y</tspan></text><text x="1107.5" y="833.7" font-size="39" fill="#0000ff">B<tspan font-size="27" dy="11.5">Z</tspan></text><text x="67.5" y="955.4" font-size="37" text-anchor="middle" fill="#000" >UT</text><text x="214.3" y="955.4" font-size="37" text-anchor="middle" fill="#000" >06:11</text><text x="387.1" y="955.4" font-size="37" text-anchor="middle" fill="#000" >06:15</text><text x="559.9" y="955.4" font-size="37" text-anchor="middle" fill="#000" >06:19</text><text x="732.8" y="955.4" font-size="37" text-anchor="middle" fill="#000" >06:23</text><text x="905.6" y="955.4" font-size="37" text-anchor="middle" fill="#000" >06:27</text><text x="1078.4" y="955.4" font-size="37" text-anchor="middle" fill="#000" >06:31</text><text x="67.5" y="994.7" font-size="37" text-anchor="middle" fill="#000" >X</text><text x="257.3" y="994.7" font-size="37" text-anchor="end" fill="#000" >0.32</text><text x="430.1" y="994.7" font-size="37" text-anchor="end" fill="#000" >0.66</text><text x="602.9" y="994.7" font-size="37" text-anchor="end" fill="#000" >0.97</text><text x="775.8" y="994.7" font-size="37" text-anchor="end" fill="#000" >1.25</text><text x="948.6" y="994.7" font-size="37" text-anchor="end" fill="#000" >1.51</text><text x="1121.4" y="994.7" font-size="37" text-anchor="end" fill="#000" >1.74</text><text x="67.5" y="1033.5" font-size="37" text-anchor="middle" fill="#000" >Y</text><text x="257.3" y="1033.5" font-size="37" text-anchor="end" fill="#000" >-0.16</text><text x="430.1" y="1033.5" font-size="37" text-anchor="end" fill="#000" >-0.19</text><text x="602.9" y="1033.5" font-size="37" text-anchor="end" fill="#000" >-0.22</text><text x="775.8" y="1033.5" font-size="37" text-anchor="end" fill="#000" >-0.23</text><text x="948.6" y="1033.5" font-size="37" text-anchor="end" fill="#000" >-0.25</text><text x="1121.4" y="1033.5" font-size="37" text-anchor="end" fill="#000" >-0.26</text><text x="67.5" y="1072.8" font-size="37" text-anchor="middle" fill="#000" >Z</text><text x="257.3" y="1072.8" font-size="37" text-anchor="end" fill="#000" >0.91</text><text x="430.1" y="1072.8" font-size="37" text-anchor="end" fill="#000" >0.89</text><text x="602.9" y="1072.8" font-size="37" text-anchor="end" fill="#000" >0.82</text><text x="775.8" y="1072.8" font-size="37" text-anchor="end" fill="#000" >0.73</text><text x="948.6" y="1072.8" font-size="37" text-anchor="end" fill="#000" >0.61</text><text x="1121.4" y="1072.8" font-size="37" text-anchor="end" fill="#000" >0.48</text><clipPath id="cd"><rect x="214.3" y="1115.3" width="291.6" height="291.6"/></clipPath><g clip-path="url(#cd)"><path d="M287.58,1428.23 L285.80,1425.94 L284.07,1423.68 L282.37,1421.44 L280.72,1419.23 L279.11,1417.04 L277.54,1414.87 L276.00,1412.73 L274.51,1410.61 L273.04,1408.52 L271.61,1406.44 L270.22,1404.39 L268.85,1402.35 L267.52,1400.33 L266.22,1398.34 L264.95,1396.36 L263.71,1394.40 L262.50,1392.46 L261.32,1390.54 L260.16,1388.63 L259.03,1386.74 L257.92,1384.87 L256.84,1383.01 L255.79,1381.17 L254.76,1379.34 L253.75,1377.53 L252.77,1375.73 L251.81,1373.95 L250.87,1372.18 L249.95,1370.43 L249.05,1368.68 L248.18,1366.95 L247.32,1365.23 L246.49,1363.53 L245.67,1361.84 L244.87,1360.15 L244.09,1358.48 L243.33,1356.82 L242.58,1355.18 L241.86,1353.54 L241.15,1351.91 L240.45,1350.29 L239.78,1348.69 L239.12,1347.09 L238.47,1345.50 L237.84,1343.92 L237.23,1342.35 L236.63,1340.79 L236.05,1339.23 L235.48,1337.69 L234.92,1336.15 L234.38,1334.62 L233.85,1333.10 L233.33,1331.59 L232.83,1330.08 L232.34,1328.58 L231.87,1327.09 L231.40,1325.60 L230.95,1324.12 L230.52,1322.65 L230.09,1321.18 L229.67,1319.72 L229.27,1318.26 L228.88,1316.81 L228.50,1315.37 L228.13,1313.93 L227.77,1312.50 L227.43,1311.07 L227.09,1309.65 L226.77,1308.23 L226.45,1306.81 L226.15,1305.40 L225.86,1304.00 L225.57,1302.59 L225.30,1301.20 L225.04,1299.80 L224.78,1298.41 L224.54,1297.03 L224.31,1295.64 L224.08,1294.26 L223.87,1292.89 L223.66,1291.51 L223.47,1290.14 L223.28,1288.77 L223.11,1287.41 L222.94,1286.04 L222.78,1284.68 L222.63,1283.32 L222.49,1281.96 L222.36,1280.61 L222.24,1279.26 L222.12,1277.90 L222.02,1276.55 L221.92,1275.21 L221.84,1273.86 L221.76,1272.51 L221.69,1271.17 L221.63,1269.82 L221.58,1268.48 L221.53,1267.14 L221.50,1265.80 L221.47,1264.45 L221.46,1263.11 L221.45,1261.77 L221.45,1260.43 L221.46,1259.09 L221.47,1257.75 L221.50,1256.40 L221.53,1255.06 L221.58,1253.72 L221.63,1252.38 L221.69,1251.03 L221.76,1249.69 L221.84,1248.34 L221.92,1246.99 L222.02,1245.65 L222.12,1244.30 L222.24,1242.94 L222.36,1241.59 L222.49,1240.24 L222.63,1238.88 L222.78,1237.52 L222.94,1236.16 L223.11,1234.79 L223.28,1233.43 L223.47,1232.06 L223.66,1230.69 L223.87,1229.31 L224.08,1227.94 L224.31,1226.56 L224.54,1225.17 L224.78,1223.79 L225.04,1222.40 L225.30,1221.00 L225.57,1219.61 L225.86,1218.20 L226.15,1216.80 L226.45,1215.39 L226.77,1213.97 L227.09,1212.55 L227.43,1211.13 L227.77,1209.70 L228.13,1208.27 L228.50,1206.83 L228.88,1205.39 L229.27,1203.94 L229.67,1202.48 L230.09,1201.02 L230.52,1199.55 L230.95,1198.08 L231.40,1196.60 L231.87,1195.11 L232.34,1193.62 L232.83,1192.12 L233.33,1190.61 L233.85,1189.10 L234.38,1187.58 L234.92,1186.05 L235.48,1184.51 L236.05,1182.97 L236.63,1181.41 L237.23,1179.85 L237.84,1178.28 L238.47,1176.70 L239.12,1175.11 L239.78,1173.51 L240.45,1171.91 L241.15,1170.29 L241.86,1168.66 L242.58,1167.02 L243.33,1165.38 L244.09,1163.72 L244.87,1162.05 L245.67,1160.36 L246.49,1158.67 L247.32,1156.97 L248.18,1155.25 L249.05,1153.52 L249.95,1151.77 L250.87,1150.02 L251.81,1148.25 L252.77,1146.47 L253.75,1144.67 L254.76,1142.86 L255.79,1141.03 L256.84,1139.19 L257.92,1137.33 L259.03,1135.46 L260.16,1133.57 L261.32,1131.66 L262.50,1129.74 L263.71,1127.80 L264.95,1125.84 L266.22,1123.86 L267.52,1121.87 L268.85,1119.85 L270.22,1117.81 L271.61,1115.76 L273.04,1113.68 L274.51,1111.59 L276.00,1109.47 L277.54,1107.33 L279.11,1105.16 L280.72,1102.97 L282.37,1100.76 L284.07,1098.52 L285.80,1096.26 L287.58,1093.97" stroke="#008000" stroke-width="3.4" fill="none"/><path d="M404.65,1428.70 L402.09,1427.85 L399.57,1426.99 L397.08,1426.13 L394.63,1425.26 L392.22,1424.38 L389.83,1423.49 L387.49,1422.60 L385.17,1421.70 L382.89,1420.80 L380.63,1419.89 L378.41,1418.97 L376.22,1418.04 L374.06,1417.11 L371.93,1416.17 L369.82,1415.22 L367.74,1414.27 L365.70,1413.31 L363.67,1412.34 L361.68,1411.37 L359.71,1410.39 L357.76,1409.41 L355.85,1408.42 L353.95,1407.42 L352.08,1406.41 L350.24,1405.40 L348.42,1404.39 L346.62,1403.36 L344.84,1402.33 L343.09,1401.30 L341.36,1400.26 L339.65,1399.21 L337.97,1398.16 L336.30,1397.10 L334.66,1396.03 L333.04,1394.96 L331.44,1393.89 L329.86,1392.80 L328.30,1391.72 L326.76,1390.62 L325.24,1389.52 L323.74,1388.42 L322.26,1387.31 L320.79,1386.19 L319.35,1385.07 L317.93,1383.95 L316.52,1382.81 L315.14,1381.68 L313.77,1380.54 L312.42,1379.39 L311.08,1378.24 L309.77,1377.08 L308.47,1375.92 L307.20,1374.75 L305.93,1373.58 L304.69,1372.40 L303.46,1371.22 L302.25,1370.03 L301.06,1368.84 L299.88,1367.64 L298.73,1366.44 L297.58,1365.24 L296.46,1364.03 L295.35,1362.82 L294.25,1361.60 L293.18,1360.38 L292.11,1359.15 L291.07,1357.92 L290.04,1356.68 L289.03,1355.44 L288.03,1354.20 L287.05,1352.95 L286.08,1351.70 L285.13,1350.45 L284.19,1349.19 L283.27,1347.92 L282.37,1346.66 L281.48,1345.39 L280.61,1344.11 L279.75,1342.84 L278.90,1341.55 L278.07,1340.27 L277.26,1338.98 L276.46,1337.69 L275.68,1336.40 L274.91,1335.10 L274.15,1333.80 L273.41,1332.49 L272.69,1331.19 L271.98,1329.88 L271.28,1328.56 L270.60,1327.25 L269.93,1325.93 L269.28,1324.61 L268.64,1323.28 L268.01,1321.95 L267.40,1320.62 L266.81,1319.29 L266.23,1317.96 L265.66,1316.62 L265.11,1315.28 L264.57,1313.94 L264.04,1312.59 L263.53,1311.25 L263.04,1309.90 L262.56,1308.55 L262.09,1307.20 L261.63,1305.84 L261.19,1304.48 L260.77,1303.13 L260.35,1301.77 L259.96,1300.40 L259.57,1299.04 L259.20,1297.67 L258.84,1296.31 L258.50,1294.94 L258.17,1293.57 L257.86,1292.20 L257.56,1290.82 L257.27,1289.45 L256.99,1288.08 L256.73,1286.70 L256.49,1285.32 L256.26,1283.94 L256.04,1282.56 L255.83,1281.18 L255.64,1279.80 L255.46,1278.42 L255.30,1277.04 L255.15,1275.65 L255.01,1274.27 L254.89,1272.88 L254.78,1271.50 L254.68,1270.11 L254.60,1268.73 L254.53,1267.34 L254.48,1265.95 L254.44,1264.57 L254.41,1263.18 L254.40,1261.79 L254.40,1260.41 L254.41,1259.02 L254.44,1257.63 L254.48,1256.25 L254.53,1254.86 L254.60,1253.47 L254.68,1252.09 L254.78,1250.70 L254.89,1249.32 L255.01,1247.93 L255.15,1246.55 L255.30,1245.16 L255.46,1243.78 L255.64,1242.40 L255.83,1241.02 L256.04,1239.64 L256.26,1238.26 L256.49,1236.88 L256.73,1235.50 L256.99,1234.12 L257.27,1232.75 L257.56,1231.38 L257.86,1230.00 L258.17,1228.63 L258.50,1227.26 L258.84,1225.89 L259.20,1224.53 L259.57,1223.16 L259.96,1221.80 L260.35,1220.43 L260.77,1219.07 L261.19,1217.72 L261.63,1216.36 L262.09,1215.00 L262.56,1213.65 L263.04,1212.30 L263.53,1210.95 L264.04,1209.61 L264.57,1208.26 L265.11,1206.92 L265.66,1205.58 L266.23,1204.24 L266.81,1202.91 L267.40,1201.58 L268.01,1200.25 L268.64,1198.92 L269.28,1197.59 L269.93,1196.27 L270.60,1194.95 L271.28,1193.64 L271.98,1192.32 L272.69,1191.01 L273.41,1189.71 L274.15,1188.40 L274.91,1187.10 L275.68,1185.80 L276.46,1184.51 L277.26,1183.22 L278.07,1181.93 L278.90,1180.65 L279.75,1179.36 L280.61,1178.09 L281.48,1176.81 L282.37,1175.54 L283.27,1174.28 L284.19,1173.01 L285.13,1171.75 L286.08,1170.50 L287.05,1169.25 L288.03,1168.00 L289.03,1166.76 L290.04,1165.52 L291.07,1164.28 L292.11,1163.05 L293.18,1161.82 L294.25,1160.60 L295.35,1159.38 L296.46,1158.17 L297.58,1156.96 L298.73,1155.76 L299.88,1154.56 L301.06,1153.36 L302.25,1152.17 L303.46,1150.98 L304.69,1149.80 L305.93,1148.62 L307.20,1147.45 L308.47,1146.28 L309.77,1145.12 L311.08,1143.96 L312.42,1142.81 L313.77,1141.66 L315.14,1140.52 L316.52,1139.39 L317.93,1138.25 L319.35,1137.13 L320.79,1136.01 L322.26,1134.89 L323.74,1133.78 L325.24,1132.68 L326.76,1131.58 L328.30,1130.48 L329.86,1129.40 L331.44,1128.31 L333.04,1127.24 L334.66,1126.17 L336.30,1125.10 L337.97,1124.04 L339.65,1122.99 L341.36,1121.94 L343.09,1120.90 L344.84,1119.87 L346.62,1118.84 L348.42,1117.81 L350.24,1116.80 L352.08,1115.79 L353.95,1114.78 L355.85,1113.78 L357.76,1112.79 L359.71,1111.81 L361.68,1110.83 L363.67,1109.86 L365.70,1108.89 L367.74,1107.93 L369.82,1106.98 L371.93,1106.03 L374.06,1105.09 L376.22,1104.16 L378.41,1103.23 L380.63,1102.31 L382.89,1101.40 L385.17,1100.50 L387.49,1099.60 L389.83,1098.71 L392.22,1097.82 L394.63,1096.94 L397.08,1096.07 L399.57,1095.21 L402.09,1094.35 L404.65,1093.50" stroke="#0000ff" stroke-width="3.4" fill="none"/><circle cx="360.10" cy="1275.68" r="72.90" fill="none" stroke="#000" stroke-width="4"/><path d="M360.10,1202.78 A72.90,72.90 0 0 1 360.10,1348.58 Z" fill="#000" stroke="#000" stroke-width="4"/><path d="M214.3,1261.10H505.90000000000003" stroke="#555" stroke-width="3.4" stroke-dasharray="14.8,7.7" stroke-dashoffset="-3" fill="none"/><path d="M360.10,1115.3V1406.9" stroke="#555" stroke-width="3.4" stroke-dasharray="14.8,7.7" stroke-dashoffset="-8" fill="none"/><path d="M192.43,1252.35 L193.46,1251.85 L194.73,1251.25 L196.19,1250.56 L197.83,1249.79 L199.62,1248.94 L201.54,1248.02 L203.56,1247.04 L205.66,1246.01 L207.81,1244.92 L209.98,1243.79 L212.15,1242.62 L214.30,1241.42 L216.51,1240.13 L218.87,1238.72 L221.35,1237.20 L223.91,1235.61 L226.52,1233.97 L229.15,1232.30 L231.77,1230.64 L234.33,1229.00 L236.82,1227.41 L239.19,1225.89 L241.42,1224.48 L243.46,1223.19 L245.34,1222.01 L247.12,1220.89 L248.79,1219.83 L250.37,1218.82 L251.87,1217.86 L253.30,1216.95 L254.67,1216.08 L255.99,1215.25 L257.27,1214.46 L258.51,1213.70 L259.74,1212.97 L260.96,1212.26 L262.08,1211.60 L263.04,1211.03 L263.87,1210.53 L264.63,1210.07 L265.34,1209.65 L266.06,1209.25 L266.81,1208.86 L267.65,1208.45 L268.61,1208.02 L269.73,1207.55 L271.05,1207.02 L272.62,1206.42 L274.44,1205.74 L276.47,1204.99 L278.68,1204.18 L281.04,1203.32 L283.53,1202.44 L286.11,1201.55 L288.74,1200.67 L291.41,1199.81 L294.08,1198.99 L296.72,1198.23 L299.29,1197.55 L301.78,1196.95 L304.21,1196.42 L306.64,1195.94 L309.07,1195.49 L311.50,1195.08 L313.93,1194.72 L316.36,1194.40 L318.79,1194.11 L321.22,1193.87 L323.65,1193.67 L326.08,1193.51 L328.51,1193.38 L330.94,1193.30 L333.36,1193.26 L335.76,1193.25 L338.14,1193.27 L340.53,1193.33 L342.91,1193.43 L345.29,1193.58 L347.69,1193.77 L350.11,1194.00 L352.55,1194.29 L355.03,1194.64 L357.54,1195.03 L360.10,1195.49 L362.71,1195.98 L365.38,1196.50 L368.10,1197.04 L370.85,1197.62 L373.62,1198.26 L376.41,1198.95 L379.21,1199.72 L382.00,1200.57 L384.77,1201.50 L387.52,1202.54 L390.24,1203.69 L392.91,1204.97 L395.56,1206.35 L398.22,1207.83 L400.88,1209.40 L403.54,1211.07 L406.19,1212.83 L408.81,1214.67 L411.39,1216.61 L413.94,1218.63 L416.43,1220.74 L418.87,1222.93 L421.23,1225.21 L423.52,1227.57 L425.75,1230.02 L427.93,1232.60 L430.06,1235.27 L432.14,1238.04 L434.17,1240.90 L436.14,1243.83 L438.07,1246.83 L439.94,1249.89 L441.75,1253.01 L443.51,1256.16 L445.21,1259.35 L446.85,1262.56 L448.43,1265.83 L449.96,1269.21 L451.43,1272.67 L452.85,1276.19 L454.20,1279.77 L455.51,1283.38 L456.76,1287.01 L457.95,1290.64 L459.08,1294.25 L460.17,1297.84 L461.19,1301.37 L462.16,1304.84 L463.06,1308.31 L463.90,1311.85 L464.67,1315.43 L465.37,1319.01 L466.02,1322.59 L466.63,1326.12 L467.18,1329.58 L467.69,1332.95 L468.17,1336.19 L468.62,1339.29 L469.05,1342.21 L469.45,1344.93 L469.82,1347.42 L470.16,1349.69 L470.46,1351.76 L470.72,1353.68 L470.94,1355.48 L471.14,1357.19 L471.29,1358.85 L471.42,1360.49 L471.52,1362.14 L471.58,1363.84 L471.62,1365.63 L471.64,1367.53 L471.61,1369.56 L471.55,1371.66 L471.45,1373.82 L471.31,1376.01 L471.15,1378.22 L470.95,1380.43 L470.74,1382.61 L470.50,1384.73 L470.25,1386.79 L469.99,1388.75 L469.72,1390.60 L469.45,1392.32 L469.16,1393.87 L468.83,1395.26 L468.48,1396.51 L468.10,1397.67 L467.71,1398.75 L467.31,1399.79 L466.91,1400.82 L466.51,1401.88 L466.12,1402.98 L465.75,1404.17 L465.40,1405.46 L465.08,1406.90 L464.77,1408.54 L464.47,1410.38 L464.18,1412.37 L463.89,1414.46 L463.61,1416.60 L463.34,1418.75 L463.09,1420.84 L462.86,1422.83 L462.65,1424.67 L462.46,1426.31 L462.30,1427.69 L462.16,1428.77" stroke="#ff0000" stroke-width="4" fill="none" stroke-linejoin="round"/><path d="M272.62,1206.42 L274.44,1205.74 L276.47,1204.99 L278.68,1204.18 L281.04,1203.32 L283.53,1202.44 L286.11,1201.55 L288.74,1200.67 L291.41,1199.81 L294.08,1198.99 L296.72,1198.23 L299.29,1197.55 L301.78,1196.95 L304.21,1196.42 L306.64,1195.94 L309.07,1195.49 L311.50,1195.08 L313.93,1194.72" stroke="#808080" stroke-width="9.5" fill="none"/></g><path d="M250.75,1115.3v4.5M250.75,1406.9v-4.5M214.3,1151.75h4.5M505.90000000000003,1151.75h-4.5M287.20,1115.3v4.5M287.20,1406.9v-4.5M214.3,1188.20h4.5M505.90000000000003,1188.20h-4.5M323.65,1115.3v4.5M323.65,1406.9v-4.5M214.3,1224.65h4.5M505.90000000000003,1224.65h-4.5M360.10,1115.3v4.5M360.10,1406.9v-4.5M214.3,1261.10h4.5M505.90000000000003,1261.10h-4.5M396.55,1115.3v4.5M396.55,1406.9v-4.5M214.3,1297.55h4.5M505.90000000000003,1297.55h-4.5M433.00,1115.3v4.5M433.00,1406.9v-4.5M214.3,1334.00h4.5M505.90000000000003,1334.00h-4.5M469.45,1115.3v4.5M469.45,1406.9v-4.5M214.3,1370.45h4.5M505.90000000000003,1370.45h-4.5" stroke="#000" stroke-width="2" fill="none"/><rect x="214.3" y="1115.3" width="291.6" height="291.6" fill="none" stroke="#000" stroke-width="2.3"/><text x="197.3" y="1128.3" font-size="37" text-anchor="end" >2</text><text x="197.3" y="1274.1" font-size="37" text-anchor="end" >0</text><text x="197.3" y="1419.9" font-size="37" text-anchor="end" >-2</text><text x="214.3" y="1451.9" font-size="37" text-anchor="middle" >2</text><text x="360.1" y="1451.9" font-size="37" text-anchor="middle" >0</text><text x="501.9" y="1451.9" font-size="37" text-anchor="middle" >-2</text><text x="490.9" y="1161.3" font-size="45.5" text-anchor="end" >(d)</text><text x="303.1" y="1496.9" font-size="38.5">X (R<tspan font-size="28" dy="11">M</tspan><tspan dy="-11">)</tspan></text><text transform="translate(140.3,1317.6) rotate(-90)" font-size="38">Z (R<tspan font-size="28" dy="11">M</tspan><tspan dy="-11">)</tspan></text><clipPath id="ce"><rect x="786.7" y="1115.3" width="291.6" height="291.6"/></clipPath><g clip-path="url(#ce)"><path d="M859.98,1428.23 L858.20,1425.94 L856.47,1423.68 L854.77,1421.44 L853.12,1419.23 L851.51,1417.04 L849.94,1414.87 L848.40,1412.73 L846.91,1410.61 L845.44,1408.52 L844.01,1406.44 L842.62,1404.39 L841.25,1402.35 L839.92,1400.33 L838.62,1398.34 L837.35,1396.36 L836.11,1394.40 L834.90,1392.46 L833.72,1390.54 L832.56,1388.63 L831.43,1386.74 L830.32,1384.87 L829.24,1383.01 L828.19,1381.17 L827.16,1379.34 L826.15,1377.53 L825.17,1375.73 L824.21,1373.95 L823.27,1372.18 L822.35,1370.43 L821.45,1368.68 L820.58,1366.95 L819.72,1365.23 L818.89,1363.53 L818.07,1361.84 L817.27,1360.15 L816.49,1358.48 L815.73,1356.82 L814.98,1355.18 L814.26,1353.54 L813.55,1351.91 L812.85,1350.29 L812.18,1348.69 L811.52,1347.09 L810.87,1345.50 L810.24,1343.92 L809.63,1342.35 L809.03,1340.79 L808.45,1339.23 L807.88,1337.69 L807.32,1336.15 L806.78,1334.62 L806.25,1333.10 L805.73,1331.59 L805.23,1330.08 L804.74,1328.58 L804.27,1327.09 L803.80,1325.60 L803.35,1324.12 L802.92,1322.65 L802.49,1321.18 L802.07,1319.72 L801.67,1318.26 L801.28,1316.81 L800.90,1315.37 L800.53,1313.93 L800.17,1312.50 L799.83,1311.07 L799.49,1309.65 L799.17,1308.23 L798.85,1306.81 L798.55,1305.40 L798.26,1304.00 L797.97,1302.59 L797.70,1301.20 L797.44,1299.80 L797.18,1298.41 L796.94,1297.03 L796.71,1295.64 L796.48,1294.26 L796.27,1292.89 L796.06,1291.51 L795.87,1290.14 L795.68,1288.77 L795.51,1287.41 L795.34,1286.04 L795.18,1284.68 L795.03,1283.32 L794.89,1281.96 L794.76,1280.61 L794.64,1279.26 L794.52,1277.90 L794.42,1276.55 L794.32,1275.21 L794.24,1273.86 L794.16,1272.51 L794.09,1271.17 L794.03,1269.82 L793.98,1268.48 L793.93,1267.14 L793.90,1265.80 L793.87,1264.45 L793.86,1263.11 L793.85,1261.77 L793.85,1260.43 L793.86,1259.09 L793.87,1257.75 L793.90,1256.40 L793.93,1255.06 L793.98,1253.72 L794.03,1252.38 L794.09,1251.03 L794.16,1249.69 L794.24,1248.34 L794.32,1246.99 L794.42,1245.65 L794.52,1244.30 L794.64,1242.94 L794.76,1241.59 L794.89,1240.24 L795.03,1238.88 L795.18,1237.52 L795.34,1236.16 L795.51,1234.79 L795.68,1233.43 L795.87,1232.06 L796.06,1230.69 L796.27,1229.31 L796.48,1227.94 L796.71,1226.56 L796.94,1225.17 L797.18,1223.79 L797.44,1222.40 L797.70,1221.00 L797.97,1219.61 L798.26,1218.20 L798.55,1216.80 L798.85,1215.39 L799.17,1213.97 L799.49,1212.55 L799.83,1211.13 L800.17,1209.70 L800.53,1208.27 L800.90,1206.83 L801.28,1205.39 L801.67,1203.94 L802.07,1202.48 L802.49,1201.02 L802.92,1199.55 L803.35,1198.08 L803.80,1196.60 L804.27,1195.11 L804.74,1193.62 L805.23,1192.12 L805.73,1190.61 L806.25,1189.10 L806.78,1187.58 L807.32,1186.05 L807.88,1184.51 L808.45,1182.97 L809.03,1181.41 L809.63,1179.85 L810.24,1178.28 L810.87,1176.70 L811.52,1175.11 L812.18,1173.51 L812.85,1171.91 L813.55,1170.29 L814.26,1168.66 L814.98,1167.02 L815.73,1165.38 L816.49,1163.72 L817.27,1162.05 L818.07,1160.36 L818.89,1158.67 L819.72,1156.97 L820.58,1155.25 L821.45,1153.52 L822.35,1151.77 L823.27,1150.02 L824.21,1148.25 L825.17,1146.47 L826.15,1144.67 L827.16,1142.86 L828.19,1141.03 L829.24,1139.19 L830.32,1137.33 L831.43,1135.46 L832.56,1133.57 L833.72,1131.66 L834.90,1129.74 L836.11,1127.80 L837.35,1125.84 L838.62,1123.86 L839.92,1121.87 L841.25,1119.85 L842.62,1117.81 L844.01,1115.76 L845.44,1113.68 L846.91,1111.59 L848.40,1109.47 L849.94,1107.33 L851.51,1105.16 L853.12,1102.97 L854.77,1100.76 L856.47,1098.52 L858.20,1096.26 L859.98,1093.97" stroke="#008000" stroke-width="3.4" fill="none"/><path d="M977.05,1428.70 L974.49,1427.85 L971.97,1426.99 L969.48,1426.13 L967.03,1425.26 L964.62,1424.38 L962.23,1423.49 L959.89,1422.60 L957.57,1421.70 L955.29,1420.80 L953.03,1419.89 L950.81,1418.97 L948.62,1418.04 L946.46,1417.11 L944.33,1416.17 L942.22,1415.22 L940.14,1414.27 L938.10,1413.31 L936.07,1412.34 L934.08,1411.37 L932.11,1410.39 L930.16,1409.41 L928.25,1408.42 L926.35,1407.42 L924.48,1406.41 L922.64,1405.40 L920.82,1404.39 L919.02,1403.36 L917.24,1402.33 L915.49,1401.30 L913.76,1400.26 L912.05,1399.21 L910.37,1398.16 L908.70,1397.10 L907.06,1396.03 L905.44,1394.96 L903.84,1393.89 L902.26,1392.80 L900.70,1391.72 L899.16,1390.62 L897.64,1389.52 L896.14,1388.42 L894.66,1387.31 L893.19,1386.19 L891.75,1385.07 L890.33,1383.95 L888.92,1382.81 L887.54,1381.68 L886.17,1380.54 L884.82,1379.39 L883.48,1378.24 L882.17,1377.08 L880.87,1375.92 L879.60,1374.75 L878.33,1373.58 L877.09,1372.40 L875.86,1371.22 L874.65,1370.03 L873.46,1368.84 L872.28,1367.64 L871.13,1366.44 L869.98,1365.24 L868.86,1364.03 L867.75,1362.82 L866.65,1361.60 L865.58,1360.38 L864.51,1359.15 L863.47,1357.92 L862.44,1356.68 L861.43,1355.44 L860.43,1354.20 L859.45,1352.95 L858.48,1351.70 L857.53,1350.45 L856.59,1349.19 L855.67,1347.92 L854.77,1346.66 L853.88,1345.39 L853.01,1344.11 L852.15,1342.84 L851.30,1341.55 L850.47,1340.27 L849.66,1338.98 L848.86,1337.69 L848.08,1336.40 L847.31,1335.10 L846.55,1333.80 L845.81,1332.49 L845.09,1331.19 L844.38,1329.88 L843.68,1328.56 L843.00,1327.25 L842.33,1325.93 L841.68,1324.61 L841.04,1323.28 L840.41,1321.95 L839.80,1320.62 L839.21,1319.29 L838.63,1317.96 L838.06,1316.62 L837.51,1315.28 L836.97,1313.94 L836.44,1312.59 L835.93,1311.25 L835.44,1309.90 L834.96,1308.55 L834.49,1307.20 L834.03,1305.84 L833.59,1304.48 L833.17,1303.13 L832.75,1301.77 L832.36,1300.40 L831.97,1299.04 L831.60,1297.67 L831.24,1296.31 L830.90,1294.94 L830.57,1293.57 L830.26,1292.20 L829.96,1290.82 L829.67,1289.45 L829.39,1288.08 L829.13,1286.70 L828.89,1285.32 L828.66,1283.94 L828.44,1282.56 L828.23,1281.18 L828.04,1279.80 L827.86,1278.42 L827.70,1277.04 L827.55,1275.65 L827.41,1274.27 L827.29,1272.88 L827.18,1271.50 L827.08,1270.11 L827.00,1268.73 L826.93,1267.34 L826.88,1265.95 L826.84,1264.57 L826.81,1263.18 L826.80,1261.79 L826.80,1260.41 L826.81,1259.02 L826.84,1257.63 L826.88,1256.25 L826.93,1254.86 L827.00,1253.47 L827.08,1252.09 L827.18,1250.70 L827.29,1249.32 L827.41,1247.93 L827.55,1246.55 L827.70,1245.16 L827.86,1243.78 L828.04,1242.40 L828.23,1241.02 L828.44,1239.64 L828.66,1238.26 L828.89,1236.88 L829.13,1235.50 L829.39,1234.12 L829.67,1232.75 L829.96,1231.38 L830.26,1230.00 L830.57,1228.63 L830.90,1227.26 L831.24,1225.89 L831.60,1224.53 L831.97,1223.16 L832.36,1221.80 L832.75,1220.43 L833.17,1219.07 L833.59,1217.72 L834.03,1216.36 L834.49,1215.00 L834.96,1213.65 L835.44,1212.30 L835.93,1210.95 L836.44,1209.61 L836.97,1208.26 L837.51,1206.92 L838.06,1205.58 L838.63,1204.24 L839.21,1202.91 L839.80,1201.58 L840.41,1200.25 L841.04,1198.92 L841.68,1197.59 L842.33,1196.27 L843.00,1194.95 L843.68,1193.64 L844.38,1192.32 L845.09,1191.01 L845.81,1189.71 L846.55,1188.40 L847.31,1187.10 L848.08,1185.80 L848.86,1184.51 L849.66,1183.22 L850.47,1181.93 L851.30,1180.65 L852.15,1179.36 L853.01,1178.09 L853.88,1176.81 L854.77,1175.54 L855.67,1174.28 L856.59,1173.01 L857.53,1171.75 L858.48,1170.50 L859.45,1169.25 L860.43,1168.00 L861.43,1166.76 L862.44,1165.52 L863.47,1164.28 L864.51,1163.05 L865.58,1161.82 L866.65,1160.60 L867.75,1159.38 L868.86,1158.17 L869.98,1156.96 L871.13,1155.76 L872.28,1154.56 L873.46,1153.36 L874.65,1152.17 L875.86,1150.98 L877.09,1149.80 L878.33,1148.62 L879.60,1147.45 L880.87,1146.28 L882.17,1145.12 L883.48,1143.96 L884.82,1142.81 L886.17,1141.66 L887.54,1140.52 L888.92,1139.39 L890.33,1138.25 L891.75,1137.13 L893.19,1136.01 L894.66,1134.89 L896.14,1133.78 L897.64,1132.68 L899.16,1131.58 L900.70,1130.48 L902.26,1129.40 L903.84,1128.31 L905.44,1127.24 L907.06,1126.17 L908.70,1125.10 L910.37,1124.04 L912.05,1122.99 L913.76,1121.94 L915.49,1120.90 L917.24,1119.87 L919.02,1118.84 L920.82,1117.81 L922.64,1116.80 L924.48,1115.79 L926.35,1114.78 L928.25,1113.78 L930.16,1112.79 L932.11,1111.81 L934.08,1110.83 L936.07,1109.86 L938.10,1108.89 L940.14,1107.93 L942.22,1106.98 L944.33,1106.03 L946.46,1105.09 L948.62,1104.16 L950.81,1103.23 L953.03,1102.31 L955.29,1101.40 L957.57,1100.50 L959.89,1099.60 L962.23,1098.71 L964.62,1097.82 L967.03,1096.94 L969.48,1096.07 L971.97,1095.21 L974.49,1094.35 L977.05,1093.50" stroke="#0000ff" stroke-width="3.4" fill="none"/><circle cx="932.50" cy="1261.10" r="72.90" fill="none" stroke="#000" stroke-width="4"/><path d="M932.50,1188.20 A72.90,72.90 0 0 1 932.50,1334.00 Z" fill="#000" stroke="#000" stroke-width="4"/><path d="M786.7,1261.10H1078.3000000000002" stroke="#555" stroke-width="3.4" stroke-dasharray="14.8,7.7" stroke-dashoffset="-3" fill="none"/><path d="M932.50,1115.3V1406.9" stroke="#555" stroke-width="3.4" stroke-dasharray="14.8,7.7" stroke-dashoffset="-8" fill="none"/><path d="M764.83,1282.24 L765.84,1282.18 L767.04,1282.10 L768.42,1282.01 L769.96,1281.92 L771.65,1281.81 L773.49,1281.69 L775.45,1281.57 L777.52,1281.43 L779.69,1281.28 L781.96,1281.13 L784.30,1280.96 L786.70,1280.78 L789.23,1280.59 L791.93,1280.38 L794.79,1280.16 L797.77,1279.92 L800.85,1279.67 L804.01,1279.42 L807.22,1279.16 L810.46,1278.89 L813.70,1278.63 L816.91,1278.37 L820.07,1278.11 L823.15,1277.87 L826.22,1277.62 L829.33,1277.38 L832.48,1277.14 L835.65,1276.89 L838.82,1276.65 L841.97,1276.41 L845.08,1276.17 L848.15,1275.92 L851.15,1275.68 L854.07,1275.44 L856.89,1275.19 L859.60,1274.95 L862.12,1274.71 L864.42,1274.47 L866.57,1274.24 L868.59,1274.01 L870.55,1273.77 L872.49,1273.54 L874.47,1273.30 L876.53,1273.06 L878.72,1272.82 L881.09,1272.56 L883.69,1272.30 L886.57,1272.03 L889.77,1271.75 L893.24,1271.46 L896.94,1271.16 L900.83,1270.85 L904.85,1270.53 L908.94,1270.21 L913.08,1269.89 L917.19,1269.58 L921.24,1269.27 L925.17,1268.96 L928.94,1268.67 L932.50,1268.39 L935.87,1268.13 L939.12,1267.89 L942.26,1267.66 L945.33,1267.44 L948.32,1267.23 L951.27,1267.02 L954.19,1266.81 L957.10,1266.58 L960.01,1266.34 L962.94,1266.08 L965.92,1265.79 L968.95,1265.47 L972.06,1265.13 L975.25,1264.78 L978.48,1264.42 L981.75,1264.04 L985.02,1263.65 L988.27,1263.24 L991.48,1262.81 L994.63,1262.37 L997.69,1261.90 L1000.64,1261.42 L1003.46,1260.91 L1006.13,1260.37 L1008.67,1259.82 L1011.12,1259.25 L1013.49,1258.66 L1015.77,1258.05 L1017.96,1257.42 L1020.07,1256.77 L1022.09,1256.10 L1024.03,1255.40 L1025.88,1254.68 L1027.64,1253.93 L1029.32,1253.16 L1030.91,1252.35 L1032.45,1251.50 L1033.94,1250.59 L1035.38,1249.62 L1036.75,1248.63 L1038.03,1247.60 L1039.21,1246.57 L1040.27,1245.53 L1041.20,1244.49 L1041.99,1243.48 L1042.61,1242.51 L1043.05,1241.57 L1043.31,1240.69 L1043.35,1239.84 L1043.18,1238.99 L1042.83,1238.16 L1042.31,1237.34 L1041.64,1236.54 L1040.85,1235.77 L1039.95,1235.02 L1038.96,1234.32 L1037.91,1233.65 L1036.81,1233.03 L1035.69,1232.46 L1034.56,1231.94 L1033.36,1231.49 L1032.03,1231.09 L1030.58,1230.75 L1029.05,1230.45 L1027.45,1230.20 L1025.81,1229.98 L1024.15,1229.79 L1022.49,1229.62 L1020.86,1229.46 L1019.27,1229.32 L1017.76,1229.17 L1016.34,1229.02 L1014.95,1228.88 L1013.53,1228.77 L1012.09,1228.67 L1010.66,1228.59 L1009.26,1228.53 L1007.91,1228.48 L1006.61,1228.44 L1005.40,1228.40 L1004.29,1228.37 L1003.30,1228.35 L1002.45,1228.32 L1001.75,1228.29" stroke="#ff0000" stroke-width="4" fill="none" stroke-linejoin="round"/><path d="M845.08,1276.17 L848.15,1275.92 L851.15,1275.68 L854.07,1275.44 L856.89,1275.19 L859.60,1274.95 L862.12,1274.71 L864.42,1274.47 L866.57,1274.24 L868.59,1274.01 L870.55,1273.77 L872.49,1273.54 L874.47,1273.30 L876.53,1273.06 L878.72,1272.82 L881.09,1272.56 L883.69,1272.30 L886.57,1272.03" stroke="#808080" stroke-width="9.5" fill="none"/></g><path d="M823.15,1115.3v4.5M823.15,1406.9v-4.5M786.7,1151.75h4.5M1078.3000000000002,1151.75h-4.5M859.60,1115.3v4.5M859.60,1406.9v-4.5M786.7,1188.20h4.5M1078.3000000000002,1188.20h-4.5M896.05,1115.3v4.5M896.05,1406.9v-4.5M786.7,1224.65h4.5M1078.3000000000002,1224.65h-4.5M932.50,1115.3v4.5M932.50,1406.9v-4.5M786.7,1261.10h4.5M1078.3000000000002,1261.10h-4.5M968.95,1115.3v4.5M968.95,1406.9v-4.5M786.7,1297.55h4.5M1078.3000000000002,1297.55h-4.5M1005.40,1115.3v4.5M1005.40,1406.9v-4.5M786.7,1334.00h4.5M1078.3000000000002,1334.00h-4.5M1041.85,1115.3v4.5M1041.85,1406.9v-4.5M786.7,1370.45h4.5M1078.3000000000002,1370.45h-4.5" stroke="#000" stroke-width="2" fill="none"/><rect x="786.7" y="1115.3" width="291.6" height="291.6" fill="none" stroke="#000" stroke-width="2.3"/><text x="769.7" y="1128.3" font-size="37" text-anchor="end" >2</text><text x="769.7" y="1274.1" font-size="37" text-anchor="end" >0</text><text x="769.7" y="1419.9" font-size="37" text-anchor="end" >-2</text><text x="786.7" y="1451.9" font-size="37" text-anchor="middle" >2</text><text x="932.5" y="1451.9" font-size="37" text-anchor="middle" >0</text><text x="1074.3" y="1451.9" font-size="37" text-anchor="middle" >-2</text><text x="1063.3" y="1161.3" font-size="45.5" text-anchor="end" >(e)</text><text x="875.5" y="1496.9" font-size="38.5">X (R<tspan font-size="28" dy="11">M</tspan><tspan dy="-11">)</tspan></text><text transform="translate(712.7,1317.6) rotate(-90)" font-size="38">Y (R<tspan font-size="28" dy="11">M</tspan><tspan dy="-11">)</tspan></text></svg></body></html>
